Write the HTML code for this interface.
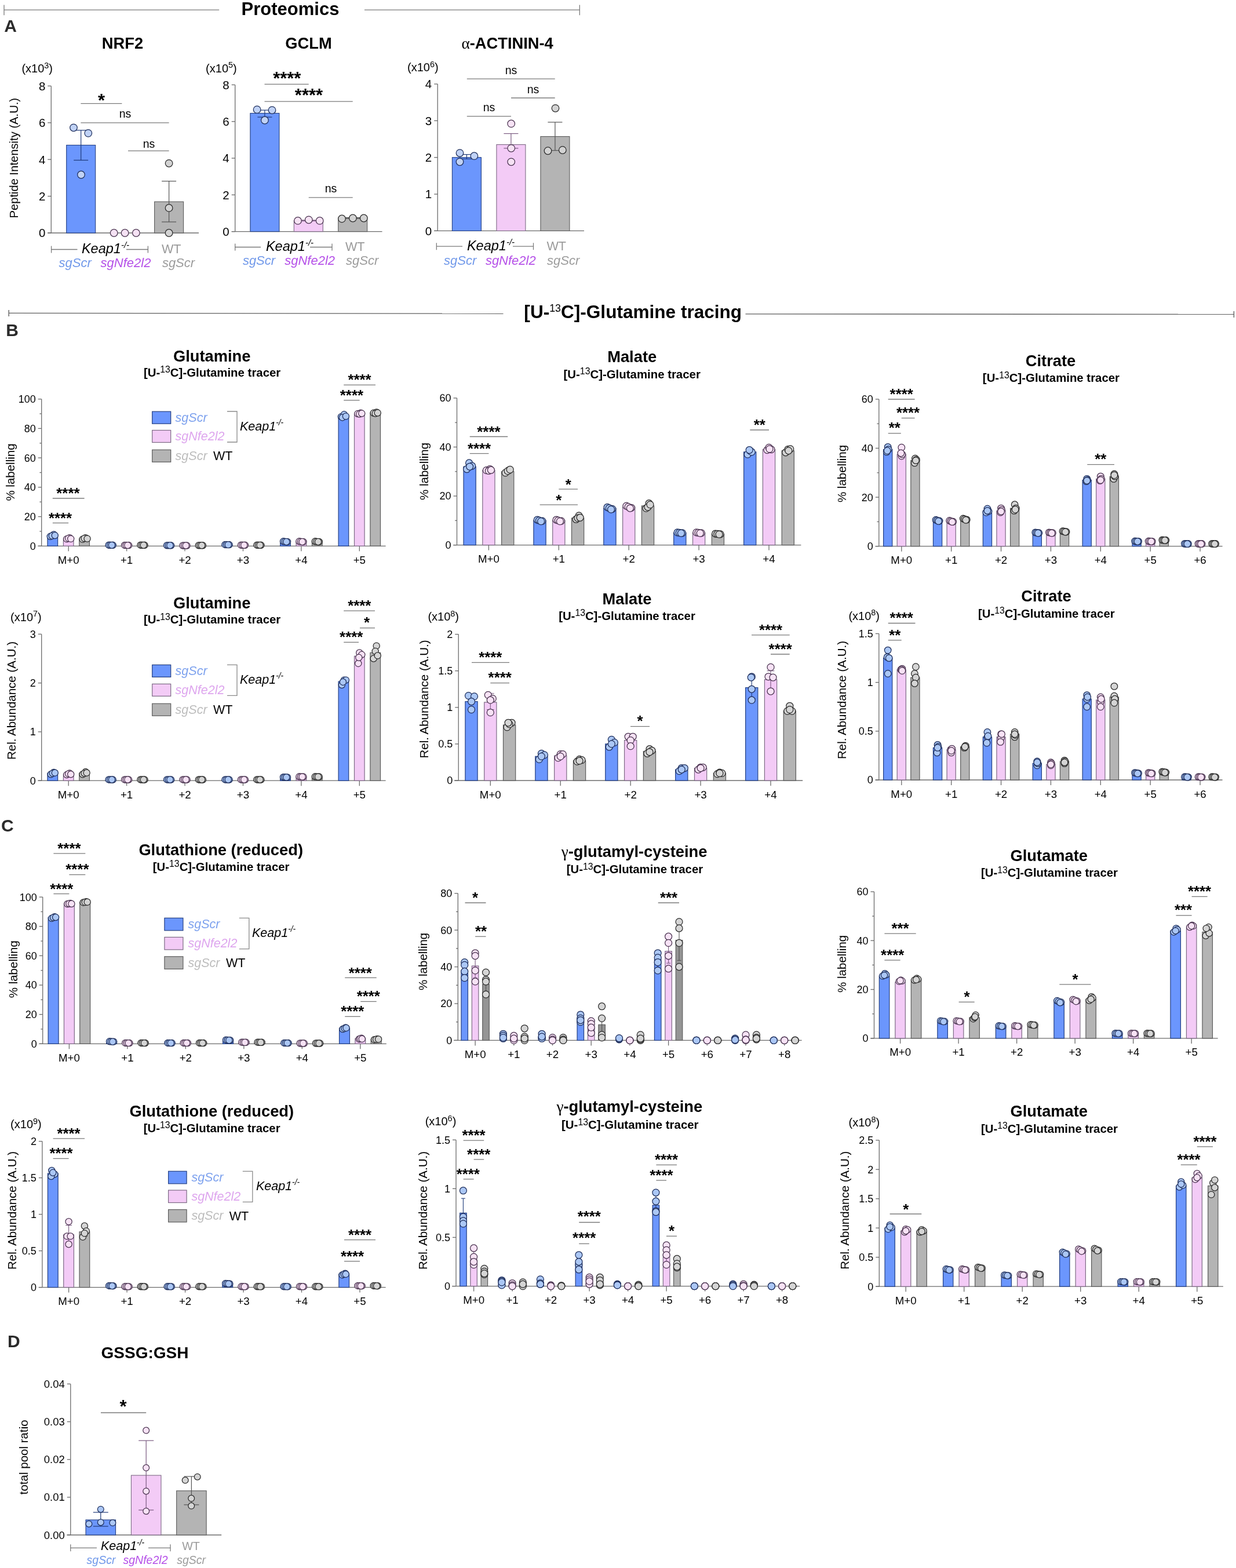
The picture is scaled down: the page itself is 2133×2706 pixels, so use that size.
<!DOCTYPE html>
<html><head><meta charset="utf-8"><title>Figure</title>
<style>html,body{margin:0;padding:0;background:#fff;}svg{display:block;}
text{font-family:"Liberation Sans",Arial,sans-serif;}</style></head>
<body><svg width="2133" height="2706" viewBox="0 0 2133 2706">
<rect width="2133" height="2706" fill="#fff"/>
<line x1="7" y1="17.2" x2="378.2" y2="17.2" stroke="#7a7a7a" stroke-width="1.3"/>
<line x1="629" y1="17.2" x2="1000.3" y2="17.2" stroke="#7a7a7a" stroke-width="1.3"/>
<line x1="7" y1="8.5" x2="7" y2="26.3" stroke="#7a7a7a" stroke-width="1.3"/>
<line x1="1000.3" y1="8.5" x2="1000.3" y2="26.3" stroke="#7a7a7a" stroke-width="1.3"/>
<text x="501" y="26.3" font-size="31" text-anchor="middle" font-weight="bold">Proteomics</text>
<line x1="15.2" y1="540.4" x2="868.5" y2="541.2" stroke="#5f5f5f" stroke-width="1.4"/>
<line x1="1286.5" y1="541.9" x2="2129.4" y2="542.4" stroke="#5f5f5f" stroke-width="1.4"/>
<line x1="15.2" y1="535" x2="15.2" y2="546" stroke="#5f5f5f" stroke-width="1.4"/>
<line x1="2129.4" y1="537" x2="2129.4" y2="548" stroke="#5f5f5f" stroke-width="1.4"/>
<text x="904.39" y="548.6" font-size="31" text-anchor="start" font-weight="bold" textLength="375.72" lengthAdjust="spacingAndGlyphs">[U-<tspan dy="-11" font-size="17.5" font-weight="normal">13</tspan><tspan dy="11">C]-Glutamine tracing</tspan></text>
<text x="7.3" y="55" font-size="30" text-anchor="start" font-weight="bold" fill="#2b2b2b">A</text>
<text x="10.3" y="579.6" font-size="30" text-anchor="start" font-weight="bold" fill="#2b2b2b">B</text>
<text x="2" y="1435" font-size="30" text-anchor="start" font-weight="bold" fill="#2b2b2b">C</text>
<text x="12.9" y="2325" font-size="30" text-anchor="start" font-weight="bold" fill="#2b2b2b">D</text>
<line x1="88.3" y1="148.4" x2="88.3" y2="402" stroke="#6b6b6b" stroke-width="1.3"/>
<line x1="82.3" y1="402" x2="343" y2="402" stroke="#6b6b6b" stroke-width="1.3"/>
<line x1="82.3" y1="402" x2="88.3" y2="402" stroke="#6b6b6b" stroke-width="1.3"/>
<text x="78.3" y="409.34" font-size="20.5" text-anchor="end">0</text>
<line x1="82.3" y1="338.6" x2="88.3" y2="338.6" stroke="#6b6b6b" stroke-width="1.3"/>
<text x="78.3" y="345.94" font-size="20.5" text-anchor="end">2</text>
<line x1="82.3" y1="275.2" x2="88.3" y2="275.2" stroke="#6b6b6b" stroke-width="1.3"/>
<text x="78.3" y="282.54" font-size="20.5" text-anchor="end">4</text>
<line x1="82.3" y1="211.8" x2="88.3" y2="211.8" stroke="#6b6b6b" stroke-width="1.3"/>
<text x="78.3" y="219.14" font-size="20.5" text-anchor="end">6</text>
<line x1="82.3" y1="148.4" x2="88.3" y2="148.4" stroke="#6b6b6b" stroke-width="1.3"/>
<text x="78.3" y="155.74" font-size="20.5" text-anchor="end">8</text>
<rect x="114.7" y="250.47" width="50" height="151.53" fill="#6b96fd" stroke="#233f82" stroke-width="1.1"/>
<rect x="266.6" y="348.11" width="50" height="53.89" fill="#b4b4b4" stroke="#5c5c5c" stroke-width="1.1"/>
<line x1="139.7" y1="224.8" x2="139.7" y2="276.47" stroke="#1f3a7a" stroke-width="1.2"/>
<line x1="127.2" y1="224.8" x2="152.2" y2="224.8" stroke="#1f3a7a" stroke-width="1.2"/>
<line x1="127.2" y1="276.47" x2="152.2" y2="276.47" stroke="#1f3a7a" stroke-width="1.2"/>
<line x1="291.6" y1="312.61" x2="291.6" y2="382.98" stroke="#555555" stroke-width="1.2"/>
<line x1="279.1" y1="312.61" x2="304.1" y2="312.61" stroke="#555555" stroke-width="1.2"/>
<line x1="279.1" y1="382.98" x2="304.1" y2="382.98" stroke="#555555" stroke-width="1.2"/>
<circle cx="127" cy="220.36" r="6.3" fill="#c0d2f6" stroke="#1f2f5c" stroke-width="1.25"/>
<circle cx="152.3" cy="229.87" r="6.3" fill="#c0d2f6" stroke="#1f2f5c" stroke-width="1.25"/>
<circle cx="140" cy="301.51" r="6.3" fill="#c0d2f6" stroke="#1f2f5c" stroke-width="1.25"/>
<circle cx="196.7" cy="402" r="6.3" fill="#f6e2f4" stroke="#4a3350" stroke-width="1.25"/>
<circle cx="215.6" cy="402" r="6.3" fill="#f6e2f4" stroke="#4a3350" stroke-width="1.25"/>
<circle cx="234.9" cy="402" r="6.3" fill="#f6e2f4" stroke="#4a3350" stroke-width="1.25"/>
<circle cx="291.6" cy="281.86" r="6.3" fill="#d3d3d3" stroke="#2a2a2a" stroke-width="1.25"/>
<circle cx="291.6" cy="358.89" r="6.3" fill="#d3d3d3" stroke="#2a2a2a" stroke-width="1.25"/>
<circle cx="291.6" cy="402" r="6.3" fill="#d3d3d3" stroke="#2a2a2a" stroke-width="1.25"/>
<line x1="139.4" y1="178.6" x2="210.4" y2="178.6" stroke="#7a7a7a" stroke-width="1.3"/>
<text x="175" y="183.51" font-size="31" text-anchor="middle" font-weight="bold">*</text>
<line x1="139.4" y1="211.9" x2="291.6" y2="211.9" stroke="#7a7a7a" stroke-width="1.3"/>
<text x="216" y="203.2" font-size="19.5" text-anchor="middle">ns</text>
<line x1="221" y1="260.4" x2="291.6" y2="260.4" stroke="#7a7a7a" stroke-width="1.3"/>
<text x="257" y="255" font-size="19.5" text-anchor="middle">ns</text>
<text x="211.5" y="84" font-size="27.3" text-anchor="middle" font-weight="bold">NRF2</text>
<text x="91" y="124.8" font-size="20" text-anchor="end">(x10<tspan dy="-7.2" font-size="14.4">3</tspan><tspan dy="7.2">)</tspan></text>
<text x="0" y="0" font-size="20.2" text-anchor="middle" transform="translate(31 272.7) rotate(-90)">Peptide Intensity (A.U.)</text>
<line x1="88.6" y1="430.5" x2="133.5" y2="430.5" stroke="#7a7a7a" stroke-width="1.3"/>
<line x1="218" y1="430.5" x2="255.4" y2="430.5" stroke="#7a7a7a" stroke-width="1.3"/>
<line x1="88.6" y1="424.5" x2="88.6" y2="436.5" stroke="#7a7a7a" stroke-width="1.3"/>
<line x1="255.4" y1="424.5" x2="255.4" y2="436.5" stroke="#7a7a7a" stroke-width="1.3"/>
<text x="182" y="437" font-size="23.5" text-anchor="middle" font-style="italic">Keap1<tspan dy="-9.4" font-size="15.04">-/-</tspan></text>
<text x="295.7" y="437" font-size="21.62" text-anchor="middle" fill="#9a9a9a">WT</text>
<text x="129.7" y="461" font-size="22" text-anchor="middle" font-style="italic" fill="#7199ea">sgScr</text>
<text x="217" y="461" font-size="22" text-anchor="middle" font-style="italic" fill="#b550e8">sgNfe2l2</text>
<text x="308" y="461" font-size="22" text-anchor="middle" font-style="italic" fill="#9c9c9c">sgScr</text>
<line x1="405.7" y1="146.4" x2="405.7" y2="399.6" stroke="#6b6b6b" stroke-width="1.3"/>
<line x1="399.7" y1="399.6" x2="659.5" y2="399.6" stroke="#6b6b6b" stroke-width="1.3"/>
<line x1="399.7" y1="399.6" x2="405.7" y2="399.6" stroke="#6b6b6b" stroke-width="1.3"/>
<text x="395.7" y="406.94" font-size="20.5" text-anchor="end">0</text>
<line x1="399.7" y1="336.3" x2="405.7" y2="336.3" stroke="#6b6b6b" stroke-width="1.3"/>
<text x="395.7" y="343.64" font-size="20.5" text-anchor="end">2</text>
<line x1="399.7" y1="273" x2="405.7" y2="273" stroke="#6b6b6b" stroke-width="1.3"/>
<text x="395.7" y="280.34" font-size="20.5" text-anchor="end">4</text>
<line x1="399.7" y1="209.7" x2="405.7" y2="209.7" stroke="#6b6b6b" stroke-width="1.3"/>
<text x="395.7" y="217.04" font-size="20.5" text-anchor="end">6</text>
<line x1="399.7" y1="146.4" x2="405.7" y2="146.4" stroke="#6b6b6b" stroke-width="1.3"/>
<text x="395.7" y="153.74" font-size="20.5" text-anchor="end">8</text>
<rect x="431.9" y="195.46" width="50" height="204.14" fill="#6b96fd" stroke="#233f82" stroke-width="1.1"/>
<rect x="507.3" y="380.61" width="50" height="18.99" fill="#f3cbf6" stroke="#7d6a85" stroke-width="1.1"/>
<rect x="583.7" y="376.18" width="50" height="23.42" fill="#b4b4b4" stroke="#5c5c5c" stroke-width="1.1"/>
<line x1="456.9" y1="190.08" x2="456.9" y2="202.1" stroke="#1f3a7a" stroke-width="1.2"/>
<line x1="444.4" y1="190.08" x2="469.4" y2="190.08" stroke="#1f3a7a" stroke-width="1.2"/>
<line x1="444.4" y1="202.1" x2="469.4" y2="202.1" stroke="#1f3a7a" stroke-width="1.2"/>
<line x1="532.3" y1="379.98" x2="532.3" y2="381.24" stroke="#7a5a80" stroke-width="1.2"/>
<line x1="519.8" y1="379.98" x2="544.8" y2="379.98" stroke="#7a5a80" stroke-width="1.2"/>
<line x1="519.8" y1="381.24" x2="544.8" y2="381.24" stroke="#7a5a80" stroke-width="1.2"/>
<line x1="608.7" y1="375.55" x2="608.7" y2="377.13" stroke="#555555" stroke-width="1.2"/>
<line x1="596.2" y1="375.55" x2="621.2" y2="375.55" stroke="#555555" stroke-width="1.2"/>
<line x1="596.2" y1="377.13" x2="621.2" y2="377.13" stroke="#555555" stroke-width="1.2"/>
<circle cx="443.6" cy="189.13" r="6.3" fill="#c0d2f6" stroke="#1f2f5c" stroke-width="1.25"/>
<circle cx="469.5" cy="190.08" r="6.3" fill="#c0d2f6" stroke="#1f2f5c" stroke-width="1.25"/>
<circle cx="456.9" cy="207.48" r="6.3" fill="#c0d2f6" stroke="#1f2f5c" stroke-width="1.25"/>
<circle cx="514" cy="380.93" r="6.3" fill="#f6e2f4" stroke="#4a3350" stroke-width="1.25"/>
<circle cx="532.8" cy="379.34" r="6.3" fill="#f6e2f4" stroke="#4a3350" stroke-width="1.25"/>
<circle cx="551.7" cy="380.93" r="6.3" fill="#f6e2f4" stroke="#4a3350" stroke-width="1.25"/>
<circle cx="590" cy="377.45" r="6.3" fill="#d3d3d3" stroke="#2a2a2a" stroke-width="1.25"/>
<circle cx="608.9" cy="376.5" r="6.3" fill="#d3d3d3" stroke="#2a2a2a" stroke-width="1.25"/>
<circle cx="627.8" cy="376.5" r="6.3" fill="#d3d3d3" stroke="#2a2a2a" stroke-width="1.25"/>
<line x1="456.5" y1="145.4" x2="532.7" y2="145.4" stroke="#7a7a7a" stroke-width="1.3"/>
<text x="495.3" y="145.71" font-size="31" text-anchor="middle" font-weight="bold">****</text>
<line x1="456.5" y1="175.2" x2="608.7" y2="175.2" stroke="#7a7a7a" stroke-width="1.3"/>
<text x="533" y="174.51" font-size="31" text-anchor="middle" font-weight="bold">****</text>
<line x1="532.7" y1="340.9" x2="608.7" y2="340.9" stroke="#7a7a7a" stroke-width="1.3"/>
<text x="571" y="332" font-size="19.5" text-anchor="middle">ns</text>
<text x="532.5" y="84" font-size="27.3" text-anchor="middle" font-weight="bold">GCLM</text>
<text x="408.7" y="124.5" font-size="20" text-anchor="end">(x10<tspan dy="-7.2" font-size="14.4">5</tspan><tspan dy="7.2">)</tspan></text>
<line x1="405.7" y1="426.5" x2="450" y2="426.5" stroke="#7a7a7a" stroke-width="1.3"/>
<line x1="535" y1="426.5" x2="573" y2="426.5" stroke="#7a7a7a" stroke-width="1.3"/>
<line x1="405.7" y1="420.5" x2="405.7" y2="432.5" stroke="#7a7a7a" stroke-width="1.3"/>
<line x1="573" y1="420.5" x2="573" y2="432.5" stroke="#7a7a7a" stroke-width="1.3"/>
<text x="500" y="433" font-size="23.5" text-anchor="middle" font-style="italic">Keap1<tspan dy="-9.4" font-size="15.04">-/-</tspan></text>
<text x="612.7" y="433" font-size="21.62" text-anchor="middle" fill="#9a9a9a">WT</text>
<text x="447" y="457" font-size="22" text-anchor="middle" font-style="italic" fill="#7199ea">sgScr</text>
<text x="534.6" y="457" font-size="22" text-anchor="middle" font-style="italic" fill="#b550e8">sgNfe2l2</text>
<text x="625.2" y="457" font-size="22" text-anchor="middle" font-style="italic" fill="#9c9c9c">sgScr</text>
<line x1="755.2" y1="145" x2="755.2" y2="398.4" stroke="#6b6b6b" stroke-width="1.3"/>
<line x1="749.2" y1="398.4" x2="1008" y2="398.4" stroke="#6b6b6b" stroke-width="1.3"/>
<line x1="749.2" y1="398.4" x2="755.2" y2="398.4" stroke="#6b6b6b" stroke-width="1.3"/>
<text x="745.2" y="405.74" font-size="20.5" text-anchor="end">0</text>
<line x1="749.2" y1="335.05" x2="755.2" y2="335.05" stroke="#6b6b6b" stroke-width="1.3"/>
<text x="745.2" y="342.39" font-size="20.5" text-anchor="end">1</text>
<line x1="749.2" y1="271.7" x2="755.2" y2="271.7" stroke="#6b6b6b" stroke-width="1.3"/>
<text x="745.2" y="279.04" font-size="20.5" text-anchor="end">2</text>
<line x1="749.2" y1="208.35" x2="755.2" y2="208.35" stroke="#6b6b6b" stroke-width="1.3"/>
<text x="745.2" y="215.69" font-size="20.5" text-anchor="end">3</text>
<line x1="749.2" y1="145" x2="755.2" y2="145" stroke="#6b6b6b" stroke-width="1.3"/>
<text x="745.2" y="152.34" font-size="20.5" text-anchor="end">4</text>
<rect x="780.4" y="271.7" width="50" height="126.7" fill="#6b96fd" stroke="#233f82" stroke-width="1.1"/>
<rect x="856.9" y="249.53" width="50" height="148.87" fill="#f3cbf6" stroke="#7d6a85" stroke-width="1.1"/>
<rect x="932.9" y="235.59" width="50" height="162.81" fill="#b4b4b4" stroke="#5c5c5c" stroke-width="1.1"/>
<line x1="805.4" y1="266.63" x2="805.4" y2="274.23" stroke="#1f3a7a" stroke-width="1.2"/>
<line x1="792.9" y1="266.63" x2="817.9" y2="266.63" stroke="#1f3a7a" stroke-width="1.2"/>
<line x1="792.9" y1="274.23" x2="817.9" y2="274.23" stroke="#1f3a7a" stroke-width="1.2"/>
<line x1="881.9" y1="230.52" x2="881.9" y2="255.86" stroke="#7a5a80" stroke-width="1.2"/>
<line x1="869.4" y1="230.52" x2="894.4" y2="230.52" stroke="#7a5a80" stroke-width="1.2"/>
<line x1="869.4" y1="255.86" x2="894.4" y2="255.86" stroke="#7a5a80" stroke-width="1.2"/>
<line x1="957.9" y1="210.88" x2="957.9" y2="259.66" stroke="#555555" stroke-width="1.2"/>
<line x1="945.4" y1="210.88" x2="970.4" y2="210.88" stroke="#555555" stroke-width="1.2"/>
<line x1="945.4" y1="259.66" x2="970.4" y2="259.66" stroke="#555555" stroke-width="1.2"/>
<circle cx="793.5" cy="264.1" r="6.3" fill="#c0d2f6" stroke="#1f2f5c" stroke-width="1.25"/>
<circle cx="818.4" cy="269.17" r="6.3" fill="#c0d2f6" stroke="#1f2f5c" stroke-width="1.25"/>
<circle cx="793.5" cy="279.3" r="6.3" fill="#c0d2f6" stroke="#1f2f5c" stroke-width="1.25"/>
<circle cx="882.2" cy="213.42" r="6.3" fill="#f6e2f4" stroke="#4a3350" stroke-width="1.25"/>
<circle cx="882.2" cy="255.86" r="6.3" fill="#f6e2f4" stroke="#4a3350" stroke-width="1.25"/>
<circle cx="882.2" cy="279.3" r="6.3" fill="#f6e2f4" stroke="#4a3350" stroke-width="1.25"/>
<circle cx="958.5" cy="186.81" r="6.3" fill="#d3d3d3" stroke="#2a2a2a" stroke-width="1.25"/>
<circle cx="945.5" cy="260.3" r="6.3" fill="#d3d3d3" stroke="#2a2a2a" stroke-width="1.25"/>
<circle cx="970.8" cy="259.03" r="6.3" fill="#d3d3d3" stroke="#2a2a2a" stroke-width="1.25"/>
<line x1="805.8" y1="136.2" x2="957.7" y2="136.2" stroke="#7a7a7a" stroke-width="1.3"/>
<text x="882" y="127.7" font-size="19.5" text-anchor="middle">ns</text>
<line x1="882" y1="169" x2="957.7" y2="169" stroke="#7a7a7a" stroke-width="1.3"/>
<text x="920" y="160.6" font-size="19.5" text-anchor="middle">ns</text>
<line x1="805.8" y1="200.7" x2="882" y2="200.7" stroke="#7a7a7a" stroke-width="1.3"/>
<text x="844" y="192.4" font-size="19.5" text-anchor="middle">ns</text>
<text x="875.6" y="84" font-size="27.3" text-anchor="middle" font-weight="bold"><tspan font-family='"Liberation Serif", serif' font-weight="normal">α</tspan>-ACTININ-4</text>
<text x="756.6" y="123" font-size="20" text-anchor="end">(x10<tspan dy="-7.2" font-size="14.4">6</tspan><tspan dy="7.2">)</tspan></text>
<line x1="753.3" y1="425.2" x2="798" y2="425.2" stroke="#7a7a7a" stroke-width="1.3"/>
<line x1="885" y1="425.2" x2="920.5" y2="425.2" stroke="#7a7a7a" stroke-width="1.3"/>
<line x1="753.3" y1="419.2" x2="753.3" y2="431.2" stroke="#7a7a7a" stroke-width="1.3"/>
<line x1="920.5" y1="419.2" x2="920.5" y2="431.2" stroke="#7a7a7a" stroke-width="1.3"/>
<text x="847" y="432" font-size="23.5" text-anchor="middle" font-style="italic">Keap1<tspan dy="-9.4" font-size="15.04">-/-</tspan></text>
<text x="960.2" y="432" font-size="21.62" text-anchor="middle" fill="#9a9a9a">WT</text>
<text x="794.2" y="456.5" font-size="22" text-anchor="middle" font-style="italic" fill="#7199ea">sgScr</text>
<text x="881.3" y="456.5" font-size="22" text-anchor="middle" font-style="italic" fill="#b550e8">sgNfe2l2</text>
<text x="972.2" y="456.5" font-size="22" text-anchor="middle" font-style="italic" fill="#9c9c9c">sgScr</text>
<line x1="71.7" y1="688.7" x2="71.7" y2="942.3" stroke="#6b6b6b" stroke-width="1.3"/>
<line x1="65.5" y1="942.3" x2="665.6" y2="942.3" stroke="#6b6b6b" stroke-width="1.3"/>
<line x1="65.7" y1="942.3" x2="71.7" y2="942.3" stroke="#6b6b6b" stroke-width="1.3"/>
<text x="61.7" y="948.74" font-size="18" text-anchor="end">0</text>
<line x1="65.7" y1="891.58" x2="71.7" y2="891.58" stroke="#6b6b6b" stroke-width="1.3"/>
<text x="61.7" y="898.02" font-size="18" text-anchor="end">20</text>
<line x1="65.7" y1="840.86" x2="71.7" y2="840.86" stroke="#6b6b6b" stroke-width="1.3"/>
<text x="61.7" y="847.3" font-size="18" text-anchor="end">40</text>
<line x1="65.7" y1="790.14" x2="71.7" y2="790.14" stroke="#6b6b6b" stroke-width="1.3"/>
<text x="61.7" y="796.58" font-size="18" text-anchor="end">60</text>
<line x1="65.7" y1="739.42" x2="71.7" y2="739.42" stroke="#6b6b6b" stroke-width="1.3"/>
<text x="61.7" y="745.86" font-size="18" text-anchor="end">80</text>
<line x1="65.7" y1="688.7" x2="71.7" y2="688.7" stroke="#6b6b6b" stroke-width="1.3"/>
<text x="61.7" y="695.14" font-size="18" text-anchor="end">100</text>
<line x1="68.4" y1="916.94" x2="71.7" y2="916.94" stroke="#6b6b6b" stroke-width="1.3"/>
<line x1="68.4" y1="866.22" x2="71.7" y2="866.22" stroke="#6b6b6b" stroke-width="1.3"/>
<line x1="68.4" y1="815.5" x2="71.7" y2="815.5" stroke="#6b6b6b" stroke-width="1.3"/>
<line x1="68.4" y1="764.78" x2="71.7" y2="764.78" stroke="#6b6b6b" stroke-width="1.3"/>
<line x1="68.4" y1="714.06" x2="71.7" y2="714.06" stroke="#6b6b6b" stroke-width="1.3"/>
<line x1="118.2" y1="942.3" x2="118.2" y2="951.3" stroke="#6b6b6b" stroke-width="1.3"/>
<text x="118.2" y="972.8" font-size="18.7" text-anchor="middle">M+0</text>
<line x1="218.62" y1="942.3" x2="218.62" y2="951.3" stroke="#6b6b6b" stroke-width="1.3"/>
<text x="218.62" y="972.8" font-size="18.7" text-anchor="middle">+1</text>
<line x1="319.04" y1="942.3" x2="319.04" y2="951.3" stroke="#6b6b6b" stroke-width="1.3"/>
<text x="319.04" y="972.8" font-size="18.7" text-anchor="middle">+2</text>
<line x1="419.46" y1="942.3" x2="419.46" y2="951.3" stroke="#6b6b6b" stroke-width="1.3"/>
<text x="419.46" y="972.8" font-size="18.7" text-anchor="middle">+3</text>
<line x1="519.88" y1="942.3" x2="519.88" y2="951.3" stroke="#6b6b6b" stroke-width="1.3"/>
<text x="519.88" y="972.8" font-size="18.7" text-anchor="middle">+4</text>
<line x1="620.3" y1="942.3" x2="620.3" y2="951.3" stroke="#6b6b6b" stroke-width="1.3"/>
<text x="620.3" y="972.8" font-size="18.7" text-anchor="middle">+5</text>
<rect x="82" y="924.55" width="17.6" height="17.75" fill="#6b96fd" stroke="#233f82" stroke-width="1.2"/>
<rect x="109.4" y="929.62" width="17.6" height="12.68" fill="#f3cbf6" stroke="#7d6a85" stroke-width="1.2"/>
<rect x="136.8" y="929.62" width="17.6" height="12.68" fill="#b4b4b4" stroke="#5c5c5c" stroke-width="1.2"/>
<rect x="182.42" y="940.78" width="17.6" height="1.52" fill="#6b96fd" stroke="#233f82" stroke-width="1.2"/>
<rect x="209.82" y="941.03" width="17.6" height="1.27" fill="#f3cbf6" stroke="#7d6a85" stroke-width="1.2"/>
<rect x="237.22" y="940.78" width="17.6" height="1.52" fill="#b4b4b4" stroke="#5c5c5c" stroke-width="1.2"/>
<rect x="282.84" y="941.29" width="17.6" height="1.01" fill="#6b96fd" stroke="#233f82" stroke-width="1.2"/>
<rect x="310.24" y="941.54" width="17.6" height="0.76" fill="#f3cbf6" stroke="#7d6a85" stroke-width="1.2"/>
<rect x="337.64" y="941.29" width="17.6" height="1.01" fill="#b4b4b4" stroke="#5c5c5c" stroke-width="1.2"/>
<rect x="383.26" y="940.02" width="17.6" height="2.28" fill="#6b96fd" stroke="#233f82" stroke-width="1.2"/>
<rect x="410.66" y="940.78" width="17.6" height="1.52" fill="#f3cbf6" stroke="#7d6a85" stroke-width="1.2"/>
<rect x="438.06" y="940.78" width="17.6" height="1.52" fill="#b4b4b4" stroke="#5c5c5c" stroke-width="1.2"/>
<rect x="483.68" y="934.69" width="17.6" height="7.61" fill="#6b96fd" stroke="#233f82" stroke-width="1.2"/>
<rect x="511.08" y="934.69" width="17.6" height="7.61" fill="#f3cbf6" stroke="#7d6a85" stroke-width="1.2"/>
<rect x="538.48" y="934.69" width="17.6" height="7.61" fill="#b4b4b4" stroke="#5c5c5c" stroke-width="1.2"/>
<rect x="584.1" y="719.13" width="17.6" height="223.17" fill="#6b96fd" stroke="#233f82" stroke-width="1.2"/>
<rect x="611.5" y="714.06" width="17.6" height="228.24" fill="#f3cbf6" stroke="#7d6a85" stroke-width="1.2"/>
<rect x="638.9" y="712.79" width="17.6" height="229.51" fill="#b4b4b4" stroke="#5c5c5c" stroke-width="1.2"/>
<circle cx="86.8" cy="925.82" r="5.6" fill="#abc7f5" stroke="#1f2f5c" stroke-width="1.25"/>
<circle cx="92.8" cy="922.52" r="5.6" fill="#abc7f5" stroke="#1f2f5c" stroke-width="1.25"/>
<circle cx="89.8" cy="924.8" r="5.6" fill="#abc7f5" stroke="#1f2f5c" stroke-width="1.25"/>
<circle cx="94.8" cy="924.04" r="5.6" fill="#abc7f5" stroke="#1f2f5c" stroke-width="1.25"/>
<circle cx="115.2" cy="930.13" r="5.6" fill="#f7e2f5" stroke="#4a3350" stroke-width="1.25"/>
<circle cx="120.2" cy="928.1" r="5.6" fill="#f7e2f5" stroke="#4a3350" stroke-width="1.25"/>
<circle cx="118.2" cy="929.11" r="5.6" fill="#f7e2f5" stroke="#4a3350" stroke-width="1.25"/>
<circle cx="122.2" cy="929.87" r="5.6" fill="#f7e2f5" stroke="#4a3350" stroke-width="1.25"/>
<circle cx="142.6" cy="930.63" r="5.6" fill="#d5d5d5" stroke="#2a2a2a" stroke-width="1.25"/>
<circle cx="147.6" cy="928.1" r="5.6" fill="#d5d5d5" stroke="#2a2a2a" stroke-width="1.25"/>
<circle cx="145.6" cy="929.11" r="5.6" fill="#d5d5d5" stroke="#2a2a2a" stroke-width="1.25"/>
<circle cx="150.6" cy="929.62" r="5.6" fill="#d5d5d5" stroke="#2a2a2a" stroke-width="1.25"/>
<circle cx="187.7" cy="940.7" r="5.6" fill="#abc7f5" stroke="#1f2f5c" stroke-width="1.25"/>
<circle cx="194.74" cy="940.82" r="5.6" fill="#abc7f5" stroke="#1f2f5c" stroke-width="1.25"/>
<circle cx="190.34" cy="940.76" r="5.6" fill="#abc7f5" stroke="#1f2f5c" stroke-width="1.25"/>
<circle cx="192.98" cy="940.85" r="5.6" fill="#abc7f5" stroke="#1f2f5c" stroke-width="1.25"/>
<circle cx="215.1" cy="940.97" r="5.6" fill="#f7e2f5" stroke="#4a3350" stroke-width="1.25"/>
<circle cx="222.14" cy="941.07" r="5.6" fill="#f7e2f5" stroke="#4a3350" stroke-width="1.25"/>
<circle cx="217.74" cy="941.02" r="5.6" fill="#f7e2f5" stroke="#4a3350" stroke-width="1.25"/>
<circle cx="220.38" cy="941.1" r="5.6" fill="#f7e2f5" stroke="#4a3350" stroke-width="1.25"/>
<circle cx="242.5" cy="940.7" r="5.6" fill="#d5d5d5" stroke="#2a2a2a" stroke-width="1.25"/>
<circle cx="249.54" cy="940.82" r="5.6" fill="#d5d5d5" stroke="#2a2a2a" stroke-width="1.25"/>
<circle cx="245.14" cy="940.76" r="5.6" fill="#d5d5d5" stroke="#2a2a2a" stroke-width="1.25"/>
<circle cx="247.78" cy="940.85" r="5.6" fill="#d5d5d5" stroke="#2a2a2a" stroke-width="1.25"/>
<circle cx="288.12" cy="941.23" r="5.6" fill="#abc7f5" stroke="#1f2f5c" stroke-width="1.25"/>
<circle cx="295.16" cy="941.32" r="5.6" fill="#abc7f5" stroke="#1f2f5c" stroke-width="1.25"/>
<circle cx="290.76" cy="941.28" r="5.6" fill="#abc7f5" stroke="#1f2f5c" stroke-width="1.25"/>
<circle cx="293.4" cy="941.34" r="5.6" fill="#abc7f5" stroke="#1f2f5c" stroke-width="1.25"/>
<circle cx="315.52" cy="941.5" r="5.6" fill="#f7e2f5" stroke="#4a3350" stroke-width="1.25"/>
<circle cx="322.56" cy="941.56" r="5.6" fill="#f7e2f5" stroke="#4a3350" stroke-width="1.25"/>
<circle cx="318.16" cy="941.53" r="5.6" fill="#f7e2f5" stroke="#4a3350" stroke-width="1.25"/>
<circle cx="320.8" cy="941.58" r="5.6" fill="#f7e2f5" stroke="#4a3350" stroke-width="1.25"/>
<circle cx="342.92" cy="941.23" r="5.6" fill="#d5d5d5" stroke="#2a2a2a" stroke-width="1.25"/>
<circle cx="349.96" cy="941.32" r="5.6" fill="#d5d5d5" stroke="#2a2a2a" stroke-width="1.25"/>
<circle cx="345.56" cy="941.28" r="5.6" fill="#d5d5d5" stroke="#2a2a2a" stroke-width="1.25"/>
<circle cx="348.2" cy="941.34" r="5.6" fill="#d5d5d5" stroke="#2a2a2a" stroke-width="1.25"/>
<circle cx="388.54" cy="939.9" r="5.6" fill="#abc7f5" stroke="#1f2f5c" stroke-width="1.25"/>
<circle cx="395.58" cy="940.09" r="5.6" fill="#abc7f5" stroke="#1f2f5c" stroke-width="1.25"/>
<circle cx="391.18" cy="939.99" r="5.6" fill="#abc7f5" stroke="#1f2f5c" stroke-width="1.25"/>
<circle cx="393.82" cy="940.13" r="5.6" fill="#abc7f5" stroke="#1f2f5c" stroke-width="1.25"/>
<circle cx="415.94" cy="940.7" r="5.6" fill="#f7e2f5" stroke="#4a3350" stroke-width="1.25"/>
<circle cx="422.98" cy="940.82" r="5.6" fill="#f7e2f5" stroke="#4a3350" stroke-width="1.25"/>
<circle cx="418.58" cy="940.76" r="5.6" fill="#f7e2f5" stroke="#4a3350" stroke-width="1.25"/>
<circle cx="421.22" cy="940.85" r="5.6" fill="#f7e2f5" stroke="#4a3350" stroke-width="1.25"/>
<circle cx="443.34" cy="940.7" r="5.6" fill="#d5d5d5" stroke="#2a2a2a" stroke-width="1.25"/>
<circle cx="450.38" cy="940.82" r="5.6" fill="#d5d5d5" stroke="#2a2a2a" stroke-width="1.25"/>
<circle cx="445.98" cy="940.76" r="5.6" fill="#d5d5d5" stroke="#2a2a2a" stroke-width="1.25"/>
<circle cx="448.62" cy="940.85" r="5.6" fill="#d5d5d5" stroke="#2a2a2a" stroke-width="1.25"/>
<circle cx="488.96" cy="934.31" r="5.6" fill="#abc7f5" stroke="#1f2f5c" stroke-width="1.25"/>
<circle cx="496" cy="934.92" r="5.6" fill="#abc7f5" stroke="#1f2f5c" stroke-width="1.25"/>
<circle cx="491.6" cy="934.62" r="5.6" fill="#abc7f5" stroke="#1f2f5c" stroke-width="1.25"/>
<circle cx="494.24" cy="935.07" r="5.6" fill="#abc7f5" stroke="#1f2f5c" stroke-width="1.25"/>
<circle cx="516.36" cy="934.31" r="5.6" fill="#f7e2f5" stroke="#4a3350" stroke-width="1.25"/>
<circle cx="523.4" cy="934.92" r="5.6" fill="#f7e2f5" stroke="#4a3350" stroke-width="1.25"/>
<circle cx="519" cy="934.62" r="5.6" fill="#f7e2f5" stroke="#4a3350" stroke-width="1.25"/>
<circle cx="521.64" cy="935.07" r="5.6" fill="#f7e2f5" stroke="#4a3350" stroke-width="1.25"/>
<circle cx="543.76" cy="934.31" r="5.6" fill="#d5d5d5" stroke="#2a2a2a" stroke-width="1.25"/>
<circle cx="550.8" cy="934.92" r="5.6" fill="#d5d5d5" stroke="#2a2a2a" stroke-width="1.25"/>
<circle cx="546.4" cy="934.62" r="5.6" fill="#d5d5d5" stroke="#2a2a2a" stroke-width="1.25"/>
<circle cx="549.04" cy="935.07" r="5.6" fill="#d5d5d5" stroke="#2a2a2a" stroke-width="1.25"/>
<circle cx="588.9" cy="719.13" r="5.6" fill="#abc7f5" stroke="#1f2f5c" stroke-width="1.25"/>
<circle cx="593.9" cy="715.33" r="5.6" fill="#abc7f5" stroke="#1f2f5c" stroke-width="1.25"/>
<circle cx="590.9" cy="720.4" r="5.6" fill="#abc7f5" stroke="#1f2f5c" stroke-width="1.25"/>
<circle cx="596.9" cy="718.37" r="5.6" fill="#abc7f5" stroke="#1f2f5c" stroke-width="1.25"/>
<circle cx="617.3" cy="714.06" r="5.6" fill="#f7e2f5" stroke="#4a3350" stroke-width="1.25"/>
<circle cx="622.3" cy="712.79" r="5.6" fill="#f7e2f5" stroke="#4a3350" stroke-width="1.25"/>
<circle cx="620.3" cy="714.57" r="5.6" fill="#f7e2f5" stroke="#4a3350" stroke-width="1.25"/>
<circle cx="624.3" cy="713.55" r="5.6" fill="#f7e2f5" stroke="#4a3350" stroke-width="1.25"/>
<circle cx="644.7" cy="712.79" r="5.6" fill="#d5d5d5" stroke="#2a2a2a" stroke-width="1.25"/>
<circle cx="649.7" cy="711.52" r="5.6" fill="#d5d5d5" stroke="#2a2a2a" stroke-width="1.25"/>
<circle cx="647.7" cy="713.55" r="5.6" fill="#d5d5d5" stroke="#2a2a2a" stroke-width="1.25"/>
<circle cx="651.7" cy="712.54" r="5.6" fill="#d5d5d5" stroke="#2a2a2a" stroke-width="1.25"/>
<line x1="90.8" y1="902.5" x2="118.2" y2="902.5" stroke="#7a7a7a" stroke-width="1.3"/>
<text x="104" y="902.56" font-size="25.8" text-anchor="middle" font-weight="bold">****</text>
<line x1="90.8" y1="860" x2="145.6" y2="860" stroke="#7a7a7a" stroke-width="1.3"/>
<text x="117.4" y="859.96" font-size="25.8" text-anchor="middle" font-weight="bold">****</text>
<line x1="593.2" y1="690.7" x2="620.6" y2="690.7" stroke="#7a7a7a" stroke-width="1.3"/>
<text x="606.9" y="690.76" font-size="25.8" text-anchor="middle" font-weight="bold">****</text>
<line x1="593.2" y1="664.4" x2="648" y2="664.4" stroke="#7a7a7a" stroke-width="1.3"/>
<text x="620.6" y="664.06" font-size="25.8" text-anchor="middle" font-weight="bold">****</text>
<text x="365.7" y="624" font-size="27.3" text-anchor="middle" font-weight="bold">Glutamine</text>
<text x="247.94" y="650.1" font-size="21" text-anchor="start" font-weight="bold" textLength="236.38" lengthAdjust="spacingAndGlyphs">[U-<tspan dy="-6.7" font-size="16.3" font-weight="normal">13</tspan><tspan dy="6.7">C]-Glutamine tracer</tspan></text>
<text x="0" y="0" font-size="20.5" text-anchor="middle" transform="translate(24.7 815) rotate(-90)">% labelling</text>
<rect x="262.7" y="710.2" width="32" height="21" fill="#6b96fd" stroke="#233f82" stroke-width="1.2"/>
<text x="302.6" y="727.8" font-size="21.5" text-anchor="start" font-style="italic" fill="#7ea2ee">sgScr</text>
<rect x="262.7" y="742.5" width="32" height="21" fill="#f3cbf6" stroke="#7d6a85" stroke-width="1.2"/>
<text x="302.6" y="760.1" font-size="21.5" text-anchor="start" font-style="italic" fill="#dea6ee">sgNfe2l2</text>
<rect x="262.7" y="776.3" width="32" height="21" fill="#b4b4b4" stroke="#5c5c5c" stroke-width="1.2"/>
<text x="302.6" y="793.89" font-size="21.5" text-anchor="start" font-style="italic" fill="#bdbdbd">sgScr</text>
<text x="368" y="794.32" font-size="21.5" text-anchor="start">WT</text>
<polyline points="392,710 409,710 409,763 392,763" fill="none" stroke="#8a8a8a" stroke-width="1.3"/>
<text x="414" y="742.82" font-size="21.5" text-anchor="start" font-style="italic">Keap1<tspan dy="-8.6" font-size="13.76">-/-</tspan></text>
<line x1="788.5" y1="686.92" x2="788.5" y2="940.6" stroke="#6b6b6b" stroke-width="1.3"/>
<line x1="782.2" y1="940.6" x2="1382.4" y2="940.6" stroke="#6b6b6b" stroke-width="1.3"/>
<line x1="782.5" y1="940.6" x2="788.5" y2="940.6" stroke="#6b6b6b" stroke-width="1.3"/>
<text x="778.5" y="947.04" font-size="18" text-anchor="end">0</text>
<line x1="782.5" y1="856.04" x2="788.5" y2="856.04" stroke="#6b6b6b" stroke-width="1.3"/>
<text x="778.5" y="862.48" font-size="18" text-anchor="end">20</text>
<line x1="782.5" y1="771.48" x2="788.5" y2="771.48" stroke="#6b6b6b" stroke-width="1.3"/>
<text x="778.5" y="777.92" font-size="18" text-anchor="end">40</text>
<line x1="782.5" y1="686.92" x2="788.5" y2="686.92" stroke="#6b6b6b" stroke-width="1.3"/>
<text x="778.5" y="693.36" font-size="18" text-anchor="end">60</text>
<line x1="785.2" y1="898.32" x2="788.5" y2="898.32" stroke="#6b6b6b" stroke-width="1.3"/>
<line x1="785.2" y1="813.76" x2="788.5" y2="813.76" stroke="#6b6b6b" stroke-width="1.3"/>
<line x1="785.2" y1="729.2" x2="788.5" y2="729.2" stroke="#6b6b6b" stroke-width="1.3"/>
<line x1="843.4" y1="940.6" x2="843.4" y2="949.6" stroke="#6b6b6b" stroke-width="1.3"/>
<text x="843.4" y="971.1" font-size="18.7" text-anchor="middle">M+0</text>
<line x1="964.3" y1="940.6" x2="964.3" y2="949.6" stroke="#6b6b6b" stroke-width="1.3"/>
<text x="964.3" y="971.1" font-size="18.7" text-anchor="middle">+1</text>
<line x1="1085.2" y1="940.6" x2="1085.2" y2="949.6" stroke="#6b6b6b" stroke-width="1.3"/>
<text x="1085.2" y="971.1" font-size="18.7" text-anchor="middle">+2</text>
<line x1="1206.1" y1="940.6" x2="1206.1" y2="949.6" stroke="#6b6b6b" stroke-width="1.3"/>
<text x="1206.1" y="971.1" font-size="18.7" text-anchor="middle">+3</text>
<line x1="1327" y1="940.6" x2="1327" y2="949.6" stroke="#6b6b6b" stroke-width="1.3"/>
<text x="1327" y="971.1" font-size="18.7" text-anchor="middle">+4</text>
<rect x="800" y="805.3" width="21.2" height="135.3" fill="#6b96fd" stroke="#233f82" stroke-width="1.2"/>
<rect x="832.8" y="811.65" width="21.2" height="128.95" fill="#f3cbf6" stroke="#7d6a85" stroke-width="1.2"/>
<rect x="865.6" y="813.76" width="21.2" height="126.84" fill="#b4b4b4" stroke="#5c5c5c" stroke-width="1.2"/>
<rect x="920.9" y="898.32" width="21.2" height="42.28" fill="#6b96fd" stroke="#233f82" stroke-width="1.2"/>
<rect x="953.7" y="898.32" width="21.2" height="42.28" fill="#f3cbf6" stroke="#7d6a85" stroke-width="1.2"/>
<rect x="986.5" y="894.09" width="21.2" height="46.51" fill="#b4b4b4" stroke="#5c5c5c" stroke-width="1.2"/>
<rect x="1041.8" y="877.18" width="21.2" height="63.42" fill="#6b96fd" stroke="#233f82" stroke-width="1.2"/>
<rect x="1074.6" y="875.07" width="21.2" height="65.53" fill="#f3cbf6" stroke="#7d6a85" stroke-width="1.2"/>
<rect x="1107.4" y="872.95" width="21.2" height="67.65" fill="#b4b4b4" stroke="#5c5c5c" stroke-width="1.2"/>
<rect x="1162.7" y="919.46" width="21.2" height="21.14" fill="#6b96fd" stroke="#233f82" stroke-width="1.2"/>
<rect x="1195.5" y="919.46" width="21.2" height="21.14" fill="#f3cbf6" stroke="#7d6a85" stroke-width="1.2"/>
<rect x="1228.3" y="921.57" width="21.2" height="19.03" fill="#b4b4b4" stroke="#5c5c5c" stroke-width="1.2"/>
<rect x="1283.6" y="779.94" width="21.2" height="160.66" fill="#6b96fd" stroke="#233f82" stroke-width="1.2"/>
<rect x="1316.4" y="775.71" width="21.2" height="164.89" fill="#f3cbf6" stroke="#7d6a85" stroke-width="1.2"/>
<rect x="1349.2" y="777.82" width="21.2" height="162.78" fill="#b4b4b4" stroke="#5c5c5c" stroke-width="1.2"/>
<circle cx="805.6" cy="809.53" r="6" fill="#abc7f5" stroke="#1f2f5c" stroke-width="1.25"/>
<circle cx="809.6" cy="798.96" r="6" fill="#abc7f5" stroke="#1f2f5c" stroke-width="1.25"/>
<circle cx="814.6" cy="804.04" r="6" fill="#abc7f5" stroke="#1f2f5c" stroke-width="1.25"/>
<circle cx="810.6" cy="805.3" r="6" fill="#abc7f5" stroke="#1f2f5c" stroke-width="1.25"/>
<circle cx="839.4" cy="811.65" r="6" fill="#f7e2f5" stroke="#4a3350" stroke-width="1.25"/>
<circle cx="845.4" cy="809.53" r="6" fill="#f7e2f5" stroke="#4a3350" stroke-width="1.25"/>
<circle cx="843.4" cy="812.49" r="6" fill="#f7e2f5" stroke="#4a3350" stroke-width="1.25"/>
<circle cx="847.4" cy="811.22" r="6" fill="#f7e2f5" stroke="#4a3350" stroke-width="1.25"/>
<circle cx="872.2" cy="815.87" r="6" fill="#d5d5d5" stroke="#2a2a2a" stroke-width="1.25"/>
<circle cx="878.2" cy="811.65" r="6" fill="#d5d5d5" stroke="#2a2a2a" stroke-width="1.25"/>
<circle cx="876.2" cy="812.91" r="6" fill="#d5d5d5" stroke="#2a2a2a" stroke-width="1.25"/>
<circle cx="880.2" cy="810.38" r="6" fill="#d5d5d5" stroke="#2a2a2a" stroke-width="1.25"/>
<circle cx="927.26" cy="897.05" r="6" fill="#abc7f5" stroke="#1f2f5c" stroke-width="1.25"/>
<circle cx="935.74" cy="899.08" r="6" fill="#abc7f5" stroke="#1f2f5c" stroke-width="1.25"/>
<circle cx="930.44" cy="898.07" r="6" fill="#abc7f5" stroke="#1f2f5c" stroke-width="1.25"/>
<circle cx="933.62" cy="899.59" r="6" fill="#abc7f5" stroke="#1f2f5c" stroke-width="1.25"/>
<circle cx="960.06" cy="897.05" r="6" fill="#f7e2f5" stroke="#4a3350" stroke-width="1.25"/>
<circle cx="968.54" cy="899.08" r="6" fill="#f7e2f5" stroke="#4a3350" stroke-width="1.25"/>
<circle cx="963.24" cy="898.07" r="6" fill="#f7e2f5" stroke="#4a3350" stroke-width="1.25"/>
<circle cx="966.42" cy="899.59" r="6" fill="#f7e2f5" stroke="#4a3350" stroke-width="1.25"/>
<circle cx="994.1" cy="896.21" r="6" fill="#d5d5d5" stroke="#2a2a2a" stroke-width="1.25"/>
<circle cx="999.1" cy="889.86" r="6" fill="#d5d5d5" stroke="#2a2a2a" stroke-width="1.25"/>
<circle cx="997.1" cy="894.09" r="6" fill="#d5d5d5" stroke="#2a2a2a" stroke-width="1.25"/>
<circle cx="1001.1" cy="893.25" r="6" fill="#d5d5d5" stroke="#2a2a2a" stroke-width="1.25"/>
<circle cx="1048.16" cy="875.28" r="6" fill="#abc7f5" stroke="#1f2f5c" stroke-width="1.25"/>
<circle cx="1056.64" cy="878.32" r="6" fill="#abc7f5" stroke="#1f2f5c" stroke-width="1.25"/>
<circle cx="1051.34" cy="876.8" r="6" fill="#abc7f5" stroke="#1f2f5c" stroke-width="1.25"/>
<circle cx="1054.52" cy="879.08" r="6" fill="#abc7f5" stroke="#1f2f5c" stroke-width="1.25"/>
<circle cx="1080.96" cy="873.1" r="6" fill="#f7e2f5" stroke="#4a3350" stroke-width="1.25"/>
<circle cx="1089.44" cy="876.25" r="6" fill="#f7e2f5" stroke="#4a3350" stroke-width="1.25"/>
<circle cx="1084.14" cy="874.67" r="6" fill="#f7e2f5" stroke="#4a3350" stroke-width="1.25"/>
<circle cx="1087.32" cy="877.03" r="6" fill="#f7e2f5" stroke="#4a3350" stroke-width="1.25"/>
<circle cx="1115" cy="877.18" r="6" fill="#d5d5d5" stroke="#2a2a2a" stroke-width="1.25"/>
<circle cx="1120" cy="868.72" r="6" fill="#d5d5d5" stroke="#2a2a2a" stroke-width="1.25"/>
<circle cx="1118" cy="875.07" r="6" fill="#d5d5d5" stroke="#2a2a2a" stroke-width="1.25"/>
<circle cx="1122" cy="870.84" r="6" fill="#d5d5d5" stroke="#2a2a2a" stroke-width="1.25"/>
<circle cx="1169.06" cy="918.83" r="6" fill="#abc7f5" stroke="#1f2f5c" stroke-width="1.25"/>
<circle cx="1177.54" cy="919.84" r="6" fill="#abc7f5" stroke="#1f2f5c" stroke-width="1.25"/>
<circle cx="1172.24" cy="919.33" r="6" fill="#abc7f5" stroke="#1f2f5c" stroke-width="1.25"/>
<circle cx="1175.42" cy="920.09" r="6" fill="#abc7f5" stroke="#1f2f5c" stroke-width="1.25"/>
<circle cx="1201.86" cy="918.83" r="6" fill="#f7e2f5" stroke="#4a3350" stroke-width="1.25"/>
<circle cx="1210.34" cy="919.84" r="6" fill="#f7e2f5" stroke="#4a3350" stroke-width="1.25"/>
<circle cx="1205.04" cy="919.33" r="6" fill="#f7e2f5" stroke="#4a3350" stroke-width="1.25"/>
<circle cx="1208.22" cy="920.09" r="6" fill="#f7e2f5" stroke="#4a3350" stroke-width="1.25"/>
<circle cx="1234.66" cy="921" r="6" fill="#d5d5d5" stroke="#2a2a2a" stroke-width="1.25"/>
<circle cx="1243.14" cy="921.92" r="6" fill="#d5d5d5" stroke="#2a2a2a" stroke-width="1.25"/>
<circle cx="1237.84" cy="921.46" r="6" fill="#d5d5d5" stroke="#2a2a2a" stroke-width="1.25"/>
<circle cx="1241.02" cy="922.14" r="6" fill="#d5d5d5" stroke="#2a2a2a" stroke-width="1.25"/>
<circle cx="1290.2" cy="784.16" r="6" fill="#abc7f5" stroke="#1f2f5c" stroke-width="1.25"/>
<circle cx="1294.2" cy="777.82" r="6" fill="#abc7f5" stroke="#1f2f5c" stroke-width="1.25"/>
<circle cx="1297.2" cy="779.94" r="6" fill="#abc7f5" stroke="#1f2f5c" stroke-width="1.25"/>
<circle cx="1293.2" cy="776.55" r="6" fill="#abc7f5" stroke="#1f2f5c" stroke-width="1.25"/>
<circle cx="1324" cy="776.55" r="6" fill="#f7e2f5" stroke="#4a3350" stroke-width="1.25"/>
<circle cx="1327" cy="772.33" r="6" fill="#f7e2f5" stroke="#4a3350" stroke-width="1.25"/>
<circle cx="1331" cy="775.71" r="6" fill="#f7e2f5" stroke="#4a3350" stroke-width="1.25"/>
<circle cx="1328" cy="774.86" r="6" fill="#f7e2f5" stroke="#4a3350" stroke-width="1.25"/>
<circle cx="1355.8" cy="780.78" r="6" fill="#d5d5d5" stroke="#2a2a2a" stroke-width="1.25"/>
<circle cx="1359.8" cy="775.71" r="6" fill="#d5d5d5" stroke="#2a2a2a" stroke-width="1.25"/>
<circle cx="1363.8" cy="774.86" r="6" fill="#d5d5d5" stroke="#2a2a2a" stroke-width="1.25"/>
<circle cx="1360.8" cy="777.82" r="6" fill="#d5d5d5" stroke="#2a2a2a" stroke-width="1.25"/>
<line x1="810.7" y1="782.6" x2="843.4" y2="782.6" stroke="#7a7a7a" stroke-width="1.3"/>
<text x="827" y="782.66" font-size="25.8" text-anchor="middle" font-weight="bold">****</text>
<line x1="810.7" y1="753.5" x2="876.2" y2="753.5" stroke="#7a7a7a" stroke-width="1.3"/>
<text x="843.4" y="753.96" font-size="25.8" text-anchor="middle" font-weight="bold">****</text>
<line x1="931.6" y1="871.1" x2="997" y2="871.1" stroke="#7a7a7a" stroke-width="1.3"/>
<text x="964.3" y="871.56" font-size="25.8" text-anchor="middle" font-weight="bold">*</text>
<line x1="964.3" y1="844.1" x2="997" y2="844.1" stroke="#7a7a7a" stroke-width="1.3"/>
<text x="980.7" y="844.96" font-size="25.8" text-anchor="middle" font-weight="bold">*</text>
<line x1="1294.3" y1="742" x2="1327" y2="742" stroke="#7a7a7a" stroke-width="1.3"/>
<text x="1310.7" y="742.46" font-size="25.8" text-anchor="middle" font-weight="bold">**</text>
<text x="1090.7" y="624.8" font-size="27.3" text-anchor="middle" font-weight="bold">Malate</text>
<text x="972.55" y="652.5" font-size="21" text-anchor="start" font-weight="bold" textLength="236.28" lengthAdjust="spacingAndGlyphs">[U-<tspan dy="-6.7" font-size="16.3" font-weight="normal">13</tspan><tspan dy="6.7">C]-Glutamine tracer</tspan></text>
<text x="0" y="0" font-size="20.5" text-anchor="middle" transform="translate(738.7 813.4) rotate(-90)">% labelling</text>
<line x1="1516.8" y1="688.9" x2="1516.8" y2="942.7" stroke="#6b6b6b" stroke-width="1.3"/>
<line x1="1510.5" y1="942.7" x2="2109.6" y2="942.7" stroke="#6b6b6b" stroke-width="1.3"/>
<line x1="1510.8" y1="942.7" x2="1516.8" y2="942.7" stroke="#6b6b6b" stroke-width="1.3"/>
<text x="1506.8" y="949.14" font-size="18" text-anchor="end">0</text>
<line x1="1510.8" y1="858.1" x2="1516.8" y2="858.1" stroke="#6b6b6b" stroke-width="1.3"/>
<text x="1506.8" y="864.54" font-size="18" text-anchor="end">20</text>
<line x1="1510.8" y1="773.5" x2="1516.8" y2="773.5" stroke="#6b6b6b" stroke-width="1.3"/>
<text x="1506.8" y="779.94" font-size="18" text-anchor="end">40</text>
<line x1="1510.8" y1="688.9" x2="1516.8" y2="688.9" stroke="#6b6b6b" stroke-width="1.3"/>
<text x="1506.8" y="695.34" font-size="18" text-anchor="end">60</text>
<line x1="1513.5" y1="900.4" x2="1516.8" y2="900.4" stroke="#6b6b6b" stroke-width="1.3"/>
<line x1="1513.5" y1="815.8" x2="1516.8" y2="815.8" stroke="#6b6b6b" stroke-width="1.3"/>
<line x1="1513.5" y1="731.2" x2="1516.8" y2="731.2" stroke="#6b6b6b" stroke-width="1.3"/>
<line x1="1555.8" y1="942.7" x2="1555.8" y2="951.7" stroke="#6b6b6b" stroke-width="1.3"/>
<text x="1555.8" y="973.2" font-size="18.7" text-anchor="middle">M+0</text>
<line x1="1641.68" y1="942.7" x2="1641.68" y2="951.7" stroke="#6b6b6b" stroke-width="1.3"/>
<text x="1641.68" y="973.2" font-size="18.7" text-anchor="middle">+1</text>
<line x1="1727.56" y1="942.7" x2="1727.56" y2="951.7" stroke="#6b6b6b" stroke-width="1.3"/>
<text x="1727.56" y="973.2" font-size="18.7" text-anchor="middle">+2</text>
<line x1="1813.44" y1="942.7" x2="1813.44" y2="951.7" stroke="#6b6b6b" stroke-width="1.3"/>
<text x="1813.44" y="973.2" font-size="18.7" text-anchor="middle">+3</text>
<line x1="1899.32" y1="942.7" x2="1899.32" y2="951.7" stroke="#6b6b6b" stroke-width="1.3"/>
<text x="1899.32" y="973.2" font-size="18.7" text-anchor="middle">+4</text>
<line x1="1985.2" y1="942.7" x2="1985.2" y2="951.7" stroke="#6b6b6b" stroke-width="1.3"/>
<text x="1985.2" y="973.2" font-size="18.7" text-anchor="middle">+5</text>
<line x1="2071.08" y1="942.7" x2="2071.08" y2="951.7" stroke="#6b6b6b" stroke-width="1.3"/>
<text x="2071.08" y="973.2" font-size="18.7" text-anchor="middle">+6</text>
<rect x="1524.6" y="775.62" width="15.2" height="167.09" fill="#6b96fd" stroke="#233f82" stroke-width="1.2"/>
<rect x="1548.2" y="784.08" width="15.2" height="158.62" fill="#f3cbf6" stroke="#7d6a85" stroke-width="1.2"/>
<rect x="1571.8" y="794.65" width="15.2" height="148.05" fill="#b4b4b4" stroke="#5c5c5c" stroke-width="1.2"/>
<rect x="1610.48" y="898.29" width="15.2" height="44.41" fill="#6b96fd" stroke="#233f82" stroke-width="1.2"/>
<rect x="1634.08" y="899.55" width="15.2" height="43.15" fill="#f3cbf6" stroke="#7d6a85" stroke-width="1.2"/>
<rect x="1657.68" y="896.17" width="15.2" height="46.53" fill="#b4b4b4" stroke="#5c5c5c" stroke-width="1.2"/>
<rect x="1696.36" y="881.37" width="15.2" height="61.34" fill="#6b96fd" stroke="#233f82" stroke-width="1.2"/>
<rect x="1719.96" y="881.37" width="15.2" height="61.34" fill="#f3cbf6" stroke="#7d6a85" stroke-width="1.2"/>
<rect x="1743.56" y="877.13" width="15.2" height="65.57" fill="#b4b4b4" stroke="#5c5c5c" stroke-width="1.2"/>
<rect x="1782.24" y="919.44" width="15.2" height="23.26" fill="#6b96fd" stroke="#233f82" stroke-width="1.2"/>
<rect x="1805.84" y="919.44" width="15.2" height="23.26" fill="#f3cbf6" stroke="#7d6a85" stroke-width="1.2"/>
<rect x="1829.44" y="917.32" width="15.2" height="25.38" fill="#b4b4b4" stroke="#5c5c5c" stroke-width="1.2"/>
<rect x="1868.12" y="828.49" width="15.2" height="114.21" fill="#6b96fd" stroke="#233f82" stroke-width="1.2"/>
<rect x="1891.72" y="826.38" width="15.2" height="116.33" fill="#f3cbf6" stroke="#7d6a85" stroke-width="1.2"/>
<rect x="1915.32" y="822.14" width="15.2" height="120.56" fill="#b4b4b4" stroke="#5c5c5c" stroke-width="1.2"/>
<rect x="1954" y="934.24" width="15.2" height="8.46" fill="#6b96fd" stroke="#233f82" stroke-width="1.2"/>
<rect x="1977.6" y="934.24" width="15.2" height="8.46" fill="#f3cbf6" stroke="#7d6a85" stroke-width="1.2"/>
<rect x="2001.2" y="932.12" width="15.2" height="10.58" fill="#b4b4b4" stroke="#5c5c5c" stroke-width="1.2"/>
<rect x="2039.88" y="938.47" width="15.2" height="4.23" fill="#6b96fd" stroke="#233f82" stroke-width="1.2"/>
<rect x="2063.48" y="938.47" width="15.2" height="4.23" fill="#f3cbf6" stroke="#7d6a85" stroke-width="1.2"/>
<rect x="2087.08" y="938.47" width="15.2" height="4.23" fill="#b4b4b4" stroke="#5c5c5c" stroke-width="1.2"/>
<circle cx="1530.2" cy="779.85" r="5.8" fill="#abc7f5" stroke="#1f2f5c" stroke-width="1.25"/>
<circle cx="1532.2" cy="771.38" r="5.8" fill="#abc7f5" stroke="#1f2f5c" stroke-width="1.25"/>
<circle cx="1533.2" cy="775.62" r="5.8" fill="#abc7f5" stroke="#1f2f5c" stroke-width="1.25"/>
<circle cx="1531.2" cy="777.73" r="5.8" fill="#abc7f5" stroke="#1f2f5c" stroke-width="1.25"/>
<circle cx="1555.8" cy="787.04" r="5.8" fill="#f7e2f5" stroke="#4a3350" stroke-width="1.25"/>
<circle cx="1555.8" cy="772.23" r="5.8" fill="#f7e2f5" stroke="#4a3350" stroke-width="1.25"/>
<circle cx="1556.8" cy="784.08" r="5.8" fill="#f7e2f5" stroke="#4a3350" stroke-width="1.25"/>
<circle cx="1554.8" cy="781.96" r="5.8" fill="#f7e2f5" stroke="#4a3350" stroke-width="1.25"/>
<circle cx="1578.4" cy="798.88" r="5.8" fill="#d5d5d5" stroke="#2a2a2a" stroke-width="1.25"/>
<circle cx="1579.4" cy="791.27" r="5.8" fill="#d5d5d5" stroke="#2a2a2a" stroke-width="1.25"/>
<circle cx="1581.4" cy="793.38" r="5.8" fill="#d5d5d5" stroke="#2a2a2a" stroke-width="1.25"/>
<circle cx="1580.4" cy="794.65" r="5.8" fill="#d5d5d5" stroke="#2a2a2a" stroke-width="1.25"/>
<circle cx="1615.04" cy="897.17" r="5.8" fill="#abc7f5" stroke="#1f2f5c" stroke-width="1.25"/>
<circle cx="1621.12" cy="898.95" r="5.8" fill="#abc7f5" stroke="#1f2f5c" stroke-width="1.25"/>
<circle cx="1617.32" cy="898.06" r="5.8" fill="#abc7f5" stroke="#1f2f5c" stroke-width="1.25"/>
<circle cx="1619.6" cy="899.4" r="5.8" fill="#abc7f5" stroke="#1f2f5c" stroke-width="1.25"/>
<circle cx="1638.64" cy="898.48" r="5.8" fill="#f7e2f5" stroke="#4a3350" stroke-width="1.25"/>
<circle cx="1644.72" cy="900.2" r="5.8" fill="#f7e2f5" stroke="#4a3350" stroke-width="1.25"/>
<circle cx="1640.92" cy="899.34" r="5.8" fill="#f7e2f5" stroke="#4a3350" stroke-width="1.25"/>
<circle cx="1643.2" cy="900.63" r="5.8" fill="#f7e2f5" stroke="#4a3350" stroke-width="1.25"/>
<circle cx="1662.24" cy="895.01" r="5.8" fill="#d5d5d5" stroke="#2a2a2a" stroke-width="1.25"/>
<circle cx="1668.32" cy="896.87" r="5.8" fill="#d5d5d5" stroke="#2a2a2a" stroke-width="1.25"/>
<circle cx="1664.52" cy="895.94" r="5.8" fill="#d5d5d5" stroke="#2a2a2a" stroke-width="1.25"/>
<circle cx="1666.8" cy="897.33" r="5.8" fill="#d5d5d5" stroke="#2a2a2a" stroke-width="1.25"/>
<circle cx="1701.96" cy="884.33" r="5.8" fill="#abc7f5" stroke="#1f2f5c" stroke-width="1.25"/>
<circle cx="1703.96" cy="877.98" r="5.8" fill="#abc7f5" stroke="#1f2f5c" stroke-width="1.25"/>
<circle cx="1705.96" cy="882.21" r="5.8" fill="#abc7f5" stroke="#1f2f5c" stroke-width="1.25"/>
<circle cx="1703.96" cy="881.37" r="5.8" fill="#abc7f5" stroke="#1f2f5c" stroke-width="1.25"/>
<circle cx="1726.56" cy="884.33" r="5.8" fill="#f7e2f5" stroke="#4a3350" stroke-width="1.25"/>
<circle cx="1727.56" cy="877.13" r="5.8" fill="#f7e2f5" stroke="#4a3350" stroke-width="1.25"/>
<circle cx="1728.56" cy="880.1" r="5.8" fill="#f7e2f5" stroke="#4a3350" stroke-width="1.25"/>
<circle cx="1727.56" cy="882.63" r="5.8" fill="#f7e2f5" stroke="#4a3350" stroke-width="1.25"/>
<circle cx="1750.16" cy="881.37" r="5.8" fill="#d5d5d5" stroke="#2a2a2a" stroke-width="1.25"/>
<circle cx="1751.16" cy="870.79" r="5.8" fill="#d5d5d5" stroke="#2a2a2a" stroke-width="1.25"/>
<circle cx="1753.16" cy="877.13" r="5.8" fill="#d5d5d5" stroke="#2a2a2a" stroke-width="1.25"/>
<circle cx="1752.16" cy="879.25" r="5.8" fill="#d5d5d5" stroke="#2a2a2a" stroke-width="1.25"/>
<circle cx="1786.8" cy="918.85" r="5.8" fill="#abc7f5" stroke="#1f2f5c" stroke-width="1.25"/>
<circle cx="1792.88" cy="919.78" r="5.8" fill="#abc7f5" stroke="#1f2f5c" stroke-width="1.25"/>
<circle cx="1789.08" cy="919.32" r="5.8" fill="#abc7f5" stroke="#1f2f5c" stroke-width="1.25"/>
<circle cx="1791.36" cy="920.02" r="5.8" fill="#abc7f5" stroke="#1f2f5c" stroke-width="1.25"/>
<circle cx="1810.4" cy="918.85" r="5.8" fill="#f7e2f5" stroke="#4a3350" stroke-width="1.25"/>
<circle cx="1816.48" cy="919.78" r="5.8" fill="#f7e2f5" stroke="#4a3350" stroke-width="1.25"/>
<circle cx="1812.68" cy="919.32" r="5.8" fill="#f7e2f5" stroke="#4a3350" stroke-width="1.25"/>
<circle cx="1814.96" cy="920.02" r="5.8" fill="#f7e2f5" stroke="#4a3350" stroke-width="1.25"/>
<circle cx="1834" cy="916.69" r="5.8" fill="#d5d5d5" stroke="#2a2a2a" stroke-width="1.25"/>
<circle cx="1840.08" cy="917.7" r="5.8" fill="#d5d5d5" stroke="#2a2a2a" stroke-width="1.25"/>
<circle cx="1836.28" cy="917.19" r="5.8" fill="#d5d5d5" stroke="#2a2a2a" stroke-width="1.25"/>
<circle cx="1838.56" cy="917.95" r="5.8" fill="#d5d5d5" stroke="#2a2a2a" stroke-width="1.25"/>
<circle cx="1874.72" cy="830.61" r="5.8" fill="#abc7f5" stroke="#1f2f5c" stroke-width="1.25"/>
<circle cx="1875.72" cy="826.38" r="5.8" fill="#abc7f5" stroke="#1f2f5c" stroke-width="1.25"/>
<circle cx="1876.72" cy="828.49" r="5.8" fill="#abc7f5" stroke="#1f2f5c" stroke-width="1.25"/>
<circle cx="1875.72" cy="829.34" r="5.8" fill="#abc7f5" stroke="#1f2f5c" stroke-width="1.25"/>
<circle cx="1898.32" cy="829.34" r="5.8" fill="#f7e2f5" stroke="#4a3350" stroke-width="1.25"/>
<circle cx="1899.32" cy="822.14" r="5.8" fill="#f7e2f5" stroke="#4a3350" stroke-width="1.25"/>
<circle cx="1900.32" cy="826.38" r="5.8" fill="#f7e2f5" stroke="#4a3350" stroke-width="1.25"/>
<circle cx="1899.32" cy="828.49" r="5.8" fill="#f7e2f5" stroke="#4a3350" stroke-width="1.25"/>
<circle cx="1921.92" cy="826.38" r="5.8" fill="#d5d5d5" stroke="#2a2a2a" stroke-width="1.25"/>
<circle cx="1922.92" cy="817.92" r="5.8" fill="#d5d5d5" stroke="#2a2a2a" stroke-width="1.25"/>
<circle cx="1923.92" cy="822.14" r="5.8" fill="#d5d5d5" stroke="#2a2a2a" stroke-width="1.25"/>
<circle cx="1922.92" cy="820.03" r="5.8" fill="#d5d5d5" stroke="#2a2a2a" stroke-width="1.25"/>
<circle cx="1958.56" cy="934.03" r="5.8" fill="#abc7f5" stroke="#1f2f5c" stroke-width="1.25"/>
<circle cx="1964.64" cy="934.37" r="5.8" fill="#abc7f5" stroke="#1f2f5c" stroke-width="1.25"/>
<circle cx="1960.84" cy="934.2" r="5.8" fill="#abc7f5" stroke="#1f2f5c" stroke-width="1.25"/>
<circle cx="1963.12" cy="934.45" r="5.8" fill="#abc7f5" stroke="#1f2f5c" stroke-width="1.25"/>
<circle cx="1982.16" cy="934.03" r="5.8" fill="#f7e2f5" stroke="#4a3350" stroke-width="1.25"/>
<circle cx="1988.24" cy="934.37" r="5.8" fill="#f7e2f5" stroke="#4a3350" stroke-width="1.25"/>
<circle cx="1984.44" cy="934.2" r="5.8" fill="#f7e2f5" stroke="#4a3350" stroke-width="1.25"/>
<circle cx="1986.72" cy="934.45" r="5.8" fill="#f7e2f5" stroke="#4a3350" stroke-width="1.25"/>
<circle cx="2005.76" cy="931.86" r="5.8" fill="#d5d5d5" stroke="#2a2a2a" stroke-width="1.25"/>
<circle cx="2011.84" cy="932.28" r="5.8" fill="#d5d5d5" stroke="#2a2a2a" stroke-width="1.25"/>
<circle cx="2008.04" cy="932.07" r="5.8" fill="#d5d5d5" stroke="#2a2a2a" stroke-width="1.25"/>
<circle cx="2010.32" cy="932.39" r="5.8" fill="#d5d5d5" stroke="#2a2a2a" stroke-width="1.25"/>
<circle cx="2044.44" cy="938.36" r="5.8" fill="#abc7f5" stroke="#1f2f5c" stroke-width="1.25"/>
<circle cx="2050.52" cy="938.53" r="5.8" fill="#abc7f5" stroke="#1f2f5c" stroke-width="1.25"/>
<circle cx="2046.72" cy="938.45" r="5.8" fill="#abc7f5" stroke="#1f2f5c" stroke-width="1.25"/>
<circle cx="2049" cy="938.58" r="5.8" fill="#abc7f5" stroke="#1f2f5c" stroke-width="1.25"/>
<circle cx="2068.04" cy="938.36" r="5.8" fill="#f7e2f5" stroke="#4a3350" stroke-width="1.25"/>
<circle cx="2074.12" cy="938.53" r="5.8" fill="#f7e2f5" stroke="#4a3350" stroke-width="1.25"/>
<circle cx="2070.32" cy="938.45" r="5.8" fill="#f7e2f5" stroke="#4a3350" stroke-width="1.25"/>
<circle cx="2072.6" cy="938.58" r="5.8" fill="#f7e2f5" stroke="#4a3350" stroke-width="1.25"/>
<circle cx="2091.64" cy="938.36" r="5.8" fill="#d5d5d5" stroke="#2a2a2a" stroke-width="1.25"/>
<circle cx="2097.72" cy="938.53" r="5.8" fill="#d5d5d5" stroke="#2a2a2a" stroke-width="1.25"/>
<circle cx="2093.92" cy="938.45" r="5.8" fill="#d5d5d5" stroke="#2a2a2a" stroke-width="1.25"/>
<circle cx="2096.2" cy="938.58" r="5.8" fill="#d5d5d5" stroke="#2a2a2a" stroke-width="1.25"/>
<line x1="1532.7" y1="747.8" x2="1554.8" y2="747.8" stroke="#7a7a7a" stroke-width="1.3"/>
<text x="1543.7" y="747.16" font-size="25.8" text-anchor="middle" font-weight="bold">**</text>
<line x1="1555.7" y1="721.5" x2="1578.6" y2="721.5" stroke="#7a7a7a" stroke-width="1.3"/>
<text x="1567" y="720.86" font-size="25.8" text-anchor="middle" font-weight="bold">****</text>
<line x1="1532.7" y1="689" x2="1578.6" y2="689" stroke="#7a7a7a" stroke-width="1.3"/>
<text x="1555.7" y="688.76" font-size="25.8" text-anchor="middle" font-weight="bold">****</text>
<line x1="1876.3" y1="801.6" x2="1923" y2="801.6" stroke="#7a7a7a" stroke-width="1.3"/>
<text x="1899.2" y="801.46" font-size="25.8" text-anchor="middle" font-weight="bold">**</text>
<text x="1813" y="631.7" font-size="27.3" text-anchor="middle" font-weight="bold">Citrate</text>
<text x="1695.85" y="659.4" font-size="21" text-anchor="start" font-weight="bold" textLength="236.19" lengthAdjust="spacingAndGlyphs">[U-<tspan dy="-6.7" font-size="16.3" font-weight="normal">13</tspan><tspan dy="6.7">C]-Glutamine tracer</tspan></text>
<text x="0" y="0" font-size="20.5" text-anchor="middle" transform="translate(1459.5 817.5) rotate(-90)">% labelling</text>
<line x1="71.7" y1="1094.39" x2="71.7" y2="1347.2" stroke="#6b6b6b" stroke-width="1.3"/>
<line x1="65.5" y1="1347.2" x2="665.6" y2="1347.2" stroke="#6b6b6b" stroke-width="1.3"/>
<line x1="65.7" y1="1347.2" x2="71.7" y2="1347.2" stroke="#6b6b6b" stroke-width="1.3"/>
<text x="61.7" y="1353.64" font-size="18" text-anchor="end">0</text>
<line x1="65.7" y1="1262.93" x2="71.7" y2="1262.93" stroke="#6b6b6b" stroke-width="1.3"/>
<text x="61.7" y="1269.37" font-size="18" text-anchor="end">1</text>
<line x1="65.7" y1="1178.66" x2="71.7" y2="1178.66" stroke="#6b6b6b" stroke-width="1.3"/>
<text x="61.7" y="1185.1" font-size="18" text-anchor="end">2</text>
<line x1="65.7" y1="1094.39" x2="71.7" y2="1094.39" stroke="#6b6b6b" stroke-width="1.3"/>
<text x="61.7" y="1100.83" font-size="18" text-anchor="end">3</text>
<line x1="118.2" y1="1347.2" x2="118.2" y2="1356.2" stroke="#6b6b6b" stroke-width="1.3"/>
<text x="118.2" y="1377.7" font-size="18.7" text-anchor="middle">M+0</text>
<line x1="218.62" y1="1347.2" x2="218.62" y2="1356.2" stroke="#6b6b6b" stroke-width="1.3"/>
<text x="218.62" y="1377.7" font-size="18.7" text-anchor="middle">+1</text>
<line x1="319.04" y1="1347.2" x2="319.04" y2="1356.2" stroke="#6b6b6b" stroke-width="1.3"/>
<text x="319.04" y="1377.7" font-size="18.7" text-anchor="middle">+2</text>
<line x1="419.46" y1="1347.2" x2="419.46" y2="1356.2" stroke="#6b6b6b" stroke-width="1.3"/>
<text x="419.46" y="1377.7" font-size="18.7" text-anchor="middle">+3</text>
<line x1="519.88" y1="1347.2" x2="519.88" y2="1356.2" stroke="#6b6b6b" stroke-width="1.3"/>
<text x="519.88" y="1377.7" font-size="18.7" text-anchor="middle">+4</text>
<line x1="620.3" y1="1347.2" x2="620.3" y2="1356.2" stroke="#6b6b6b" stroke-width="1.3"/>
<text x="620.3" y="1377.7" font-size="18.7" text-anchor="middle">+5</text>
<rect x="82" y="1334.56" width="17.6" height="12.64" fill="#6b96fd" stroke="#233f82" stroke-width="1.2"/>
<rect x="109.4" y="1336.24" width="17.6" height="10.96" fill="#f3cbf6" stroke="#7d6a85" stroke-width="1.2"/>
<rect x="136.8" y="1334.56" width="17.6" height="12.64" fill="#b4b4b4" stroke="#5c5c5c" stroke-width="1.2"/>
<rect x="182.42" y="1345.51" width="17.6" height="1.69" fill="#6b96fd" stroke="#233f82" stroke-width="1.2"/>
<rect x="209.82" y="1345.51" width="17.6" height="1.69" fill="#f3cbf6" stroke="#7d6a85" stroke-width="1.2"/>
<rect x="237.22" y="1345.51" width="17.6" height="1.69" fill="#b4b4b4" stroke="#5c5c5c" stroke-width="1.2"/>
<rect x="282.84" y="1345.51" width="17.6" height="1.69" fill="#6b96fd" stroke="#233f82" stroke-width="1.2"/>
<rect x="310.24" y="1345.51" width="17.6" height="1.69" fill="#f3cbf6" stroke="#7d6a85" stroke-width="1.2"/>
<rect x="337.64" y="1345.51" width="17.6" height="1.69" fill="#b4b4b4" stroke="#5c5c5c" stroke-width="1.2"/>
<rect x="383.26" y="1345.51" width="17.6" height="1.69" fill="#6b96fd" stroke="#233f82" stroke-width="1.2"/>
<rect x="410.66" y="1345.51" width="17.6" height="1.69" fill="#f3cbf6" stroke="#7d6a85" stroke-width="1.2"/>
<rect x="438.06" y="1345.51" width="17.6" height="1.69" fill="#b4b4b4" stroke="#5c5c5c" stroke-width="1.2"/>
<rect x="483.68" y="1341.3" width="17.6" height="5.9" fill="#6b96fd" stroke="#233f82" stroke-width="1.2"/>
<rect x="511.08" y="1340.46" width="17.6" height="6.74" fill="#f3cbf6" stroke="#7d6a85" stroke-width="1.2"/>
<rect x="538.48" y="1340.46" width="17.6" height="6.74" fill="#b4b4b4" stroke="#5c5c5c" stroke-width="1.2"/>
<rect x="584.1" y="1176.13" width="17.6" height="171.07" fill="#6b96fd" stroke="#233f82" stroke-width="1.2"/>
<rect x="611.5" y="1132.31" width="17.6" height="214.89" fill="#f3cbf6" stroke="#7d6a85" stroke-width="1.2"/>
<rect x="638.9" y="1126.41" width="17.6" height="220.79" fill="#b4b4b4" stroke="#5c5c5c" stroke-width="1.2"/>
<circle cx="87.8" cy="1336.24" r="5.6" fill="#abc7f5" stroke="#1f2f5c" stroke-width="1.25"/>
<circle cx="92.8" cy="1332.87" r="5.6" fill="#abc7f5" stroke="#1f2f5c" stroke-width="1.25"/>
<circle cx="90.8" cy="1334.56" r="5.6" fill="#abc7f5" stroke="#1f2f5c" stroke-width="1.25"/>
<circle cx="94.8" cy="1333.72" r="5.6" fill="#abc7f5" stroke="#1f2f5c" stroke-width="1.25"/>
<circle cx="115.2" cy="1337.09" r="5.6" fill="#f7e2f5" stroke="#4a3350" stroke-width="1.25"/>
<circle cx="120.2" cy="1334.56" r="5.6" fill="#f7e2f5" stroke="#4a3350" stroke-width="1.25"/>
<circle cx="118.2" cy="1335.4" r="5.6" fill="#f7e2f5" stroke="#4a3350" stroke-width="1.25"/>
<circle cx="122.2" cy="1336.24" r="5.6" fill="#f7e2f5" stroke="#4a3350" stroke-width="1.25"/>
<circle cx="142.6" cy="1336.24" r="5.6" fill="#d5d5d5" stroke="#2a2a2a" stroke-width="1.25"/>
<circle cx="147.6" cy="1332.03" r="5.6" fill="#d5d5d5" stroke="#2a2a2a" stroke-width="1.25"/>
<circle cx="145.6" cy="1334.56" r="5.6" fill="#d5d5d5" stroke="#2a2a2a" stroke-width="1.25"/>
<circle cx="149.6" cy="1333.72" r="5.6" fill="#d5d5d5" stroke="#2a2a2a" stroke-width="1.25"/>
<circle cx="187.7" cy="1345.47" r="5.6" fill="#abc7f5" stroke="#1f2f5c" stroke-width="1.25"/>
<circle cx="194.74" cy="1345.54" r="5.6" fill="#abc7f5" stroke="#1f2f5c" stroke-width="1.25"/>
<circle cx="190.34" cy="1345.51" r="5.6" fill="#abc7f5" stroke="#1f2f5c" stroke-width="1.25"/>
<circle cx="192.98" cy="1345.56" r="5.6" fill="#abc7f5" stroke="#1f2f5c" stroke-width="1.25"/>
<circle cx="215.1" cy="1345.47" r="5.6" fill="#f7e2f5" stroke="#4a3350" stroke-width="1.25"/>
<circle cx="222.14" cy="1345.54" r="5.6" fill="#f7e2f5" stroke="#4a3350" stroke-width="1.25"/>
<circle cx="217.74" cy="1345.51" r="5.6" fill="#f7e2f5" stroke="#4a3350" stroke-width="1.25"/>
<circle cx="220.38" cy="1345.56" r="5.6" fill="#f7e2f5" stroke="#4a3350" stroke-width="1.25"/>
<circle cx="242.5" cy="1345.47" r="5.6" fill="#d5d5d5" stroke="#2a2a2a" stroke-width="1.25"/>
<circle cx="249.54" cy="1345.54" r="5.6" fill="#d5d5d5" stroke="#2a2a2a" stroke-width="1.25"/>
<circle cx="245.14" cy="1345.51" r="5.6" fill="#d5d5d5" stroke="#2a2a2a" stroke-width="1.25"/>
<circle cx="247.78" cy="1345.56" r="5.6" fill="#d5d5d5" stroke="#2a2a2a" stroke-width="1.25"/>
<circle cx="288.12" cy="1345.47" r="5.6" fill="#abc7f5" stroke="#1f2f5c" stroke-width="1.25"/>
<circle cx="295.16" cy="1345.54" r="5.6" fill="#abc7f5" stroke="#1f2f5c" stroke-width="1.25"/>
<circle cx="290.76" cy="1345.51" r="5.6" fill="#abc7f5" stroke="#1f2f5c" stroke-width="1.25"/>
<circle cx="293.4" cy="1345.56" r="5.6" fill="#abc7f5" stroke="#1f2f5c" stroke-width="1.25"/>
<circle cx="315.52" cy="1345.47" r="5.6" fill="#f7e2f5" stroke="#4a3350" stroke-width="1.25"/>
<circle cx="322.56" cy="1345.54" r="5.6" fill="#f7e2f5" stroke="#4a3350" stroke-width="1.25"/>
<circle cx="318.16" cy="1345.51" r="5.6" fill="#f7e2f5" stroke="#4a3350" stroke-width="1.25"/>
<circle cx="320.8" cy="1345.56" r="5.6" fill="#f7e2f5" stroke="#4a3350" stroke-width="1.25"/>
<circle cx="342.92" cy="1345.47" r="5.6" fill="#d5d5d5" stroke="#2a2a2a" stroke-width="1.25"/>
<circle cx="349.96" cy="1345.54" r="5.6" fill="#d5d5d5" stroke="#2a2a2a" stroke-width="1.25"/>
<circle cx="345.56" cy="1345.51" r="5.6" fill="#d5d5d5" stroke="#2a2a2a" stroke-width="1.25"/>
<circle cx="348.2" cy="1345.56" r="5.6" fill="#d5d5d5" stroke="#2a2a2a" stroke-width="1.25"/>
<circle cx="388.54" cy="1345.47" r="5.6" fill="#abc7f5" stroke="#1f2f5c" stroke-width="1.25"/>
<circle cx="395.58" cy="1345.54" r="5.6" fill="#abc7f5" stroke="#1f2f5c" stroke-width="1.25"/>
<circle cx="391.18" cy="1345.51" r="5.6" fill="#abc7f5" stroke="#1f2f5c" stroke-width="1.25"/>
<circle cx="393.82" cy="1345.56" r="5.6" fill="#abc7f5" stroke="#1f2f5c" stroke-width="1.25"/>
<circle cx="415.94" cy="1345.47" r="5.6" fill="#f7e2f5" stroke="#4a3350" stroke-width="1.25"/>
<circle cx="422.98" cy="1345.54" r="5.6" fill="#f7e2f5" stroke="#4a3350" stroke-width="1.25"/>
<circle cx="418.58" cy="1345.51" r="5.6" fill="#f7e2f5" stroke="#4a3350" stroke-width="1.25"/>
<circle cx="421.22" cy="1345.56" r="5.6" fill="#f7e2f5" stroke="#4a3350" stroke-width="1.25"/>
<circle cx="443.34" cy="1345.47" r="5.6" fill="#d5d5d5" stroke="#2a2a2a" stroke-width="1.25"/>
<circle cx="450.38" cy="1345.54" r="5.6" fill="#d5d5d5" stroke="#2a2a2a" stroke-width="1.25"/>
<circle cx="445.98" cy="1345.51" r="5.6" fill="#d5d5d5" stroke="#2a2a2a" stroke-width="1.25"/>
<circle cx="448.62" cy="1345.56" r="5.6" fill="#d5d5d5" stroke="#2a2a2a" stroke-width="1.25"/>
<circle cx="488.96" cy="1341.15" r="5.6" fill="#abc7f5" stroke="#1f2f5c" stroke-width="1.25"/>
<circle cx="496" cy="1341.39" r="5.6" fill="#abc7f5" stroke="#1f2f5c" stroke-width="1.25"/>
<circle cx="491.6" cy="1341.27" r="5.6" fill="#abc7f5" stroke="#1f2f5c" stroke-width="1.25"/>
<circle cx="494.24" cy="1341.45" r="5.6" fill="#abc7f5" stroke="#1f2f5c" stroke-width="1.25"/>
<circle cx="516.36" cy="1340.29" r="5.6" fill="#f7e2f5" stroke="#4a3350" stroke-width="1.25"/>
<circle cx="523.4" cy="1340.56" r="5.6" fill="#f7e2f5" stroke="#4a3350" stroke-width="1.25"/>
<circle cx="519" cy="1340.42" r="5.6" fill="#f7e2f5" stroke="#4a3350" stroke-width="1.25"/>
<circle cx="521.64" cy="1340.63" r="5.6" fill="#f7e2f5" stroke="#4a3350" stroke-width="1.25"/>
<circle cx="543.76" cy="1340.29" r="5.6" fill="#d5d5d5" stroke="#2a2a2a" stroke-width="1.25"/>
<circle cx="550.8" cy="1340.56" r="5.6" fill="#d5d5d5" stroke="#2a2a2a" stroke-width="1.25"/>
<circle cx="546.4" cy="1340.42" r="5.6" fill="#d5d5d5" stroke="#2a2a2a" stroke-width="1.25"/>
<circle cx="549.04" cy="1340.63" r="5.6" fill="#d5d5d5" stroke="#2a2a2a" stroke-width="1.25"/>
<circle cx="589.9" cy="1182.03" r="5.6" fill="#abc7f5" stroke="#1f2f5c" stroke-width="1.25"/>
<circle cx="593.9" cy="1173.6" r="5.6" fill="#abc7f5" stroke="#1f2f5c" stroke-width="1.25"/>
<circle cx="596.9" cy="1173.6" r="5.6" fill="#abc7f5" stroke="#1f2f5c" stroke-width="1.25"/>
<circle cx="591.9" cy="1176.97" r="5.6" fill="#abc7f5" stroke="#1f2f5c" stroke-width="1.25"/>
<circle cx="618.3" cy="1144.95" r="5.6" fill="#f7e2f5" stroke="#4a3350" stroke-width="1.25"/>
<circle cx="620.3" cy="1126.41" r="5.6" fill="#f7e2f5" stroke="#4a3350" stroke-width="1.25"/>
<circle cx="624.3" cy="1129.78" r="5.6" fill="#f7e2f5" stroke="#4a3350" stroke-width="1.25"/>
<circle cx="619.3" cy="1134.84" r="5.6" fill="#f7e2f5" stroke="#4a3350" stroke-width="1.25"/>
<circle cx="644.7" cy="1136.53" r="5.6" fill="#d5d5d5" stroke="#2a2a2a" stroke-width="1.25"/>
<circle cx="649.7" cy="1114.61" r="5.6" fill="#d5d5d5" stroke="#2a2a2a" stroke-width="1.25"/>
<circle cx="647.7" cy="1123.88" r="5.6" fill="#d5d5d5" stroke="#2a2a2a" stroke-width="1.25"/>
<circle cx="651.7" cy="1131.47" r="5.6" fill="#d5d5d5" stroke="#2a2a2a" stroke-width="1.25"/>
<line x1="593.2" y1="1108.4" x2="619" y2="1108.4" stroke="#7a7a7a" stroke-width="1.3"/>
<text x="606.2" y="1107.96" font-size="25.8" text-anchor="middle" font-weight="bold">****</text>
<line x1="621" y1="1083.7" x2="647" y2="1083.7" stroke="#7a7a7a" stroke-width="1.3"/>
<text x="633" y="1082.96" font-size="25.8" text-anchor="middle" font-weight="bold">*</text>
<line x1="593.2" y1="1054.2" x2="647" y2="1054.2" stroke="#7a7a7a" stroke-width="1.3"/>
<text x="620.3" y="1053.86" font-size="25.8" text-anchor="middle" font-weight="bold">****</text>
<text x="365.7" y="1049.9" font-size="27.3" text-anchor="middle" font-weight="bold">Glutamine</text>
<text x="247.94" y="1076.4" font-size="21" text-anchor="start" font-weight="bold" textLength="236.38" lengthAdjust="spacingAndGlyphs">[U-<tspan dy="-6.7" font-size="16.3" font-weight="normal">13</tspan><tspan dy="6.7">C]-Glutamine tracer</tspan></text>
<text x="71.7" y="1071.5" font-size="20" text-anchor="end">(x10<tspan dy="-7.2" font-size="14.4">7</tspan><tspan dy="7.2">)</tspan></text>
<text x="0" y="0" font-size="20.5" text-anchor="middle" transform="translate(27 1209) rotate(-90)">Rel. Abundance (A.U.)</text>
<rect x="262.7" y="1147.4" width="32" height="21" fill="#6b96fd" stroke="#233f82" stroke-width="1.2"/>
<text x="302.6" y="1165" font-size="21.5" text-anchor="start" font-style="italic" fill="#7ea2ee">sgScr</text>
<rect x="262.7" y="1180.4" width="32" height="21" fill="#f3cbf6" stroke="#7d6a85" stroke-width="1.2"/>
<text x="302.6" y="1198" font-size="21.5" text-anchor="start" font-style="italic" fill="#dea6ee">sgNfe2l2</text>
<rect x="262.7" y="1214.3" width="32" height="21" fill="#b4b4b4" stroke="#5c5c5c" stroke-width="1.2"/>
<text x="302.6" y="1231.89" font-size="21.5" text-anchor="start" font-style="italic" fill="#bdbdbd">sgScr</text>
<text x="368" y="1232.33" font-size="21.5" text-anchor="start">WT</text>
<polyline points="392,1147.4 409,1147.4 409,1200.3 392,1200.3" fill="none" stroke="#8a8a8a" stroke-width="1.3"/>
<text x="414" y="1180.03" font-size="21.5" text-anchor="start" font-style="italic">Keap1<tspan dy="-8.6" font-size="13.76">-/-</tspan></text>
<line x1="791.2" y1="1094.6" x2="791.2" y2="1347" stroke="#6b6b6b" stroke-width="1.3"/>
<line x1="784" y1="1347" x2="1385.2" y2="1347" stroke="#6b6b6b" stroke-width="1.3"/>
<line x1="785.2" y1="1347" x2="791.2" y2="1347" stroke="#6b6b6b" stroke-width="1.3"/>
<text x="781.2" y="1353.44" font-size="18" text-anchor="end">0</text>
<line x1="785.2" y1="1283.9" x2="791.2" y2="1283.9" stroke="#6b6b6b" stroke-width="1.3"/>
<text x="781.2" y="1290.34" font-size="18" text-anchor="end">0.5</text>
<line x1="785.2" y1="1220.8" x2="791.2" y2="1220.8" stroke="#6b6b6b" stroke-width="1.3"/>
<text x="781.2" y="1227.24" font-size="18" text-anchor="end">1</text>
<line x1="785.2" y1="1157.7" x2="791.2" y2="1157.7" stroke="#6b6b6b" stroke-width="1.3"/>
<text x="781.2" y="1164.14" font-size="18" text-anchor="end">1.5</text>
<line x1="785.2" y1="1094.6" x2="791.2" y2="1094.6" stroke="#6b6b6b" stroke-width="1.3"/>
<text x="781.2" y="1101.04" font-size="18" text-anchor="end">2</text>
<line x1="846.3" y1="1347" x2="846.3" y2="1356" stroke="#6b6b6b" stroke-width="1.3"/>
<text x="846.3" y="1377.5" font-size="18.7" text-anchor="middle">M+0</text>
<line x1="967.23" y1="1347" x2="967.23" y2="1356" stroke="#6b6b6b" stroke-width="1.3"/>
<text x="967.23" y="1377.5" font-size="18.7" text-anchor="middle">+1</text>
<line x1="1088.16" y1="1347" x2="1088.16" y2="1356" stroke="#6b6b6b" stroke-width="1.3"/>
<text x="1088.16" y="1377.5" font-size="18.7" text-anchor="middle">+2</text>
<line x1="1209.09" y1="1347" x2="1209.09" y2="1356" stroke="#6b6b6b" stroke-width="1.3"/>
<text x="1209.09" y="1377.5" font-size="18.7" text-anchor="middle">+3</text>
<line x1="1330.02" y1="1347" x2="1330.02" y2="1356" stroke="#6b6b6b" stroke-width="1.3"/>
<text x="1330.02" y="1377.5" font-size="18.7" text-anchor="middle">+4</text>
<rect x="802.9" y="1210.7" width="21.2" height="136.3" fill="#6b96fd" stroke="#233f82" stroke-width="1.2"/>
<rect x="835.7" y="1211.97" width="21.2" height="135.03" fill="#f3cbf6" stroke="#7d6a85" stroke-width="1.2"/>
<rect x="868.5" y="1251.09" width="21.2" height="95.91" fill="#b4b4b4" stroke="#5c5c5c" stroke-width="1.2"/>
<rect x="923.83" y="1305.35" width="21.2" height="41.65" fill="#6b96fd" stroke="#233f82" stroke-width="1.2"/>
<rect x="956.63" y="1304.09" width="21.2" height="42.91" fill="#f3cbf6" stroke="#7d6a85" stroke-width="1.2"/>
<rect x="989.43" y="1312.93" width="21.2" height="34.07" fill="#b4b4b4" stroke="#5c5c5c" stroke-width="1.2"/>
<rect x="1044.76" y="1283.9" width="21.2" height="63.1" fill="#6b96fd" stroke="#233f82" stroke-width="1.2"/>
<rect x="1077.56" y="1277.59" width="21.2" height="69.41" fill="#f3cbf6" stroke="#7d6a85" stroke-width="1.2"/>
<rect x="1110.36" y="1296.52" width="21.2" height="50.48" fill="#b4b4b4" stroke="#5c5c5c" stroke-width="1.2"/>
<rect x="1165.69" y="1328.07" width="21.2" height="18.93" fill="#6b96fd" stroke="#233f82" stroke-width="1.2"/>
<rect x="1198.49" y="1325.55" width="21.2" height="21.45" fill="#f3cbf6" stroke="#7d6a85" stroke-width="1.2"/>
<rect x="1231.29" y="1334.38" width="21.2" height="12.62" fill="#b4b4b4" stroke="#5c5c5c" stroke-width="1.2"/>
<rect x="1286.62" y="1186.73" width="21.2" height="160.27" fill="#6b96fd" stroke="#233f82" stroke-width="1.2"/>
<rect x="1319.42" y="1172.84" width="21.2" height="174.16" fill="#f3cbf6" stroke="#7d6a85" stroke-width="1.2"/>
<rect x="1352.22" y="1227.11" width="21.2" height="119.89" fill="#b4b4b4" stroke="#5c5c5c" stroke-width="1.2"/>
<line x1="846.3" y1="1196.82" x2="846.3" y2="1224.59" stroke="#7a5a80" stroke-width="1.1"/>
<line x1="839.94" y1="1196.82" x2="852.66" y2="1196.82" stroke="#7a5a80" stroke-width="1.1"/>
<line x1="839.94" y1="1224.59" x2="852.66" y2="1224.59" stroke="#7a5a80" stroke-width="1.1"/>
<line x1="1297.22" y1="1170.32" x2="1297.22" y2="1205.66" stroke="#1f3a7a" stroke-width="1.1"/>
<line x1="1290.86" y1="1170.32" x2="1303.58" y2="1170.32" stroke="#1f3a7a" stroke-width="1.1"/>
<line x1="1290.86" y1="1205.66" x2="1303.58" y2="1205.66" stroke="#1f3a7a" stroke-width="1.1"/>
<line x1="1330.02" y1="1157.7" x2="1330.02" y2="1193.04" stroke="#7a5a80" stroke-width="1.1"/>
<line x1="1323.66" y1="1157.7" x2="1336.38" y2="1157.7" stroke="#7a5a80" stroke-width="1.1"/>
<line x1="1323.66" y1="1193.04" x2="1336.38" y2="1193.04" stroke="#7a5a80" stroke-width="1.1"/>
<circle cx="808.5" cy="1200.61" r="6" fill="#abc7f5" stroke="#1f2f5c" stroke-width="1.25"/>
<circle cx="818.5" cy="1201.87" r="6" fill="#abc7f5" stroke="#1f2f5c" stroke-width="1.25"/>
<circle cx="813.5" cy="1210.7" r="6" fill="#abc7f5" stroke="#1f2f5c" stroke-width="1.25"/>
<circle cx="813.5" cy="1224.59" r="6" fill="#abc7f5" stroke="#1f2f5c" stroke-width="1.25"/>
<circle cx="842.3" cy="1199.35" r="6" fill="#f7e2f5" stroke="#4a3350" stroke-width="1.25"/>
<circle cx="850.3" cy="1205.66" r="6" fill="#f7e2f5" stroke="#4a3350" stroke-width="1.25"/>
<circle cx="846.3" cy="1208.18" r="6" fill="#f7e2f5" stroke="#4a3350" stroke-width="1.25"/>
<circle cx="846.3" cy="1229.63" r="6" fill="#f7e2f5" stroke="#4a3350" stroke-width="1.25"/>
<circle cx="875.1" cy="1254.87" r="6" fill="#d5d5d5" stroke="#2a2a2a" stroke-width="1.25"/>
<circle cx="883.1" cy="1247.3" r="6" fill="#d5d5d5" stroke="#2a2a2a" stroke-width="1.25"/>
<circle cx="879.1" cy="1249.83" r="6" fill="#d5d5d5" stroke="#2a2a2a" stroke-width="1.25"/>
<circle cx="877.1" cy="1247.3" r="6" fill="#d5d5d5" stroke="#2a2a2a" stroke-width="1.25"/>
<circle cx="930.43" cy="1310.4" r="6" fill="#abc7f5" stroke="#1f2f5c" stroke-width="1.25"/>
<circle cx="934.43" cy="1300.31" r="6" fill="#abc7f5" stroke="#1f2f5c" stroke-width="1.25"/>
<circle cx="939.43" cy="1302.83" r="6" fill="#abc7f5" stroke="#1f2f5c" stroke-width="1.25"/>
<circle cx="934.43" cy="1305.35" r="6" fill="#abc7f5" stroke="#1f2f5c" stroke-width="1.25"/>
<circle cx="963.23" cy="1307.88" r="6" fill="#f7e2f5" stroke="#4a3350" stroke-width="1.25"/>
<circle cx="967.23" cy="1301.57" r="6" fill="#f7e2f5" stroke="#4a3350" stroke-width="1.25"/>
<circle cx="971.23" cy="1301.57" r="6" fill="#f7e2f5" stroke="#4a3350" stroke-width="1.25"/>
<circle cx="967.23" cy="1305.35" r="6" fill="#f7e2f5" stroke="#4a3350" stroke-width="1.25"/>
<circle cx="996.03" cy="1314.19" r="6" fill="#d5d5d5" stroke="#2a2a2a" stroke-width="1.25"/>
<circle cx="1000.03" cy="1310.4" r="6" fill="#d5d5d5" stroke="#2a2a2a" stroke-width="1.25"/>
<circle cx="1004.03" cy="1311.66" r="6" fill="#d5d5d5" stroke="#2a2a2a" stroke-width="1.25"/>
<circle cx="1000.03" cy="1312.93" r="6" fill="#d5d5d5" stroke="#2a2a2a" stroke-width="1.25"/>
<circle cx="1051.36" cy="1288.95" r="6" fill="#abc7f5" stroke="#1f2f5c" stroke-width="1.25"/>
<circle cx="1055.36" cy="1276.33" r="6" fill="#abc7f5" stroke="#1f2f5c" stroke-width="1.25"/>
<circle cx="1060.36" cy="1281.38" r="6" fill="#abc7f5" stroke="#1f2f5c" stroke-width="1.25"/>
<circle cx="1055.36" cy="1283.9" r="6" fill="#abc7f5" stroke="#1f2f5c" stroke-width="1.25"/>
<circle cx="1084.16" cy="1271.28" r="6" fill="#f7e2f5" stroke="#4a3350" stroke-width="1.25"/>
<circle cx="1092.16" cy="1271.28" r="6" fill="#f7e2f5" stroke="#4a3350" stroke-width="1.25"/>
<circle cx="1088.16" cy="1277.59" r="6" fill="#f7e2f5" stroke="#4a3350" stroke-width="1.25"/>
<circle cx="1088.16" cy="1287.69" r="6" fill="#f7e2f5" stroke="#4a3350" stroke-width="1.25"/>
<circle cx="1116.96" cy="1300.31" r="6" fill="#d5d5d5" stroke="#2a2a2a" stroke-width="1.25"/>
<circle cx="1120.96" cy="1292.73" r="6" fill="#d5d5d5" stroke="#2a2a2a" stroke-width="1.25"/>
<circle cx="1124.96" cy="1295.26" r="6" fill="#d5d5d5" stroke="#2a2a2a" stroke-width="1.25"/>
<circle cx="1120.96" cy="1297.78" r="6" fill="#d5d5d5" stroke="#2a2a2a" stroke-width="1.25"/>
<circle cx="1172.29" cy="1330.59" r="6" fill="#abc7f5" stroke="#1f2f5c" stroke-width="1.25"/>
<circle cx="1176.29" cy="1325.55" r="6" fill="#abc7f5" stroke="#1f2f5c" stroke-width="1.25"/>
<circle cx="1181.29" cy="1325.55" r="6" fill="#abc7f5" stroke="#1f2f5c" stroke-width="1.25"/>
<circle cx="1176.29" cy="1328.07" r="6" fill="#abc7f5" stroke="#1f2f5c" stroke-width="1.25"/>
<circle cx="1205.09" cy="1328.07" r="6" fill="#f7e2f5" stroke="#4a3350" stroke-width="1.25"/>
<circle cx="1209.09" cy="1324.28" r="6" fill="#f7e2f5" stroke="#4a3350" stroke-width="1.25"/>
<circle cx="1213.09" cy="1324.28" r="6" fill="#f7e2f5" stroke="#4a3350" stroke-width="1.25"/>
<circle cx="1209.09" cy="1325.55" r="6" fill="#f7e2f5" stroke="#4a3350" stroke-width="1.25"/>
<circle cx="1237.89" cy="1335.64" r="6" fill="#d5d5d5" stroke="#2a2a2a" stroke-width="1.25"/>
<circle cx="1241.89" cy="1333.12" r="6" fill="#d5d5d5" stroke="#2a2a2a" stroke-width="1.25"/>
<circle cx="1245.89" cy="1334.38" r="6" fill="#d5d5d5" stroke="#2a2a2a" stroke-width="1.25"/>
<circle cx="1241.89" cy="1334.38" r="6" fill="#d5d5d5" stroke="#2a2a2a" stroke-width="1.25"/>
<circle cx="1297.22" cy="1167.8" r="6" fill="#abc7f5" stroke="#1f2f5c" stroke-width="1.25"/>
<circle cx="1297.22" cy="1189.25" r="6" fill="#abc7f5" stroke="#1f2f5c" stroke-width="1.25"/>
<circle cx="1297.22" cy="1208.18" r="6" fill="#abc7f5" stroke="#1f2f5c" stroke-width="1.25"/>
<circle cx="1296.22" cy="1169.06" r="6" fill="#abc7f5" stroke="#1f2f5c" stroke-width="1.25"/>
<circle cx="1330.02" cy="1151.39" r="6" fill="#f7e2f5" stroke="#4a3350" stroke-width="1.25"/>
<circle cx="1326.02" cy="1167.8" r="6" fill="#f7e2f5" stroke="#4a3350" stroke-width="1.25"/>
<circle cx="1334.02" cy="1169.06" r="6" fill="#f7e2f5" stroke="#4a3350" stroke-width="1.25"/>
<circle cx="1330.02" cy="1193.04" r="6" fill="#f7e2f5" stroke="#4a3350" stroke-width="1.25"/>
<circle cx="1358.82" cy="1227.11" r="6" fill="#d5d5d5" stroke="#2a2a2a" stroke-width="1.25"/>
<circle cx="1366.82" cy="1227.11" r="6" fill="#d5d5d5" stroke="#2a2a2a" stroke-width="1.25"/>
<circle cx="1362.82" cy="1218.28" r="6" fill="#d5d5d5" stroke="#2a2a2a" stroke-width="1.25"/>
<circle cx="1362.82" cy="1224.59" r="6" fill="#d5d5d5" stroke="#2a2a2a" stroke-width="1.25"/>
<line x1="814" y1="1143.4" x2="879" y2="1143.4" stroke="#7a7a7a" stroke-width="1.3"/>
<text x="846.3" y="1142.96" font-size="25.8" text-anchor="middle" font-weight="bold">****</text>
<line x1="846.3" y1="1178.6" x2="879" y2="1178.6" stroke="#7a7a7a" stroke-width="1.3"/>
<text x="862.7" y="1177.86" font-size="25.8" text-anchor="middle" font-weight="bold">****</text>
<line x1="1088" y1="1253.6" x2="1121" y2="1253.6" stroke="#7a7a7a" stroke-width="1.3"/>
<text x="1104.5" y="1253.16" font-size="25.8" text-anchor="middle" font-weight="bold">*</text>
<line x1="1297" y1="1095.8" x2="1362.7" y2="1095.8" stroke="#7a7a7a" stroke-width="1.3"/>
<text x="1330" y="1095.86" font-size="25.8" text-anchor="middle" font-weight="bold">****</text>
<line x1="1330" y1="1129" x2="1362.7" y2="1129" stroke="#7a7a7a" stroke-width="1.3"/>
<text x="1346.7" y="1129.46" font-size="25.8" text-anchor="middle" font-weight="bold">****</text>
<text x="1082" y="1042.5" font-size="27.3" text-anchor="middle" font-weight="bold">Malate</text>
<text x="964.14" y="1070" font-size="21" text-anchor="start" font-weight="bold" textLength="235.69" lengthAdjust="spacingAndGlyphs">[U-<tspan dy="-6.7" font-size="16.3" font-weight="normal">13</tspan><tspan dy="6.7">C]-Glutamine tracer</tspan></text>
<text x="792" y="1071" font-size="20" text-anchor="end">(x10<tspan dy="-7.2" font-size="14.4">8</tspan><tspan dy="7.2">)</tspan></text>
<text x="0" y="0" font-size="20.5" text-anchor="middle" transform="translate(738.5 1206.5) rotate(-90)">Rel. Abundance (A.U.)</text>
<line x1="1516.8" y1="1093.51" x2="1516.8" y2="1346" stroke="#6b6b6b" stroke-width="1.3"/>
<line x1="1510.5" y1="1346" x2="2109.6" y2="1346" stroke="#6b6b6b" stroke-width="1.3"/>
<line x1="1510.8" y1="1346" x2="1516.8" y2="1346" stroke="#6b6b6b" stroke-width="1.3"/>
<text x="1506.8" y="1352.44" font-size="18" text-anchor="end">0</text>
<line x1="1510.8" y1="1261.84" x2="1516.8" y2="1261.84" stroke="#6b6b6b" stroke-width="1.3"/>
<text x="1506.8" y="1268.28" font-size="18" text-anchor="end">0.5</text>
<line x1="1510.8" y1="1177.67" x2="1516.8" y2="1177.67" stroke="#6b6b6b" stroke-width="1.3"/>
<text x="1506.8" y="1184.11" font-size="18" text-anchor="end">1</text>
<line x1="1510.8" y1="1093.51" x2="1516.8" y2="1093.51" stroke="#6b6b6b" stroke-width="1.3"/>
<text x="1506.8" y="1099.95" font-size="18" text-anchor="end">1.5</text>
<line x1="1555.8" y1="1346" x2="1555.8" y2="1355" stroke="#6b6b6b" stroke-width="1.3"/>
<text x="1555.8" y="1376.5" font-size="18.7" text-anchor="middle">M+0</text>
<line x1="1641.68" y1="1346" x2="1641.68" y2="1355" stroke="#6b6b6b" stroke-width="1.3"/>
<text x="1641.68" y="1376.5" font-size="18.7" text-anchor="middle">+1</text>
<line x1="1727.56" y1="1346" x2="1727.56" y2="1355" stroke="#6b6b6b" stroke-width="1.3"/>
<text x="1727.56" y="1376.5" font-size="18.7" text-anchor="middle">+2</text>
<line x1="1813.44" y1="1346" x2="1813.44" y2="1355" stroke="#6b6b6b" stroke-width="1.3"/>
<text x="1813.44" y="1376.5" font-size="18.7" text-anchor="middle">+3</text>
<line x1="1899.32" y1="1346" x2="1899.32" y2="1355" stroke="#6b6b6b" stroke-width="1.3"/>
<text x="1899.32" y="1376.5" font-size="18.7" text-anchor="middle">+4</text>
<line x1="1985.2" y1="1346" x2="1985.2" y2="1355" stroke="#6b6b6b" stroke-width="1.3"/>
<text x="1985.2" y="1376.5" font-size="18.7" text-anchor="middle">+5</text>
<line x1="2071.08" y1="1346" x2="2071.08" y2="1355" stroke="#6b6b6b" stroke-width="1.3"/>
<text x="2071.08" y="1376.5" font-size="18.7" text-anchor="middle">+6</text>
<rect x="1524.6" y="1135.59" width="15.2" height="210.41" fill="#6b96fd" stroke="#233f82" stroke-width="1.2"/>
<rect x="1548.2" y="1155.79" width="15.2" height="190.21" fill="#f3cbf6" stroke="#7d6a85" stroke-width="1.2"/>
<rect x="1571.8" y="1169.25" width="15.2" height="176.75" fill="#b4b4b4" stroke="#5c5c5c" stroke-width="1.2"/>
<rect x="1610.48" y="1290.45" width="15.2" height="55.55" fill="#6b96fd" stroke="#233f82" stroke-width="1.2"/>
<rect x="1634.08" y="1293.82" width="15.2" height="52.18" fill="#f3cbf6" stroke="#7d6a85" stroke-width="1.2"/>
<rect x="1657.68" y="1288.77" width="15.2" height="57.23" fill="#b4b4b4" stroke="#5c5c5c" stroke-width="1.2"/>
<rect x="1696.36" y="1271.93" width="15.2" height="74.07" fill="#6b96fd" stroke="#233f82" stroke-width="1.2"/>
<rect x="1719.96" y="1271.93" width="15.2" height="74.07" fill="#f3cbf6" stroke="#7d6a85" stroke-width="1.2"/>
<rect x="1743.56" y="1266.88" width="15.2" height="79.12" fill="#b4b4b4" stroke="#5c5c5c" stroke-width="1.2"/>
<rect x="1782.24" y="1317.38" width="15.2" height="28.62" fill="#6b96fd" stroke="#233f82" stroke-width="1.2"/>
<rect x="1805.84" y="1319.07" width="15.2" height="26.93" fill="#f3cbf6" stroke="#7d6a85" stroke-width="1.2"/>
<rect x="1829.44" y="1314.02" width="15.2" height="31.98" fill="#b4b4b4" stroke="#5c5c5c" stroke-width="1.2"/>
<rect x="1868.12" y="1206.29" width="15.2" height="139.71" fill="#6b96fd" stroke="#233f82" stroke-width="1.2"/>
<rect x="1891.72" y="1207.97" width="15.2" height="138.03" fill="#f3cbf6" stroke="#7d6a85" stroke-width="1.2"/>
<rect x="1915.32" y="1202.92" width="15.2" height="143.08" fill="#b4b4b4" stroke="#5c5c5c" stroke-width="1.2"/>
<rect x="1954" y="1334.22" width="15.2" height="11.78" fill="#6b96fd" stroke="#233f82" stroke-width="1.2"/>
<rect x="1977.6" y="1334.22" width="15.2" height="11.78" fill="#f3cbf6" stroke="#7d6a85" stroke-width="1.2"/>
<rect x="2001.2" y="1332.53" width="15.2" height="13.47" fill="#b4b4b4" stroke="#5c5c5c" stroke-width="1.2"/>
<rect x="2039.88" y="1340.95" width="15.2" height="5.05" fill="#6b96fd" stroke="#233f82" stroke-width="1.2"/>
<rect x="2063.48" y="1340.95" width="15.2" height="5.05" fill="#f3cbf6" stroke="#7d6a85" stroke-width="1.2"/>
<rect x="2087.08" y="1340.95" width="15.2" height="5.05" fill="#b4b4b4" stroke="#5c5c5c" stroke-width="1.2"/>
<circle cx="1532.2" cy="1122.12" r="5.8" fill="#abc7f5" stroke="#1f2f5c" stroke-width="1.25"/>
<circle cx="1531.2" cy="1133.9" r="5.8" fill="#abc7f5" stroke="#1f2f5c" stroke-width="1.25"/>
<circle cx="1534.2" cy="1135.59" r="5.8" fill="#abc7f5" stroke="#1f2f5c" stroke-width="1.25"/>
<circle cx="1532.2" cy="1162.52" r="5.8" fill="#abc7f5" stroke="#1f2f5c" stroke-width="1.25"/>
<circle cx="1554.8" cy="1155.79" r="5.8" fill="#f7e2f5" stroke="#4a3350" stroke-width="1.25"/>
<circle cx="1556.8" cy="1154.1" r="5.8" fill="#f7e2f5" stroke="#4a3350" stroke-width="1.25"/>
<circle cx="1555.8" cy="1155.79" r="5.8" fill="#f7e2f5" stroke="#4a3350" stroke-width="1.25"/>
<circle cx="1556.8" cy="1157.47" r="5.8" fill="#f7e2f5" stroke="#4a3350" stroke-width="1.25"/>
<circle cx="1580.4" cy="1150.74" r="5.8" fill="#d5d5d5" stroke="#2a2a2a" stroke-width="1.25"/>
<circle cx="1578.4" cy="1162.52" r="5.8" fill="#d5d5d5" stroke="#2a2a2a" stroke-width="1.25"/>
<circle cx="1580.4" cy="1169.25" r="5.8" fill="#d5d5d5" stroke="#2a2a2a" stroke-width="1.25"/>
<circle cx="1578.4" cy="1179.35" r="5.8" fill="#d5d5d5" stroke="#2a2a2a" stroke-width="1.25"/>
<circle cx="1618.08" cy="1285.4" r="5.8" fill="#abc7f5" stroke="#1f2f5c" stroke-width="1.25"/>
<circle cx="1619.08" cy="1288.77" r="5.8" fill="#abc7f5" stroke="#1f2f5c" stroke-width="1.25"/>
<circle cx="1617.08" cy="1298.87" r="5.8" fill="#abc7f5" stroke="#1f2f5c" stroke-width="1.25"/>
<circle cx="1618.08" cy="1290.45" r="5.8" fill="#abc7f5" stroke="#1f2f5c" stroke-width="1.25"/>
<circle cx="1640.68" cy="1293.82" r="5.8" fill="#f7e2f5" stroke="#4a3350" stroke-width="1.25"/>
<circle cx="1642.68" cy="1292.13" r="5.8" fill="#f7e2f5" stroke="#4a3350" stroke-width="1.25"/>
<circle cx="1641.68" cy="1298.87" r="5.8" fill="#f7e2f5" stroke="#4a3350" stroke-width="1.25"/>
<circle cx="1641.68" cy="1295.5" r="5.8" fill="#f7e2f5" stroke="#4a3350" stroke-width="1.25"/>
<circle cx="1664.28" cy="1290.45" r="5.8" fill="#d5d5d5" stroke="#2a2a2a" stroke-width="1.25"/>
<circle cx="1666.28" cy="1287.08" r="5.8" fill="#d5d5d5" stroke="#2a2a2a" stroke-width="1.25"/>
<circle cx="1665.28" cy="1288.77" r="5.8" fill="#d5d5d5" stroke="#2a2a2a" stroke-width="1.25"/>
<circle cx="1665.28" cy="1288.77" r="5.8" fill="#d5d5d5" stroke="#2a2a2a" stroke-width="1.25"/>
<circle cx="1703.96" cy="1263.52" r="5.8" fill="#abc7f5" stroke="#1f2f5c" stroke-width="1.25"/>
<circle cx="1703.96" cy="1271.93" r="5.8" fill="#abc7f5" stroke="#1f2f5c" stroke-width="1.25"/>
<circle cx="1702.96" cy="1282.03" r="5.8" fill="#abc7f5" stroke="#1f2f5c" stroke-width="1.25"/>
<circle cx="1704.96" cy="1270.25" r="5.8" fill="#abc7f5" stroke="#1f2f5c" stroke-width="1.25"/>
<circle cx="1727.56" cy="1266.88" r="5.8" fill="#f7e2f5" stroke="#4a3350" stroke-width="1.25"/>
<circle cx="1727.56" cy="1273.62" r="5.8" fill="#f7e2f5" stroke="#4a3350" stroke-width="1.25"/>
<circle cx="1726.56" cy="1280.35" r="5.8" fill="#f7e2f5" stroke="#4a3350" stroke-width="1.25"/>
<circle cx="1728.56" cy="1266.88" r="5.8" fill="#f7e2f5" stroke="#4a3350" stroke-width="1.25"/>
<circle cx="1751.16" cy="1263.52" r="5.8" fill="#d5d5d5" stroke="#2a2a2a" stroke-width="1.25"/>
<circle cx="1751.16" cy="1271.93" r="5.8" fill="#d5d5d5" stroke="#2a2a2a" stroke-width="1.25"/>
<circle cx="1752.16" cy="1268.57" r="5.8" fill="#d5d5d5" stroke="#2a2a2a" stroke-width="1.25"/>
<circle cx="1751.16" cy="1266.88" r="5.8" fill="#d5d5d5" stroke="#2a2a2a" stroke-width="1.25"/>
<circle cx="1789.84" cy="1314.02" r="5.8" fill="#abc7f5" stroke="#1f2f5c" stroke-width="1.25"/>
<circle cx="1789.84" cy="1320.75" r="5.8" fill="#abc7f5" stroke="#1f2f5c" stroke-width="1.25"/>
<circle cx="1790.84" cy="1317.38" r="5.8" fill="#abc7f5" stroke="#1f2f5c" stroke-width="1.25"/>
<circle cx="1789.84" cy="1315.7" r="5.8" fill="#abc7f5" stroke="#1f2f5c" stroke-width="1.25"/>
<circle cx="1813.44" cy="1315.7" r="5.8" fill="#f7e2f5" stroke="#4a3350" stroke-width="1.25"/>
<circle cx="1813.44" cy="1320.75" r="5.8" fill="#f7e2f5" stroke="#4a3350" stroke-width="1.25"/>
<circle cx="1814.44" cy="1317.38" r="5.8" fill="#f7e2f5" stroke="#4a3350" stroke-width="1.25"/>
<circle cx="1813.44" cy="1319.07" r="5.8" fill="#f7e2f5" stroke="#4a3350" stroke-width="1.25"/>
<circle cx="1837.04" cy="1312.33" r="5.8" fill="#d5d5d5" stroke="#2a2a2a" stroke-width="1.25"/>
<circle cx="1837.04" cy="1317.38" r="5.8" fill="#d5d5d5" stroke="#2a2a2a" stroke-width="1.25"/>
<circle cx="1838.04" cy="1314.02" r="5.8" fill="#d5d5d5" stroke="#2a2a2a" stroke-width="1.25"/>
<circle cx="1837.04" cy="1315.7" r="5.8" fill="#d5d5d5" stroke="#2a2a2a" stroke-width="1.25"/>
<circle cx="1875.72" cy="1199.55" r="5.8" fill="#abc7f5" stroke="#1f2f5c" stroke-width="1.25"/>
<circle cx="1875.72" cy="1206.29" r="5.8" fill="#abc7f5" stroke="#1f2f5c" stroke-width="1.25"/>
<circle cx="1876.72" cy="1202.92" r="5.8" fill="#abc7f5" stroke="#1f2f5c" stroke-width="1.25"/>
<circle cx="1875.72" cy="1219.75" r="5.8" fill="#abc7f5" stroke="#1f2f5c" stroke-width="1.25"/>
<circle cx="1899.32" cy="1202.92" r="5.8" fill="#f7e2f5" stroke="#4a3350" stroke-width="1.25"/>
<circle cx="1899.32" cy="1211.34" r="5.8" fill="#f7e2f5" stroke="#4a3350" stroke-width="1.25"/>
<circle cx="1900.32" cy="1206.29" r="5.8" fill="#f7e2f5" stroke="#4a3350" stroke-width="1.25"/>
<circle cx="1899.32" cy="1219.75" r="5.8" fill="#f7e2f5" stroke="#4a3350" stroke-width="1.25"/>
<circle cx="1922.92" cy="1184.4" r="5.8" fill="#d5d5d5" stroke="#2a2a2a" stroke-width="1.25"/>
<circle cx="1922.92" cy="1201.24" r="5.8" fill="#d5d5d5" stroke="#2a2a2a" stroke-width="1.25"/>
<circle cx="1923.92" cy="1206.29" r="5.8" fill="#d5d5d5" stroke="#2a2a2a" stroke-width="1.25"/>
<circle cx="1922.92" cy="1213.02" r="5.8" fill="#d5d5d5" stroke="#2a2a2a" stroke-width="1.25"/>
<circle cx="1958.56" cy="1333.63" r="5.8" fill="#abc7f5" stroke="#1f2f5c" stroke-width="1.25"/>
<circle cx="1964.64" cy="1334.57" r="5.8" fill="#abc7f5" stroke="#1f2f5c" stroke-width="1.25"/>
<circle cx="1960.84" cy="1334.1" r="5.8" fill="#abc7f5" stroke="#1f2f5c" stroke-width="1.25"/>
<circle cx="1963.12" cy="1334.81" r="5.8" fill="#abc7f5" stroke="#1f2f5c" stroke-width="1.25"/>
<circle cx="1982.16" cy="1333.63" r="5.8" fill="#f7e2f5" stroke="#4a3350" stroke-width="1.25"/>
<circle cx="1988.24" cy="1334.57" r="5.8" fill="#f7e2f5" stroke="#4a3350" stroke-width="1.25"/>
<circle cx="1984.44" cy="1334.1" r="5.8" fill="#f7e2f5" stroke="#4a3350" stroke-width="1.25"/>
<circle cx="1986.72" cy="1334.81" r="5.8" fill="#f7e2f5" stroke="#4a3350" stroke-width="1.25"/>
<circle cx="2005.76" cy="1331.86" r="5.8" fill="#d5d5d5" stroke="#2a2a2a" stroke-width="1.25"/>
<circle cx="2011.84" cy="1332.94" r="5.8" fill="#d5d5d5" stroke="#2a2a2a" stroke-width="1.25"/>
<circle cx="2008.04" cy="1332.4" r="5.8" fill="#d5d5d5" stroke="#2a2a2a" stroke-width="1.25"/>
<circle cx="2010.32" cy="1333.21" r="5.8" fill="#d5d5d5" stroke="#2a2a2a" stroke-width="1.25"/>
<circle cx="2044.44" cy="1340.7" r="5.8" fill="#abc7f5" stroke="#1f2f5c" stroke-width="1.25"/>
<circle cx="2050.52" cy="1341.1" r="5.8" fill="#abc7f5" stroke="#1f2f5c" stroke-width="1.25"/>
<circle cx="2046.72" cy="1340.9" r="5.8" fill="#abc7f5" stroke="#1f2f5c" stroke-width="1.25"/>
<circle cx="2049" cy="1341.2" r="5.8" fill="#abc7f5" stroke="#1f2f5c" stroke-width="1.25"/>
<circle cx="2068.04" cy="1340.7" r="5.8" fill="#f7e2f5" stroke="#4a3350" stroke-width="1.25"/>
<circle cx="2074.12" cy="1341.1" r="5.8" fill="#f7e2f5" stroke="#4a3350" stroke-width="1.25"/>
<circle cx="2070.32" cy="1340.9" r="5.8" fill="#f7e2f5" stroke="#4a3350" stroke-width="1.25"/>
<circle cx="2072.6" cy="1341.2" r="5.8" fill="#f7e2f5" stroke="#4a3350" stroke-width="1.25"/>
<circle cx="2091.64" cy="1340.7" r="5.8" fill="#d5d5d5" stroke="#2a2a2a" stroke-width="1.25"/>
<circle cx="2097.72" cy="1341.1" r="5.8" fill="#d5d5d5" stroke="#2a2a2a" stroke-width="1.25"/>
<circle cx="2093.92" cy="1340.9" r="5.8" fill="#d5d5d5" stroke="#2a2a2a" stroke-width="1.25"/>
<circle cx="2096.2" cy="1341.2" r="5.8" fill="#d5d5d5" stroke="#2a2a2a" stroke-width="1.25"/>
<line x1="1532.7" y1="1104.8" x2="1555.7" y2="1104.8" stroke="#7a7a7a" stroke-width="1.3"/>
<text x="1544.2" y="1104.56" font-size="25.8" text-anchor="middle" font-weight="bold">**</text>
<line x1="1532.7" y1="1075.5" x2="1579.5" y2="1075.5" stroke="#7a7a7a" stroke-width="1.3"/>
<text x="1555.7" y="1075.36" font-size="25.8" text-anchor="middle" font-weight="bold">****</text>
<text x="1805.5" y="1038" font-size="27.3" text-anchor="middle" font-weight="bold">Citrate</text>
<text x="1687.94" y="1065.6" font-size="21" text-anchor="start" font-weight="bold" textLength="235.69" lengthAdjust="spacingAndGlyphs">[U-<tspan dy="-6.7" font-size="16.3" font-weight="normal">13</tspan><tspan dy="6.7">C]-Glutamine tracer</tspan></text>
<text x="1518" y="1069.5" font-size="20" text-anchor="end">(x10<tspan dy="-7.2" font-size="14.4">8</tspan><tspan dy="7.2">)</tspan></text>
<text x="0" y="0" font-size="20.5" text-anchor="middle" transform="translate(1459.5 1208) rotate(-90)">Rel. Abundance (A.U.)</text>
<line x1="73.7" y1="1548.1" x2="73.7" y2="1801.3" stroke="#6b6b6b" stroke-width="1.3"/>
<line x1="67.5" y1="1801.3" x2="666.8" y2="1801.3" stroke="#6b6b6b" stroke-width="1.3"/>
<line x1="67.7" y1="1801.3" x2="73.7" y2="1801.3" stroke="#6b6b6b" stroke-width="1.3"/>
<text x="63.7" y="1807.74" font-size="18" text-anchor="end">0</text>
<line x1="67.7" y1="1750.66" x2="73.7" y2="1750.66" stroke="#6b6b6b" stroke-width="1.3"/>
<text x="63.7" y="1757.1" font-size="18" text-anchor="end">20</text>
<line x1="67.7" y1="1700.02" x2="73.7" y2="1700.02" stroke="#6b6b6b" stroke-width="1.3"/>
<text x="63.7" y="1706.46" font-size="18" text-anchor="end">40</text>
<line x1="67.7" y1="1649.38" x2="73.7" y2="1649.38" stroke="#6b6b6b" stroke-width="1.3"/>
<text x="63.7" y="1655.82" font-size="18" text-anchor="end">60</text>
<line x1="67.7" y1="1598.74" x2="73.7" y2="1598.74" stroke="#6b6b6b" stroke-width="1.3"/>
<text x="63.7" y="1605.18" font-size="18" text-anchor="end">80</text>
<line x1="67.7" y1="1548.1" x2="73.7" y2="1548.1" stroke="#6b6b6b" stroke-width="1.3"/>
<text x="63.7" y="1554.54" font-size="18" text-anchor="end">100</text>
<line x1="70.4" y1="1775.98" x2="73.7" y2="1775.98" stroke="#6b6b6b" stroke-width="1.3"/>
<line x1="70.4" y1="1725.34" x2="73.7" y2="1725.34" stroke="#6b6b6b" stroke-width="1.3"/>
<line x1="70.4" y1="1674.7" x2="73.7" y2="1674.7" stroke="#6b6b6b" stroke-width="1.3"/>
<line x1="70.4" y1="1624.06" x2="73.7" y2="1624.06" stroke="#6b6b6b" stroke-width="1.3"/>
<line x1="70.4" y1="1573.42" x2="73.7" y2="1573.42" stroke="#6b6b6b" stroke-width="1.3"/>
<line x1="119.4" y1="1801.3" x2="119.4" y2="1810.3" stroke="#6b6b6b" stroke-width="1.3"/>
<text x="119.4" y="1831.8" font-size="18.7" text-anchor="middle">M+0</text>
<line x1="219.88" y1="1801.3" x2="219.88" y2="1810.3" stroke="#6b6b6b" stroke-width="1.3"/>
<text x="219.88" y="1831.8" font-size="18.7" text-anchor="middle">+1</text>
<line x1="320.36" y1="1801.3" x2="320.36" y2="1810.3" stroke="#6b6b6b" stroke-width="1.3"/>
<text x="320.36" y="1831.8" font-size="18.7" text-anchor="middle">+2</text>
<line x1="420.84" y1="1801.3" x2="420.84" y2="1810.3" stroke="#6b6b6b" stroke-width="1.3"/>
<text x="420.84" y="1831.8" font-size="18.7" text-anchor="middle">+3</text>
<line x1="521.32" y1="1801.3" x2="521.32" y2="1810.3" stroke="#6b6b6b" stroke-width="1.3"/>
<text x="521.32" y="1831.8" font-size="18.7" text-anchor="middle">+4</text>
<line x1="621.8" y1="1801.3" x2="621.8" y2="1810.3" stroke="#6b6b6b" stroke-width="1.3"/>
<text x="621.8" y="1831.8" font-size="18.7" text-anchor="middle">+5</text>
<rect x="83.15" y="1583.55" width="17.9" height="217.75" fill="#6b96fd" stroke="#233f82" stroke-width="1.2"/>
<rect x="110.45" y="1559.49" width="17.9" height="241.81" fill="#f3cbf6" stroke="#7d6a85" stroke-width="1.2"/>
<rect x="137.75" y="1556.96" width="17.9" height="244.34" fill="#b4b4b4" stroke="#5c5c5c" stroke-width="1.2"/>
<rect x="183.63" y="1797.5" width="17.9" height="3.8" fill="#6b96fd" stroke="#233f82" stroke-width="1.2"/>
<rect x="210.93" y="1800.03" width="17.9" height="1.27" fill="#f3cbf6" stroke="#7d6a85" stroke-width="1.2"/>
<rect x="238.23" y="1800.03" width="17.9" height="1.27" fill="#b4b4b4" stroke="#5c5c5c" stroke-width="1.2"/>
<rect x="284.11" y="1800.03" width="17.9" height="1.27" fill="#6b96fd" stroke="#233f82" stroke-width="1.2"/>
<rect x="311.41" y="1800.03" width="17.9" height="1.27" fill="#f3cbf6" stroke="#7d6a85" stroke-width="1.2"/>
<rect x="338.71" y="1800.03" width="17.9" height="1.27" fill="#b4b4b4" stroke="#5c5c5c" stroke-width="1.2"/>
<rect x="384.59" y="1794.97" width="17.9" height="6.33" fill="#6b96fd" stroke="#233f82" stroke-width="1.2"/>
<rect x="411.89" y="1798.77" width="17.9" height="2.53" fill="#f3cbf6" stroke="#7d6a85" stroke-width="1.2"/>
<rect x="439.19" y="1798.77" width="17.9" height="2.53" fill="#b4b4b4" stroke="#5c5c5c" stroke-width="1.2"/>
<rect x="485.07" y="1800.03" width="17.9" height="1.27" fill="#6b96fd" stroke="#233f82" stroke-width="1.2"/>
<rect x="512.37" y="1800.54" width="17.9" height="0.76" fill="#f3cbf6" stroke="#7d6a85" stroke-width="1.2"/>
<rect x="539.67" y="1800.54" width="17.9" height="0.76" fill="#b4b4b4" stroke="#5c5c5c" stroke-width="1.2"/>
<rect x="585.55" y="1774.71" width="17.9" height="26.59" fill="#6b96fd" stroke="#233f82" stroke-width="1.2"/>
<rect x="612.85" y="1792.44" width="17.9" height="8.86" fill="#f3cbf6" stroke="#7d6a85" stroke-width="1.2"/>
<rect x="640.15" y="1793.7" width="17.9" height="7.6" fill="#b4b4b4" stroke="#5c5c5c" stroke-width="1.2"/>
<circle cx="89.1" cy="1584.81" r="5.6" fill="#abc7f5" stroke="#1f2f5c" stroke-width="1.25"/>
<circle cx="94.1" cy="1582.28" r="5.6" fill="#abc7f5" stroke="#1f2f5c" stroke-width="1.25"/>
<circle cx="92.1" cy="1583.55" r="5.6" fill="#abc7f5" stroke="#1f2f5c" stroke-width="1.25"/>
<circle cx="96.1" cy="1583.04" r="5.6" fill="#abc7f5" stroke="#1f2f5c" stroke-width="1.25"/>
<circle cx="116.4" cy="1560" r="5.6" fill="#f7e2f5" stroke="#4a3350" stroke-width="1.25"/>
<circle cx="121.4" cy="1558.99" r="5.6" fill="#f7e2f5" stroke="#4a3350" stroke-width="1.25"/>
<circle cx="119.4" cy="1559.49" r="5.6" fill="#f7e2f5" stroke="#4a3350" stroke-width="1.25"/>
<circle cx="123.4" cy="1559.75" r="5.6" fill="#f7e2f5" stroke="#4a3350" stroke-width="1.25"/>
<circle cx="143.7" cy="1557.47" r="5.6" fill="#d5d5d5" stroke="#2a2a2a" stroke-width="1.25"/>
<circle cx="148.7" cy="1556.2" r="5.6" fill="#d5d5d5" stroke="#2a2a2a" stroke-width="1.25"/>
<circle cx="146.7" cy="1556.96" r="5.6" fill="#d5d5d5" stroke="#2a2a2a" stroke-width="1.25"/>
<circle cx="150.7" cy="1556.71" r="5.6" fill="#d5d5d5" stroke="#2a2a2a" stroke-width="1.25"/>
<circle cx="189" cy="1797.31" r="5.6" fill="#abc7f5" stroke="#1f2f5c" stroke-width="1.25"/>
<circle cx="196.16" cy="1797.62" r="5.6" fill="#abc7f5" stroke="#1f2f5c" stroke-width="1.25"/>
<circle cx="191.68" cy="1797.46" r="5.6" fill="#abc7f5" stroke="#1f2f5c" stroke-width="1.25"/>
<circle cx="194.37" cy="1797.69" r="5.6" fill="#abc7f5" stroke="#1f2f5c" stroke-width="1.25"/>
<circle cx="216.3" cy="1799.97" r="5.6" fill="#f7e2f5" stroke="#4a3350" stroke-width="1.25"/>
<circle cx="223.46" cy="1800.07" r="5.6" fill="#f7e2f5" stroke="#4a3350" stroke-width="1.25"/>
<circle cx="218.98" cy="1800.02" r="5.6" fill="#f7e2f5" stroke="#4a3350" stroke-width="1.25"/>
<circle cx="221.67" cy="1800.1" r="5.6" fill="#f7e2f5" stroke="#4a3350" stroke-width="1.25"/>
<circle cx="243.6" cy="1799.97" r="5.6" fill="#d5d5d5" stroke="#2a2a2a" stroke-width="1.25"/>
<circle cx="250.76" cy="1800.07" r="5.6" fill="#d5d5d5" stroke="#2a2a2a" stroke-width="1.25"/>
<circle cx="246.28" cy="1800.02" r="5.6" fill="#d5d5d5" stroke="#2a2a2a" stroke-width="1.25"/>
<circle cx="248.97" cy="1800.1" r="5.6" fill="#d5d5d5" stroke="#2a2a2a" stroke-width="1.25"/>
<circle cx="289.48" cy="1799.97" r="5.6" fill="#abc7f5" stroke="#1f2f5c" stroke-width="1.25"/>
<circle cx="296.64" cy="1800.07" r="5.6" fill="#abc7f5" stroke="#1f2f5c" stroke-width="1.25"/>
<circle cx="292.17" cy="1800.02" r="5.6" fill="#abc7f5" stroke="#1f2f5c" stroke-width="1.25"/>
<circle cx="294.85" cy="1800.1" r="5.6" fill="#abc7f5" stroke="#1f2f5c" stroke-width="1.25"/>
<circle cx="316.78" cy="1799.97" r="5.6" fill="#f7e2f5" stroke="#4a3350" stroke-width="1.25"/>
<circle cx="323.94" cy="1800.07" r="5.6" fill="#f7e2f5" stroke="#4a3350" stroke-width="1.25"/>
<circle cx="319.47" cy="1800.02" r="5.6" fill="#f7e2f5" stroke="#4a3350" stroke-width="1.25"/>
<circle cx="322.15" cy="1800.1" r="5.6" fill="#f7e2f5" stroke="#4a3350" stroke-width="1.25"/>
<circle cx="344.08" cy="1799.97" r="5.6" fill="#d5d5d5" stroke="#2a2a2a" stroke-width="1.25"/>
<circle cx="351.24" cy="1800.07" r="5.6" fill="#d5d5d5" stroke="#2a2a2a" stroke-width="1.25"/>
<circle cx="346.77" cy="1800.02" r="5.6" fill="#d5d5d5" stroke="#2a2a2a" stroke-width="1.25"/>
<circle cx="349.45" cy="1800.1" r="5.6" fill="#d5d5d5" stroke="#2a2a2a" stroke-width="1.25"/>
<circle cx="389.96" cy="1794.65" r="5.6" fill="#abc7f5" stroke="#1f2f5c" stroke-width="1.25"/>
<circle cx="397.12" cy="1795.16" r="5.6" fill="#abc7f5" stroke="#1f2f5c" stroke-width="1.25"/>
<circle cx="392.65" cy="1794.91" r="5.6" fill="#abc7f5" stroke="#1f2f5c" stroke-width="1.25"/>
<circle cx="395.33" cy="1795.29" r="5.6" fill="#abc7f5" stroke="#1f2f5c" stroke-width="1.25"/>
<circle cx="417.26" cy="1798.64" r="5.6" fill="#f7e2f5" stroke="#4a3350" stroke-width="1.25"/>
<circle cx="424.42" cy="1798.84" r="5.6" fill="#f7e2f5" stroke="#4a3350" stroke-width="1.25"/>
<circle cx="419.95" cy="1798.74" r="5.6" fill="#f7e2f5" stroke="#4a3350" stroke-width="1.25"/>
<circle cx="422.63" cy="1798.89" r="5.6" fill="#f7e2f5" stroke="#4a3350" stroke-width="1.25"/>
<circle cx="444.56" cy="1798.64" r="5.6" fill="#d5d5d5" stroke="#2a2a2a" stroke-width="1.25"/>
<circle cx="451.72" cy="1798.84" r="5.6" fill="#d5d5d5" stroke="#2a2a2a" stroke-width="1.25"/>
<circle cx="447.25" cy="1798.74" r="5.6" fill="#d5d5d5" stroke="#2a2a2a" stroke-width="1.25"/>
<circle cx="449.93" cy="1798.89" r="5.6" fill="#d5d5d5" stroke="#2a2a2a" stroke-width="1.25"/>
<circle cx="490.44" cy="1799.97" r="5.6" fill="#abc7f5" stroke="#1f2f5c" stroke-width="1.25"/>
<circle cx="497.6" cy="1800.07" r="5.6" fill="#abc7f5" stroke="#1f2f5c" stroke-width="1.25"/>
<circle cx="493.13" cy="1800.02" r="5.6" fill="#abc7f5" stroke="#1f2f5c" stroke-width="1.25"/>
<circle cx="495.81" cy="1800.1" r="5.6" fill="#abc7f5" stroke="#1f2f5c" stroke-width="1.25"/>
<circle cx="517.74" cy="1800.5" r="5.6" fill="#f7e2f5" stroke="#4a3350" stroke-width="1.25"/>
<circle cx="524.9" cy="1800.56" r="5.6" fill="#f7e2f5" stroke="#4a3350" stroke-width="1.25"/>
<circle cx="520.43" cy="1800.53" r="5.6" fill="#f7e2f5" stroke="#4a3350" stroke-width="1.25"/>
<circle cx="523.11" cy="1800.58" r="5.6" fill="#f7e2f5" stroke="#4a3350" stroke-width="1.25"/>
<circle cx="545.04" cy="1800.5" r="5.6" fill="#d5d5d5" stroke="#2a2a2a" stroke-width="1.25"/>
<circle cx="552.2" cy="1800.56" r="5.6" fill="#d5d5d5" stroke="#2a2a2a" stroke-width="1.25"/>
<circle cx="547.73" cy="1800.53" r="5.6" fill="#d5d5d5" stroke="#2a2a2a" stroke-width="1.25"/>
<circle cx="550.41" cy="1800.58" r="5.6" fill="#d5d5d5" stroke="#2a2a2a" stroke-width="1.25"/>
<circle cx="591.5" cy="1775.98" r="5.6" fill="#abc7f5" stroke="#1f2f5c" stroke-width="1.25"/>
<circle cx="596.5" cy="1773.45" r="5.6" fill="#abc7f5" stroke="#1f2f5c" stroke-width="1.25"/>
<circle cx="594.5" cy="1774.71" r="5.6" fill="#abc7f5" stroke="#1f2f5c" stroke-width="1.25"/>
<circle cx="597.5" cy="1773.95" r="5.6" fill="#abc7f5" stroke="#1f2f5c" stroke-width="1.25"/>
<circle cx="619.8" cy="1793.2" r="5.6" fill="#f7e2f5" stroke="#4a3350" stroke-width="1.25"/>
<circle cx="623.8" cy="1791.68" r="5.6" fill="#f7e2f5" stroke="#4a3350" stroke-width="1.25"/>
<circle cx="621.8" cy="1792.44" r="5.6" fill="#f7e2f5" stroke="#4a3350" stroke-width="1.25"/>
<circle cx="624.8" cy="1792.94" r="5.6" fill="#f7e2f5" stroke="#4a3350" stroke-width="1.25"/>
<circle cx="646.1" cy="1794.21" r="5.6" fill="#d5d5d5" stroke="#2a2a2a" stroke-width="1.25"/>
<circle cx="651.1" cy="1793.2" r="5.6" fill="#d5d5d5" stroke="#2a2a2a" stroke-width="1.25"/>
<circle cx="649.1" cy="1793.7" r="5.6" fill="#d5d5d5" stroke="#2a2a2a" stroke-width="1.25"/>
<circle cx="653.1" cy="1793.45" r="5.6" fill="#d5d5d5" stroke="#2a2a2a" stroke-width="1.25"/>
<line x1="92.4" y1="1542.5" x2="119.4" y2="1542.5" stroke="#7a7a7a" stroke-width="1.3"/>
<text x="106.3" y="1542.56" font-size="25.8" text-anchor="middle" font-weight="bold">****</text>
<line x1="119.4" y1="1509.5" x2="147.3" y2="1509.5" stroke="#7a7a7a" stroke-width="1.3"/>
<text x="133.4" y="1508.66" font-size="25.8" text-anchor="middle" font-weight="bold">****</text>
<line x1="92.4" y1="1472.9" x2="147.3" y2="1472.9" stroke="#7a7a7a" stroke-width="1.3"/>
<text x="119.4" y="1472.86" font-size="25.8" text-anchor="middle" font-weight="bold">****</text>
<line x1="595.2" y1="1754.3" x2="621.8" y2="1754.3" stroke="#7a7a7a" stroke-width="1.3"/>
<text x="608.3" y="1754.36" font-size="25.8" text-anchor="middle" font-weight="bold">****</text>
<line x1="622.2" y1="1728.4" x2="649.7" y2="1728.4" stroke="#7a7a7a" stroke-width="1.3"/>
<text x="635.8" y="1727.66" font-size="25.8" text-anchor="middle" font-weight="bold">****</text>
<line x1="595.2" y1="1687.4" x2="649.7" y2="1687.4" stroke="#7a7a7a" stroke-width="1.3"/>
<text x="621.8" y="1687.86" font-size="25.8" text-anchor="middle" font-weight="bold">****</text>
<text x="381.2" y="1475.6" font-size="27.3" text-anchor="middle" font-weight="bold">Glutathione (reduced)</text>
<text x="263.85" y="1503" font-size="21" text-anchor="start" font-weight="bold" textLength="235.59" lengthAdjust="spacingAndGlyphs">[U-<tspan dy="-6.7" font-size="16.3" font-weight="normal">13</tspan><tspan dy="6.7">C]-Glutamine tracer</tspan></text>
<text x="0" y="0" font-size="20.5" text-anchor="middle" transform="translate(29.5 1672.7) rotate(-90)">% labelling</text>
<rect x="283.9" y="1584.3" width="32" height="21.5" fill="#6b96fd" stroke="#233f82" stroke-width="1.2"/>
<text x="324.5" y="1602.14" font-size="21.5" text-anchor="start" font-style="italic" fill="#7ea2ee">sgScr</text>
<rect x="283.9" y="1617.4" width="32" height="21.5" fill="#f3cbf6" stroke="#7d6a85" stroke-width="1.2"/>
<text x="324.5" y="1635.25" font-size="21.5" text-anchor="start" font-style="italic" fill="#dea6ee">sgNfe2l2</text>
<rect x="283.9" y="1650.8" width="32" height="21.5" fill="#b4b4b4" stroke="#5c5c5c" stroke-width="1.2"/>
<text x="324.5" y="1668.64" font-size="21.5" text-anchor="start" font-style="italic" fill="#bdbdbd">sgScr</text>
<text x="389.9" y="1669.08" font-size="21.5" text-anchor="start">WT</text>
<polyline points="412.8,1584.3 429.8,1584.3 429.8,1637.7 412.8,1637.7" fill="none" stroke="#8a8a8a" stroke-width="1.3"/>
<text x="435" y="1616.53" font-size="21.5" text-anchor="start" font-style="italic">Keap1<tspan dy="-8.6" font-size="13.76">-/-</tspan></text>
<line x1="790.3" y1="1541.72" x2="790.3" y2="1795.4" stroke="#6b6b6b" stroke-width="1.3"/>
<line x1="783" y1="1795.4" x2="1383.6" y2="1795.4" stroke="#6b6b6b" stroke-width="1.3"/>
<line x1="784.3" y1="1795.4" x2="790.3" y2="1795.4" stroke="#6b6b6b" stroke-width="1.3"/>
<text x="780.3" y="1801.84" font-size="18" text-anchor="end">0</text>
<line x1="784.3" y1="1731.98" x2="790.3" y2="1731.98" stroke="#6b6b6b" stroke-width="1.3"/>
<text x="780.3" y="1738.42" font-size="18" text-anchor="end">20</text>
<line x1="784.3" y1="1668.56" x2="790.3" y2="1668.56" stroke="#6b6b6b" stroke-width="1.3"/>
<text x="780.3" y="1675" font-size="18" text-anchor="end">40</text>
<line x1="784.3" y1="1605.14" x2="790.3" y2="1605.14" stroke="#6b6b6b" stroke-width="1.3"/>
<text x="780.3" y="1611.58" font-size="18" text-anchor="end">60</text>
<line x1="784.3" y1="1541.72" x2="790.3" y2="1541.72" stroke="#6b6b6b" stroke-width="1.3"/>
<text x="780.3" y="1548.16" font-size="18" text-anchor="end">80</text>
<line x1="787" y1="1763.69" x2="790.3" y2="1763.69" stroke="#6b6b6b" stroke-width="1.3"/>
<line x1="787" y1="1700.27" x2="790.3" y2="1700.27" stroke="#6b6b6b" stroke-width="1.3"/>
<line x1="787" y1="1636.85" x2="790.3" y2="1636.85" stroke="#6b6b6b" stroke-width="1.3"/>
<line x1="787" y1="1573.43" x2="790.3" y2="1573.43" stroke="#6b6b6b" stroke-width="1.3"/>
<line x1="820.1" y1="1795.4" x2="820.1" y2="1804.4" stroke="#6b6b6b" stroke-width="1.3"/>
<text x="820.1" y="1825.9" font-size="18.7" text-anchor="middle">M+0</text>
<line x1="886.8" y1="1795.4" x2="886.8" y2="1804.4" stroke="#6b6b6b" stroke-width="1.3"/>
<text x="886.8" y="1825.9" font-size="18.7" text-anchor="middle">+1</text>
<line x1="953.5" y1="1795.4" x2="953.5" y2="1804.4" stroke="#6b6b6b" stroke-width="1.3"/>
<text x="953.5" y="1825.9" font-size="18.7" text-anchor="middle">+2</text>
<line x1="1020.2" y1="1795.4" x2="1020.2" y2="1804.4" stroke="#6b6b6b" stroke-width="1.3"/>
<text x="1020.2" y="1825.9" font-size="18.7" text-anchor="middle">+3</text>
<line x1="1086.9" y1="1795.4" x2="1086.9" y2="1804.4" stroke="#6b6b6b" stroke-width="1.3"/>
<text x="1086.9" y="1825.9" font-size="18.7" text-anchor="middle">+4</text>
<line x1="1153.6" y1="1795.4" x2="1153.6" y2="1804.4" stroke="#6b6b6b" stroke-width="1.3"/>
<text x="1153.6" y="1825.9" font-size="18.7" text-anchor="middle">+5</text>
<line x1="1220.3" y1="1795.4" x2="1220.3" y2="1804.4" stroke="#6b6b6b" stroke-width="1.3"/>
<text x="1220.3" y="1825.9" font-size="18.7" text-anchor="middle">+6</text>
<line x1="1287" y1="1795.4" x2="1287" y2="1804.4" stroke="#6b6b6b" stroke-width="1.3"/>
<text x="1287" y="1825.9" font-size="18.7" text-anchor="middle">+7</text>
<line x1="1353.7" y1="1795.4" x2="1353.7" y2="1804.4" stroke="#6b6b6b" stroke-width="1.3"/>
<text x="1353.7" y="1825.9" font-size="18.7" text-anchor="middle">+8</text>
<rect x="795.95" y="1674.9" width="11.5" height="120.5" fill="#6b96fd" stroke="#233f82" stroke-width="1.2"/>
<rect x="814.35" y="1666.97" width="11.5" height="128.43" fill="#f3cbf6" stroke="#7d6a85" stroke-width="1.2"/>
<rect x="832.75" y="1698.68" width="11.5" height="96.72" fill="#959595" stroke="#5c5c5c" stroke-width="1.2"/>
<rect x="862.65" y="1789.06" width="11.5" height="6.34" fill="#6b96fd" stroke="#233f82" stroke-width="1.2"/>
<rect x="881.05" y="1792.23" width="11.5" height="3.17" fill="#f3cbf6" stroke="#7d6a85" stroke-width="1.2"/>
<rect x="899.45" y="1787.47" width="11.5" height="7.93" fill="#959595" stroke="#5c5c5c" stroke-width="1.2"/>
<rect x="929.35" y="1789.06" width="11.5" height="6.34" fill="#6b96fd" stroke="#233f82" stroke-width="1.2"/>
<rect x="947.75" y="1793.81" width="11.5" height="1.59" fill="#f3cbf6" stroke="#7d6a85" stroke-width="1.2"/>
<rect x="966.15" y="1793.81" width="11.5" height="1.59" fill="#959595" stroke="#5c5c5c" stroke-width="1.2"/>
<rect x="996.05" y="1757.35" width="11.5" height="38.05" fill="#6b96fd" stroke="#233f82" stroke-width="1.2"/>
<rect x="1014.45" y="1774.79" width="11.5" height="20.61" fill="#f3cbf6" stroke="#7d6a85" stroke-width="1.2"/>
<rect x="1032.85" y="1768.45" width="11.5" height="26.95" fill="#959595" stroke="#5c5c5c" stroke-width="1.2"/>
<rect x="1062.75" y="1792.23" width="11.5" height="3.17" fill="#6b96fd" stroke="#233f82" stroke-width="1.2"/>
<rect x="1099.55" y="1792.23" width="11.5" height="3.17" fill="#959595" stroke="#5c5c5c" stroke-width="1.2"/>
<rect x="1129.45" y="1655.88" width="11.5" height="139.52" fill="#6b96fd" stroke="#233f82" stroke-width="1.2"/>
<rect x="1147.85" y="1641.61" width="11.5" height="153.79" fill="#f3cbf6" stroke="#7d6a85" stroke-width="1.2"/>
<rect x="1166.25" y="1622.58" width="11.5" height="172.82" fill="#959595" stroke="#5c5c5c" stroke-width="1.2"/>
<rect x="1262.85" y="1793.81" width="11.5" height="1.59" fill="#6b96fd" stroke="#233f82" stroke-width="1.2"/>
<rect x="1281.25" y="1792.23" width="11.5" height="3.17" fill="#f3cbf6" stroke="#7d6a85" stroke-width="1.2"/>
<rect x="1299.65" y="1790.64" width="11.5" height="4.76" fill="#959595" stroke="#5c5c5c" stroke-width="1.2"/>
<line x1="801.7" y1="1663.8" x2="801.7" y2="1686" stroke="#1f3a7a" stroke-width="1.1"/>
<line x1="798.25" y1="1663.8" x2="805.15" y2="1663.8" stroke="#1f3a7a" stroke-width="1.1"/>
<line x1="798.25" y1="1686" x2="805.15" y2="1686" stroke="#1f3a7a" stroke-width="1.1"/>
<line x1="820.1" y1="1646.36" x2="820.1" y2="1687.59" stroke="#7a5a80" stroke-width="1.1"/>
<line x1="816.65" y1="1646.36" x2="823.55" y2="1646.36" stroke="#7a5a80" stroke-width="1.1"/>
<line x1="816.65" y1="1687.59" x2="823.55" y2="1687.59" stroke="#7a5a80" stroke-width="1.1"/>
<line x1="838.5" y1="1682.83" x2="838.5" y2="1714.54" stroke="#555555" stroke-width="1.1"/>
<line x1="835.05" y1="1682.83" x2="841.95" y2="1682.83" stroke="#555555" stroke-width="1.1"/>
<line x1="835.05" y1="1714.54" x2="841.95" y2="1714.54" stroke="#555555" stroke-width="1.1"/>
<line x1="1001.8" y1="1751.01" x2="1001.8" y2="1766.86" stroke="#1f3a7a" stroke-width="1.1"/>
<line x1="998.35" y1="1751.01" x2="1005.25" y2="1751.01" stroke="#1f3a7a" stroke-width="1.1"/>
<line x1="998.35" y1="1766.86" x2="1005.25" y2="1766.86" stroke="#1f3a7a" stroke-width="1.1"/>
<line x1="1020.2" y1="1763.69" x2="1020.2" y2="1785.89" stroke="#7a5a80" stroke-width="1.1"/>
<line x1="1016.75" y1="1763.69" x2="1023.65" y2="1763.69" stroke="#7a5a80" stroke-width="1.1"/>
<line x1="1016.75" y1="1785.89" x2="1023.65" y2="1785.89" stroke="#7a5a80" stroke-width="1.1"/>
<line x1="1038.6" y1="1754.18" x2="1038.6" y2="1785.89" stroke="#555555" stroke-width="1.1"/>
<line x1="1035.15" y1="1754.18" x2="1042.05" y2="1754.18" stroke="#555555" stroke-width="1.1"/>
<line x1="1035.15" y1="1785.89" x2="1042.05" y2="1785.89" stroke="#555555" stroke-width="1.1"/>
<line x1="1135.2" y1="1640.02" x2="1135.2" y2="1671.73" stroke="#1f3a7a" stroke-width="1.1"/>
<line x1="1131.75" y1="1640.02" x2="1138.65" y2="1640.02" stroke="#1f3a7a" stroke-width="1.1"/>
<line x1="1131.75" y1="1671.73" x2="1138.65" y2="1671.73" stroke="#1f3a7a" stroke-width="1.1"/>
<line x1="1153.6" y1="1621" x2="1153.6" y2="1662.22" stroke="#7a5a80" stroke-width="1.1"/>
<line x1="1150.15" y1="1621" x2="1157.05" y2="1621" stroke="#7a5a80" stroke-width="1.1"/>
<line x1="1150.15" y1="1662.22" x2="1157.05" y2="1662.22" stroke="#7a5a80" stroke-width="1.1"/>
<line x1="1172" y1="1589.29" x2="1172" y2="1657.46" stroke="#555555" stroke-width="1.1"/>
<line x1="1168.55" y1="1589.29" x2="1175.45" y2="1589.29" stroke="#555555" stroke-width="1.1"/>
<line x1="1168.55" y1="1657.46" x2="1175.45" y2="1657.46" stroke="#555555" stroke-width="1.1"/>
<circle cx="801.7" cy="1660.63" r="6" fill="#abc7f5" stroke="#1f2f5c" stroke-width="1.25"/>
<circle cx="801.7" cy="1665.39" r="6" fill="#abc7f5" stroke="#1f2f5c" stroke-width="1.25"/>
<circle cx="801.7" cy="1676.49" r="6" fill="#abc7f5" stroke="#1f2f5c" stroke-width="1.25"/>
<circle cx="801.7" cy="1687.59" r="6" fill="#abc7f5" stroke="#1f2f5c" stroke-width="1.25"/>
<circle cx="820.1" cy="1644.78" r="6" fill="#f7e2f5" stroke="#4a3350" stroke-width="1.25"/>
<circle cx="820.1" cy="1649.53" r="6" fill="#f7e2f5" stroke="#4a3350" stroke-width="1.25"/>
<circle cx="820.1" cy="1674.9" r="6" fill="#f7e2f5" stroke="#4a3350" stroke-width="1.25"/>
<circle cx="820.1" cy="1693.93" r="6" fill="#f7e2f5" stroke="#4a3350" stroke-width="1.25"/>
<circle cx="838.5" cy="1678.07" r="6" fill="#d5d5d5" stroke="#2a2a2a" stroke-width="1.25"/>
<circle cx="838.5" cy="1690.76" r="6" fill="#d5d5d5" stroke="#2a2a2a" stroke-width="1.25"/>
<circle cx="838.5" cy="1693.93" r="6" fill="#d5d5d5" stroke="#2a2a2a" stroke-width="1.25"/>
<circle cx="838.5" cy="1716.12" r="6" fill="#d5d5d5" stroke="#2a2a2a" stroke-width="1.25"/>
<circle cx="868.4" cy="1784.3" r="6" fill="#abc7f5" stroke="#1f2f5c" stroke-width="1.25"/>
<circle cx="868.4" cy="1787.47" r="6" fill="#abc7f5" stroke="#1f2f5c" stroke-width="1.25"/>
<circle cx="868.4" cy="1792.23" r="6" fill="#abc7f5" stroke="#1f2f5c" stroke-width="1.25"/>
<circle cx="868.4" cy="1790.64" r="6" fill="#abc7f5" stroke="#1f2f5c" stroke-width="1.25"/>
<circle cx="886.8" cy="1787.47" r="6" fill="#f7e2f5" stroke="#4a3350" stroke-width="1.25"/>
<circle cx="886.8" cy="1793.81" r="6" fill="#f7e2f5" stroke="#4a3350" stroke-width="1.25"/>
<circle cx="886.8" cy="1795.4" r="6" fill="#f7e2f5" stroke="#4a3350" stroke-width="1.25"/>
<circle cx="886.8" cy="1792.23" r="6" fill="#f7e2f5" stroke="#4a3350" stroke-width="1.25"/>
<circle cx="905.2" cy="1774.79" r="6" fill="#d5d5d5" stroke="#2a2a2a" stroke-width="1.25"/>
<circle cx="905.2" cy="1789.06" r="6" fill="#d5d5d5" stroke="#2a2a2a" stroke-width="1.25"/>
<circle cx="905.2" cy="1795.4" r="6" fill="#d5d5d5" stroke="#2a2a2a" stroke-width="1.25"/>
<circle cx="905.2" cy="1792.23" r="6" fill="#d5d5d5" stroke="#2a2a2a" stroke-width="1.25"/>
<circle cx="935.1" cy="1784.3" r="6" fill="#abc7f5" stroke="#1f2f5c" stroke-width="1.25"/>
<circle cx="935.1" cy="1790.64" r="6" fill="#abc7f5" stroke="#1f2f5c" stroke-width="1.25"/>
<circle cx="935.1" cy="1792.23" r="6" fill="#abc7f5" stroke="#1f2f5c" stroke-width="1.25"/>
<circle cx="935.1" cy="1789.06" r="6" fill="#abc7f5" stroke="#1f2f5c" stroke-width="1.25"/>
<circle cx="953.5" cy="1790.64" r="6" fill="#f7e2f5" stroke="#4a3350" stroke-width="1.25"/>
<circle cx="953.5" cy="1795.4" r="6" fill="#f7e2f5" stroke="#4a3350" stroke-width="1.25"/>
<circle cx="953.5" cy="1793.81" r="6" fill="#f7e2f5" stroke="#4a3350" stroke-width="1.25"/>
<circle cx="953.5" cy="1795.4" r="6" fill="#f7e2f5" stroke="#4a3350" stroke-width="1.25"/>
<circle cx="971.9" cy="1790.64" r="6" fill="#d5d5d5" stroke="#2a2a2a" stroke-width="1.25"/>
<circle cx="971.9" cy="1795.4" r="6" fill="#d5d5d5" stroke="#2a2a2a" stroke-width="1.25"/>
<circle cx="971.9" cy="1793.81" r="6" fill="#d5d5d5" stroke="#2a2a2a" stroke-width="1.25"/>
<circle cx="971.9" cy="1795.4" r="6" fill="#d5d5d5" stroke="#2a2a2a" stroke-width="1.25"/>
<circle cx="1001.8" cy="1751.01" r="6" fill="#abc7f5" stroke="#1f2f5c" stroke-width="1.25"/>
<circle cx="1001.8" cy="1757.35" r="6" fill="#abc7f5" stroke="#1f2f5c" stroke-width="1.25"/>
<circle cx="1001.8" cy="1763.69" r="6" fill="#abc7f5" stroke="#1f2f5c" stroke-width="1.25"/>
<circle cx="1001.8" cy="1760.52" r="6" fill="#abc7f5" stroke="#1f2f5c" stroke-width="1.25"/>
<circle cx="1020.2" cy="1762.1" r="6" fill="#f7e2f5" stroke="#4a3350" stroke-width="1.25"/>
<circle cx="1020.2" cy="1766.86" r="6" fill="#f7e2f5" stroke="#4a3350" stroke-width="1.25"/>
<circle cx="1020.2" cy="1782.72" r="6" fill="#f7e2f5" stroke="#4a3350" stroke-width="1.25"/>
<circle cx="1020.2" cy="1773.2" r="6" fill="#f7e2f5" stroke="#4a3350" stroke-width="1.25"/>
<circle cx="1038.6" cy="1736.74" r="6" fill="#d5d5d5" stroke="#2a2a2a" stroke-width="1.25"/>
<circle cx="1038.6" cy="1757.35" r="6" fill="#d5d5d5" stroke="#2a2a2a" stroke-width="1.25"/>
<circle cx="1038.6" cy="1785.89" r="6" fill="#d5d5d5" stroke="#2a2a2a" stroke-width="1.25"/>
<circle cx="1038.6" cy="1790.64" r="6" fill="#d5d5d5" stroke="#2a2a2a" stroke-width="1.25"/>
<circle cx="1068.5" cy="1792.23" r="6" fill="#abc7f5" stroke="#1f2f5c" stroke-width="1.25"/>
<circle cx="1068.5" cy="1793.81" r="6" fill="#abc7f5" stroke="#1f2f5c" stroke-width="1.25"/>
<circle cx="1068.5" cy="1792.86" r="6" fill="#abc7f5" stroke="#1f2f5c" stroke-width="1.25"/>
<circle cx="1068.5" cy="1791.59" r="6" fill="#abc7f5" stroke="#1f2f5c" stroke-width="1.25"/>
<circle cx="1086.9" cy="1795.4" r="6" fill="#f7e2f5" stroke="#4a3350" stroke-width="1.25"/>
<circle cx="1086.9" cy="1795.4" r="6" fill="#f7e2f5" stroke="#4a3350" stroke-width="1.25"/>
<circle cx="1086.9" cy="1795.4" r="6" fill="#f7e2f5" stroke="#4a3350" stroke-width="1.25"/>
<circle cx="1086.9" cy="1795.4" r="6" fill="#f7e2f5" stroke="#4a3350" stroke-width="1.25"/>
<circle cx="1105.3" cy="1785.89" r="6" fill="#d5d5d5" stroke="#2a2a2a" stroke-width="1.25"/>
<circle cx="1105.3" cy="1795.4" r="6" fill="#d5d5d5" stroke="#2a2a2a" stroke-width="1.25"/>
<circle cx="1105.3" cy="1793.81" r="6" fill="#d5d5d5" stroke="#2a2a2a" stroke-width="1.25"/>
<circle cx="1105.3" cy="1792.23" r="6" fill="#d5d5d5" stroke="#2a2a2a" stroke-width="1.25"/>
<circle cx="1135.2" cy="1644.78" r="6" fill="#abc7f5" stroke="#1f2f5c" stroke-width="1.25"/>
<circle cx="1135.2" cy="1652.71" r="6" fill="#abc7f5" stroke="#1f2f5c" stroke-width="1.25"/>
<circle cx="1135.2" cy="1660.63" r="6" fill="#abc7f5" stroke="#1f2f5c" stroke-width="1.25"/>
<circle cx="1135.2" cy="1674.9" r="6" fill="#abc7f5" stroke="#1f2f5c" stroke-width="1.25"/>
<circle cx="1153.6" cy="1616.24" r="6" fill="#f7e2f5" stroke="#4a3350" stroke-width="1.25"/>
<circle cx="1153.6" cy="1627.34" r="6" fill="#f7e2f5" stroke="#4a3350" stroke-width="1.25"/>
<circle cx="1153.6" cy="1649.53" r="6" fill="#f7e2f5" stroke="#4a3350" stroke-width="1.25"/>
<circle cx="1153.6" cy="1671.73" r="6" fill="#f7e2f5" stroke="#4a3350" stroke-width="1.25"/>
<circle cx="1172" cy="1590.87" r="6" fill="#d5d5d5" stroke="#2a2a2a" stroke-width="1.25"/>
<circle cx="1172" cy="1601.97" r="6" fill="#d5d5d5" stroke="#2a2a2a" stroke-width="1.25"/>
<circle cx="1172" cy="1627.34" r="6" fill="#d5d5d5" stroke="#2a2a2a" stroke-width="1.25"/>
<circle cx="1172" cy="1668.56" r="6" fill="#d5d5d5" stroke="#2a2a2a" stroke-width="1.25"/>
<circle cx="1201.9" cy="1795.4" r="6" fill="#abc7f5" stroke="#1f2f5c" stroke-width="1.25"/>
<circle cx="1201.9" cy="1795.4" r="6" fill="#abc7f5" stroke="#1f2f5c" stroke-width="1.25"/>
<circle cx="1201.9" cy="1795.4" r="6" fill="#abc7f5" stroke="#1f2f5c" stroke-width="1.25"/>
<circle cx="1201.9" cy="1795.4" r="6" fill="#abc7f5" stroke="#1f2f5c" stroke-width="1.25"/>
<circle cx="1220.3" cy="1795.4" r="6" fill="#f7e2f5" stroke="#4a3350" stroke-width="1.25"/>
<circle cx="1220.3" cy="1795.4" r="6" fill="#f7e2f5" stroke="#4a3350" stroke-width="1.25"/>
<circle cx="1220.3" cy="1795.4" r="6" fill="#f7e2f5" stroke="#4a3350" stroke-width="1.25"/>
<circle cx="1220.3" cy="1795.4" r="6" fill="#f7e2f5" stroke="#4a3350" stroke-width="1.25"/>
<circle cx="1238.7" cy="1795.4" r="6" fill="#d5d5d5" stroke="#2a2a2a" stroke-width="1.25"/>
<circle cx="1238.7" cy="1795.4" r="6" fill="#d5d5d5" stroke="#2a2a2a" stroke-width="1.25"/>
<circle cx="1238.7" cy="1795.4" r="6" fill="#d5d5d5" stroke="#2a2a2a" stroke-width="1.25"/>
<circle cx="1238.7" cy="1795.4" r="6" fill="#d5d5d5" stroke="#2a2a2a" stroke-width="1.25"/>
<circle cx="1268.6" cy="1792.23" r="6" fill="#abc7f5" stroke="#1f2f5c" stroke-width="1.25"/>
<circle cx="1268.6" cy="1795.4" r="6" fill="#abc7f5" stroke="#1f2f5c" stroke-width="1.25"/>
<circle cx="1268.6" cy="1793.81" r="6" fill="#abc7f5" stroke="#1f2f5c" stroke-width="1.25"/>
<circle cx="1268.6" cy="1794.45" r="6" fill="#abc7f5" stroke="#1f2f5c" stroke-width="1.25"/>
<circle cx="1287" cy="1785.89" r="6" fill="#f7e2f5" stroke="#4a3350" stroke-width="1.25"/>
<circle cx="1287" cy="1795.4" r="6" fill="#f7e2f5" stroke="#4a3350" stroke-width="1.25"/>
<circle cx="1287" cy="1793.81" r="6" fill="#f7e2f5" stroke="#4a3350" stroke-width="1.25"/>
<circle cx="1287" cy="1794.45" r="6" fill="#f7e2f5" stroke="#4a3350" stroke-width="1.25"/>
<circle cx="1305.4" cy="1785.89" r="6" fill="#d5d5d5" stroke="#2a2a2a" stroke-width="1.25"/>
<circle cx="1305.4" cy="1793.81" r="6" fill="#d5d5d5" stroke="#2a2a2a" stroke-width="1.25"/>
<circle cx="1305.4" cy="1790.64" r="6" fill="#d5d5d5" stroke="#2a2a2a" stroke-width="1.25"/>
<circle cx="1305.4" cy="1792.23" r="6" fill="#d5d5d5" stroke="#2a2a2a" stroke-width="1.25"/>
<circle cx="1335.3" cy="1795.4" r="6" fill="#abc7f5" stroke="#1f2f5c" stroke-width="1.25"/>
<circle cx="1335.3" cy="1795.4" r="6" fill="#abc7f5" stroke="#1f2f5c" stroke-width="1.25"/>
<circle cx="1335.3" cy="1795.4" r="6" fill="#abc7f5" stroke="#1f2f5c" stroke-width="1.25"/>
<circle cx="1335.3" cy="1795.4" r="6" fill="#abc7f5" stroke="#1f2f5c" stroke-width="1.25"/>
<circle cx="1353.7" cy="1795.4" r="6" fill="#f7e2f5" stroke="#4a3350" stroke-width="1.25"/>
<circle cx="1353.7" cy="1795.4" r="6" fill="#f7e2f5" stroke="#4a3350" stroke-width="1.25"/>
<circle cx="1353.7" cy="1795.4" r="6" fill="#f7e2f5" stroke="#4a3350" stroke-width="1.25"/>
<circle cx="1353.7" cy="1795.4" r="6" fill="#f7e2f5" stroke="#4a3350" stroke-width="1.25"/>
<circle cx="1372.1" cy="1795.4" r="6" fill="#d5d5d5" stroke="#2a2a2a" stroke-width="1.25"/>
<circle cx="1372.1" cy="1795.4" r="6" fill="#d5d5d5" stroke="#2a2a2a" stroke-width="1.25"/>
<circle cx="1372.1" cy="1795.4" r="6" fill="#d5d5d5" stroke="#2a2a2a" stroke-width="1.25"/>
<circle cx="1372.1" cy="1795.4" r="6" fill="#d5d5d5" stroke="#2a2a2a" stroke-width="1.25"/>
<line x1="802.5" y1="1558" x2="838.5" y2="1558" stroke="#7a7a7a" stroke-width="1.3"/>
<text x="820.1" y="1557.66" font-size="25.8" text-anchor="middle" font-weight="bold">*</text>
<line x1="820.1" y1="1616.2" x2="838.5" y2="1616.2" stroke="#7a7a7a" stroke-width="1.3"/>
<text x="830" y="1616.16" font-size="25.8" text-anchor="middle" font-weight="bold">**</text>
<line x1="1135.7" y1="1558" x2="1172" y2="1558" stroke="#7a7a7a" stroke-width="1.3"/>
<text x="1154" y="1557.66" font-size="25.8" text-anchor="middle" font-weight="bold">***</text>
<text x="1094.5" y="1479" font-size="27.3" text-anchor="middle" font-weight="bold"><tspan font-family='"Liberation Serif", serif' font-weight="normal">γ</tspan>-glutamyl-cysteine</text>
<text x="977.75" y="1507.4" font-size="21" text-anchor="start" font-weight="bold" textLength="235.38" lengthAdjust="spacingAndGlyphs">[U-<tspan dy="-6.7" font-size="16.3" font-weight="normal">13</tspan><tspan dy="6.7">C]-Glutamine tracer</tspan></text>
<text x="0" y="0" font-size="20.5" text-anchor="middle" transform="translate(736.5 1659.3) rotate(-90)">% labelling</text>
<line x1="1508.5" y1="1538.88" x2="1508.5" y2="1791.9" stroke="#6b6b6b" stroke-width="1.3"/>
<line x1="1502.3" y1="1791.9" x2="2101.7" y2="1791.9" stroke="#6b6b6b" stroke-width="1.3"/>
<line x1="1502.5" y1="1791.9" x2="1508.5" y2="1791.9" stroke="#6b6b6b" stroke-width="1.3"/>
<text x="1498.5" y="1798.34" font-size="18" text-anchor="end">0</text>
<line x1="1502.5" y1="1707.56" x2="1508.5" y2="1707.56" stroke="#6b6b6b" stroke-width="1.3"/>
<text x="1498.5" y="1714" font-size="18" text-anchor="end">20</text>
<line x1="1502.5" y1="1623.22" x2="1508.5" y2="1623.22" stroke="#6b6b6b" stroke-width="1.3"/>
<text x="1498.5" y="1629.66" font-size="18" text-anchor="end">40</text>
<line x1="1502.5" y1="1538.88" x2="1508.5" y2="1538.88" stroke="#6b6b6b" stroke-width="1.3"/>
<text x="1498.5" y="1545.32" font-size="18" text-anchor="end">60</text>
<line x1="1505.2" y1="1749.73" x2="1508.5" y2="1749.73" stroke="#6b6b6b" stroke-width="1.3"/>
<line x1="1505.2" y1="1665.39" x2="1508.5" y2="1665.39" stroke="#6b6b6b" stroke-width="1.3"/>
<line x1="1505.2" y1="1581.05" x2="1508.5" y2="1581.05" stroke="#6b6b6b" stroke-width="1.3"/>
<line x1="1553.6" y1="1791.9" x2="1553.6" y2="1800.9" stroke="#6b6b6b" stroke-width="1.3"/>
<text x="1553.6" y="1822.4" font-size="18.7" text-anchor="middle">M+0</text>
<line x1="1654.12" y1="1791.9" x2="1654.12" y2="1800.9" stroke="#6b6b6b" stroke-width="1.3"/>
<text x="1654.12" y="1822.4" font-size="18.7" text-anchor="middle">+1</text>
<line x1="1754.64" y1="1791.9" x2="1754.64" y2="1800.9" stroke="#6b6b6b" stroke-width="1.3"/>
<text x="1754.64" y="1822.4" font-size="18.7" text-anchor="middle">+2</text>
<line x1="1855.16" y1="1791.9" x2="1855.16" y2="1800.9" stroke="#6b6b6b" stroke-width="1.3"/>
<text x="1855.16" y="1822.4" font-size="18.7" text-anchor="middle">+3</text>
<line x1="1955.68" y1="1791.9" x2="1955.68" y2="1800.9" stroke="#6b6b6b" stroke-width="1.3"/>
<text x="1955.68" y="1822.4" font-size="18.7" text-anchor="middle">+4</text>
<line x1="2056.2" y1="1791.9" x2="2056.2" y2="1800.9" stroke="#6b6b6b" stroke-width="1.3"/>
<text x="2056.2" y="1822.4" font-size="18.7" text-anchor="middle">+5</text>
<rect x="1517.35" y="1684.37" width="17.5" height="107.53" fill="#6b96fd" stroke="#233f82" stroke-width="1.2"/>
<rect x="1544.85" y="1694.91" width="17.5" height="96.99" fill="#f3cbf6" stroke="#7d6a85" stroke-width="1.2"/>
<rect x="1572.35" y="1690.69" width="17.5" height="101.21" fill="#b4b4b4" stroke="#5c5c5c" stroke-width="1.2"/>
<rect x="1617.87" y="1762.38" width="17.5" height="29.52" fill="#6b96fd" stroke="#233f82" stroke-width="1.2"/>
<rect x="1645.37" y="1762.38" width="17.5" height="29.52" fill="#f3cbf6" stroke="#7d6a85" stroke-width="1.2"/>
<rect x="1672.87" y="1756.06" width="17.5" height="35.84" fill="#b4b4b4" stroke="#5c5c5c" stroke-width="1.2"/>
<rect x="1718.39" y="1770.82" width="17.5" height="21.09" fill="#6b96fd" stroke="#233f82" stroke-width="1.2"/>
<rect x="1745.89" y="1770.82" width="17.5" height="21.09" fill="#f3cbf6" stroke="#7d6a85" stroke-width="1.2"/>
<rect x="1773.39" y="1768.71" width="17.5" height="23.19" fill="#b4b4b4" stroke="#5c5c5c" stroke-width="1.2"/>
<rect x="1818.91" y="1728.64" width="17.5" height="63.26" fill="#6b96fd" stroke="#233f82" stroke-width="1.2"/>
<rect x="1846.41" y="1726.54" width="17.5" height="65.36" fill="#f3cbf6" stroke="#7d6a85" stroke-width="1.2"/>
<rect x="1873.91" y="1724.43" width="17.5" height="67.47" fill="#b4b4b4" stroke="#5c5c5c" stroke-width="1.2"/>
<rect x="1919.43" y="1783.47" width="17.5" height="8.43" fill="#6b96fd" stroke="#233f82" stroke-width="1.2"/>
<rect x="1946.93" y="1783.47" width="17.5" height="8.43" fill="#f3cbf6" stroke="#7d6a85" stroke-width="1.2"/>
<rect x="1974.43" y="1783.47" width="17.5" height="8.43" fill="#b4b4b4" stroke="#5c5c5c" stroke-width="1.2"/>
<rect x="2019.95" y="1606.35" width="17.5" height="185.55" fill="#6b96fd" stroke="#233f82" stroke-width="1.2"/>
<rect x="2047.45" y="1600.03" width="17.5" height="191.87" fill="#f3cbf6" stroke="#7d6a85" stroke-width="1.2"/>
<rect x="2074.95" y="1608.46" width="17.5" height="183.44" fill="#b4b4b4" stroke="#5c5c5c" stroke-width="1.2"/>
<circle cx="1523.1" cy="1684.37" r="5.6" fill="#abc7f5" stroke="#1f2f5c" stroke-width="1.25"/>
<circle cx="1527.1" cy="1680.15" r="5.6" fill="#abc7f5" stroke="#1f2f5c" stroke-width="1.25"/>
<circle cx="1529.1" cy="1682.26" r="5.6" fill="#abc7f5" stroke="#1f2f5c" stroke-width="1.25"/>
<circle cx="1526.1" cy="1683.1" r="5.6" fill="#abc7f5" stroke="#1f2f5c" stroke-width="1.25"/>
<circle cx="1551.6" cy="1693.64" r="5.6" fill="#f7e2f5" stroke="#4a3350" stroke-width="1.25"/>
<circle cx="1554.6" cy="1691.54" r="5.6" fill="#f7e2f5" stroke="#4a3350" stroke-width="1.25"/>
<circle cx="1556.6" cy="1692.8" r="5.6" fill="#f7e2f5" stroke="#4a3350" stroke-width="1.25"/>
<circle cx="1553.6" cy="1692.38" r="5.6" fill="#f7e2f5" stroke="#4a3350" stroke-width="1.25"/>
<circle cx="1578.1" cy="1691.54" r="5.6" fill="#d5d5d5" stroke="#2a2a2a" stroke-width="1.25"/>
<circle cx="1582.1" cy="1688.58" r="5.6" fill="#d5d5d5" stroke="#2a2a2a" stroke-width="1.25"/>
<circle cx="1584.1" cy="1689.85" r="5.6" fill="#d5d5d5" stroke="#2a2a2a" stroke-width="1.25"/>
<circle cx="1581.1" cy="1690.69" r="5.6" fill="#d5d5d5" stroke="#2a2a2a" stroke-width="1.25"/>
<circle cx="1623.12" cy="1761.64" r="5.6" fill="#abc7f5" stroke="#1f2f5c" stroke-width="1.25"/>
<circle cx="1630.12" cy="1762.82" r="5.6" fill="#abc7f5" stroke="#1f2f5c" stroke-width="1.25"/>
<circle cx="1625.74" cy="1762.23" r="5.6" fill="#abc7f5" stroke="#1f2f5c" stroke-width="1.25"/>
<circle cx="1628.37" cy="1763.12" r="5.6" fill="#abc7f5" stroke="#1f2f5c" stroke-width="1.25"/>
<circle cx="1650.62" cy="1761.64" r="5.6" fill="#f7e2f5" stroke="#4a3350" stroke-width="1.25"/>
<circle cx="1657.62" cy="1762.82" r="5.6" fill="#f7e2f5" stroke="#4a3350" stroke-width="1.25"/>
<circle cx="1653.24" cy="1762.23" r="5.6" fill="#f7e2f5" stroke="#4a3350" stroke-width="1.25"/>
<circle cx="1655.87" cy="1763.12" r="5.6" fill="#f7e2f5" stroke="#4a3350" stroke-width="1.25"/>
<circle cx="1679.62" cy="1758.16" r="5.6" fill="#d5d5d5" stroke="#2a2a2a" stroke-width="1.25"/>
<circle cx="1683.62" cy="1751.84" r="5.6" fill="#d5d5d5" stroke="#2a2a2a" stroke-width="1.25"/>
<circle cx="1681.62" cy="1756.06" r="5.6" fill="#d5d5d5" stroke="#2a2a2a" stroke-width="1.25"/>
<circle cx="1682.62" cy="1754.79" r="5.6" fill="#d5d5d5" stroke="#2a2a2a" stroke-width="1.25"/>
<circle cx="1723.64" cy="1770.29" r="5.6" fill="#abc7f5" stroke="#1f2f5c" stroke-width="1.25"/>
<circle cx="1730.64" cy="1771.13" r="5.6" fill="#abc7f5" stroke="#1f2f5c" stroke-width="1.25"/>
<circle cx="1726.26" cy="1770.71" r="5.6" fill="#abc7f5" stroke="#1f2f5c" stroke-width="1.25"/>
<circle cx="1728.89" cy="1771.34" r="5.6" fill="#abc7f5" stroke="#1f2f5c" stroke-width="1.25"/>
<circle cx="1751.14" cy="1770.29" r="5.6" fill="#f7e2f5" stroke="#4a3350" stroke-width="1.25"/>
<circle cx="1758.14" cy="1771.13" r="5.6" fill="#f7e2f5" stroke="#4a3350" stroke-width="1.25"/>
<circle cx="1753.76" cy="1770.71" r="5.6" fill="#f7e2f5" stroke="#4a3350" stroke-width="1.25"/>
<circle cx="1756.39" cy="1771.34" r="5.6" fill="#f7e2f5" stroke="#4a3350" stroke-width="1.25"/>
<circle cx="1778.64" cy="1768.13" r="5.6" fill="#d5d5d5" stroke="#2a2a2a" stroke-width="1.25"/>
<circle cx="1785.64" cy="1769.05" r="5.6" fill="#d5d5d5" stroke="#2a2a2a" stroke-width="1.25"/>
<circle cx="1781.26" cy="1768.59" r="5.6" fill="#d5d5d5" stroke="#2a2a2a" stroke-width="1.25"/>
<circle cx="1783.89" cy="1769.29" r="5.6" fill="#d5d5d5" stroke="#2a2a2a" stroke-width="1.25"/>
<circle cx="1824.16" cy="1727.06" r="5.6" fill="#abc7f5" stroke="#1f2f5c" stroke-width="1.25"/>
<circle cx="1831.16" cy="1729.59" r="5.6" fill="#abc7f5" stroke="#1f2f5c" stroke-width="1.25"/>
<circle cx="1826.78" cy="1728.33" r="5.6" fill="#abc7f5" stroke="#1f2f5c" stroke-width="1.25"/>
<circle cx="1829.41" cy="1730.23" r="5.6" fill="#abc7f5" stroke="#1f2f5c" stroke-width="1.25"/>
<circle cx="1851.66" cy="1724.9" r="5.6" fill="#f7e2f5" stroke="#4a3350" stroke-width="1.25"/>
<circle cx="1858.66" cy="1727.52" r="5.6" fill="#f7e2f5" stroke="#4a3350" stroke-width="1.25"/>
<circle cx="1854.28" cy="1726.21" r="5.6" fill="#f7e2f5" stroke="#4a3350" stroke-width="1.25"/>
<circle cx="1856.91" cy="1728.17" r="5.6" fill="#f7e2f5" stroke="#4a3350" stroke-width="1.25"/>
<circle cx="1879.66" cy="1726.54" r="5.6" fill="#d5d5d5" stroke="#2a2a2a" stroke-width="1.25"/>
<circle cx="1883.66" cy="1720.21" r="5.6" fill="#d5d5d5" stroke="#2a2a2a" stroke-width="1.25"/>
<circle cx="1885.66" cy="1722.32" r="5.6" fill="#d5d5d5" stroke="#2a2a2a" stroke-width="1.25"/>
<circle cx="1882.66" cy="1724.43" r="5.6" fill="#d5d5d5" stroke="#2a2a2a" stroke-width="1.25"/>
<circle cx="1924.68" cy="1783.26" r="5.6" fill="#abc7f5" stroke="#1f2f5c" stroke-width="1.25"/>
<circle cx="1931.68" cy="1783.59" r="5.6" fill="#abc7f5" stroke="#1f2f5c" stroke-width="1.25"/>
<circle cx="1927.3" cy="1783.42" r="5.6" fill="#abc7f5" stroke="#1f2f5c" stroke-width="1.25"/>
<circle cx="1929.93" cy="1783.68" r="5.6" fill="#abc7f5" stroke="#1f2f5c" stroke-width="1.25"/>
<circle cx="1952.18" cy="1783.26" r="5.6" fill="#f7e2f5" stroke="#4a3350" stroke-width="1.25"/>
<circle cx="1959.18" cy="1783.59" r="5.6" fill="#f7e2f5" stroke="#4a3350" stroke-width="1.25"/>
<circle cx="1954.8" cy="1783.42" r="5.6" fill="#f7e2f5" stroke="#4a3350" stroke-width="1.25"/>
<circle cx="1957.43" cy="1783.68" r="5.6" fill="#f7e2f5" stroke="#4a3350" stroke-width="1.25"/>
<circle cx="1979.68" cy="1783.26" r="5.6" fill="#d5d5d5" stroke="#2a2a2a" stroke-width="1.25"/>
<circle cx="1986.68" cy="1783.59" r="5.6" fill="#d5d5d5" stroke="#2a2a2a" stroke-width="1.25"/>
<circle cx="1982.3" cy="1783.42" r="5.6" fill="#d5d5d5" stroke="#2a2a2a" stroke-width="1.25"/>
<circle cx="1984.93" cy="1783.68" r="5.6" fill="#d5d5d5" stroke="#2a2a2a" stroke-width="1.25"/>
<circle cx="2025.7" cy="1608.46" r="5.6" fill="#abc7f5" stroke="#1f2f5c" stroke-width="1.25"/>
<circle cx="2029.7" cy="1602.14" r="5.6" fill="#abc7f5" stroke="#1f2f5c" stroke-width="1.25"/>
<circle cx="2031.7" cy="1604.24" r="5.6" fill="#abc7f5" stroke="#1f2f5c" stroke-width="1.25"/>
<circle cx="2028.7" cy="1606.35" r="5.6" fill="#abc7f5" stroke="#1f2f5c" stroke-width="1.25"/>
<circle cx="2053.2" cy="1600.03" r="5.6" fill="#f7e2f5" stroke="#4a3350" stroke-width="1.25"/>
<circle cx="2057.2" cy="1596.65" r="5.6" fill="#f7e2f5" stroke="#4a3350" stroke-width="1.25"/>
<circle cx="2059.2" cy="1597.92" r="5.6" fill="#f7e2f5" stroke="#4a3350" stroke-width="1.25"/>
<circle cx="2056.2" cy="1597.92" r="5.6" fill="#f7e2f5" stroke="#4a3350" stroke-width="1.25"/>
<circle cx="2080.7" cy="1614.79" r="5.6" fill="#d5d5d5" stroke="#2a2a2a" stroke-width="1.25"/>
<circle cx="2085.7" cy="1600.03" r="5.6" fill="#d5d5d5" stroke="#2a2a2a" stroke-width="1.25"/>
<circle cx="2086.7" cy="1610.57" r="5.6" fill="#d5d5d5" stroke="#2a2a2a" stroke-width="1.25"/>
<circle cx="2081.7" cy="1602.14" r="5.6" fill="#d5d5d5" stroke="#2a2a2a" stroke-width="1.25"/>
<line x1="1526.4" y1="1657" x2="1553.6" y2="1657" stroke="#7a7a7a" stroke-width="1.3"/>
<text x="1540.2" y="1656.86" font-size="25.8" text-anchor="middle" font-weight="bold">****</text>
<line x1="1526.4" y1="1611.2" x2="1580.7" y2="1611.2" stroke="#7a7a7a" stroke-width="1.3"/>
<text x="1553.6" y="1610.96" font-size="25.8" text-anchor="middle" font-weight="bold">***</text>
<line x1="1654.6" y1="1729.3" x2="1681.7" y2="1729.3" stroke="#7a7a7a" stroke-width="1.3"/>
<text x="1668.4" y="1728.66" font-size="25.8" text-anchor="middle" font-weight="bold">*</text>
<line x1="1828.3" y1="1698.8" x2="1882.5" y2="1698.8" stroke="#7a7a7a" stroke-width="1.3"/>
<text x="1855.4" y="1698.66" font-size="25.8" text-anchor="middle" font-weight="bold">*</text>
<line x1="2029.5" y1="1579.8" x2="2056.6" y2="1579.8" stroke="#7a7a7a" stroke-width="1.3"/>
<text x="2042" y="1579.16" font-size="25.8" text-anchor="middle" font-weight="bold">***</text>
<line x1="2056.6" y1="1547.3" x2="2083.7" y2="1547.3" stroke="#7a7a7a" stroke-width="1.3"/>
<text x="2070" y="1547.06" font-size="25.8" text-anchor="middle" font-weight="bold">****</text>
<text x="1810.3" y="1486" font-size="27.3" text-anchor="middle" font-weight="bold">Glutamate</text>
<text x="1692.94" y="1513.2" font-size="21" text-anchor="start" font-weight="bold" textLength="236.09" lengthAdjust="spacingAndGlyphs">[U-<tspan dy="-6.7" font-size="16.3" font-weight="normal">13</tspan><tspan dy="6.7">C]-Glutamine tracer</tspan></text>
<text x="0" y="0" font-size="20.5" text-anchor="middle" transform="translate(1459.5 1663.3) rotate(-90)">% labelling</text>
<line x1="72.9" y1="1969.6" x2="72.9" y2="2221.6" stroke="#6b6b6b" stroke-width="1.3"/>
<line x1="66.7" y1="2221.6" x2="665.6" y2="2221.6" stroke="#6b6b6b" stroke-width="1.3"/>
<line x1="66.9" y1="2221.6" x2="72.9" y2="2221.6" stroke="#6b6b6b" stroke-width="1.3"/>
<text x="62.9" y="2228.04" font-size="18" text-anchor="end">0</text>
<line x1="66.9" y1="2158.6" x2="72.9" y2="2158.6" stroke="#6b6b6b" stroke-width="1.3"/>
<text x="62.9" y="2165.04" font-size="18" text-anchor="end">0.5</text>
<line x1="66.9" y1="2095.6" x2="72.9" y2="2095.6" stroke="#6b6b6b" stroke-width="1.3"/>
<text x="62.9" y="2102.04" font-size="18" text-anchor="end">1</text>
<line x1="66.9" y1="2032.6" x2="72.9" y2="2032.6" stroke="#6b6b6b" stroke-width="1.3"/>
<text x="62.9" y="2039.04" font-size="18" text-anchor="end">1.5</text>
<line x1="66.9" y1="1969.6" x2="72.9" y2="1969.6" stroke="#6b6b6b" stroke-width="1.3"/>
<text x="62.9" y="1976.04" font-size="18" text-anchor="end">2</text>
<line x1="118.6" y1="2221.6" x2="118.6" y2="2230.6" stroke="#6b6b6b" stroke-width="1.3"/>
<text x="118.6" y="2252.1" font-size="18.7" text-anchor="middle">M+0</text>
<line x1="219.08" y1="2221.6" x2="219.08" y2="2230.6" stroke="#6b6b6b" stroke-width="1.3"/>
<text x="219.08" y="2252.1" font-size="18.7" text-anchor="middle">+1</text>
<line x1="319.56" y1="2221.6" x2="319.56" y2="2230.6" stroke="#6b6b6b" stroke-width="1.3"/>
<text x="319.56" y="2252.1" font-size="18.7" text-anchor="middle">+2</text>
<line x1="420.04" y1="2221.6" x2="420.04" y2="2230.6" stroke="#6b6b6b" stroke-width="1.3"/>
<text x="420.04" y="2252.1" font-size="18.7" text-anchor="middle">+3</text>
<line x1="520.52" y1="2221.6" x2="520.52" y2="2230.6" stroke="#6b6b6b" stroke-width="1.3"/>
<text x="520.52" y="2252.1" font-size="18.7" text-anchor="middle">+4</text>
<line x1="621" y1="2221.6" x2="621" y2="2230.6" stroke="#6b6b6b" stroke-width="1.3"/>
<text x="621" y="2252.1" font-size="18.7" text-anchor="middle">+5</text>
<rect x="82.45" y="2025.04" width="17.7" height="196.56" fill="#6b96fd" stroke="#233f82" stroke-width="1.2"/>
<rect x="109.75" y="2130.88" width="17.7" height="90.72" fill="#f3cbf6" stroke="#7d6a85" stroke-width="1.2"/>
<rect x="137.05" y="2125.84" width="17.7" height="95.76" fill="#b4b4b4" stroke="#5c5c5c" stroke-width="1.2"/>
<rect x="182.93" y="2219.08" width="17.7" height="2.52" fill="#6b96fd" stroke="#233f82" stroke-width="1.2"/>
<rect x="210.23" y="2220.34" width="17.7" height="1.26" fill="#f3cbf6" stroke="#7d6a85" stroke-width="1.2"/>
<rect x="237.53" y="2220.34" width="17.7" height="1.26" fill="#b4b4b4" stroke="#5c5c5c" stroke-width="1.2"/>
<rect x="283.41" y="2220.34" width="17.7" height="1.26" fill="#6b96fd" stroke="#233f82" stroke-width="1.2"/>
<rect x="310.71" y="2220.34" width="17.7" height="1.26" fill="#f3cbf6" stroke="#7d6a85" stroke-width="1.2"/>
<rect x="338.01" y="2220.34" width="17.7" height="1.26" fill="#b4b4b4" stroke="#5c5c5c" stroke-width="1.2"/>
<rect x="383.89" y="2215.3" width="17.7" height="6.3" fill="#6b96fd" stroke="#233f82" stroke-width="1.2"/>
<rect x="411.19" y="2220.34" width="17.7" height="1.26" fill="#f3cbf6" stroke="#7d6a85" stroke-width="1.2"/>
<rect x="438.49" y="2220.34" width="17.7" height="1.26" fill="#b4b4b4" stroke="#5c5c5c" stroke-width="1.2"/>
<rect x="484.37" y="2220.34" width="17.7" height="1.26" fill="#6b96fd" stroke="#233f82" stroke-width="1.2"/>
<rect x="511.67" y="2220.34" width="17.7" height="1.26" fill="#f3cbf6" stroke="#7d6a85" stroke-width="1.2"/>
<rect x="538.97" y="2220.34" width="17.7" height="1.26" fill="#b4b4b4" stroke="#5c5c5c" stroke-width="1.2"/>
<rect x="584.85" y="2198.92" width="17.7" height="22.68" fill="#6b96fd" stroke="#233f82" stroke-width="1.2"/>
<rect x="612.15" y="2219.08" width="17.7" height="2.52" fill="#f3cbf6" stroke="#7d6a85" stroke-width="1.2"/>
<rect x="639.45" y="2219.08" width="17.7" height="2.52" fill="#b4b4b4" stroke="#5c5c5c" stroke-width="1.2"/>
<line x1="118.6" y1="2114.5" x2="118.6" y2="2146" stroke="#7a5a80" stroke-width="1.1"/>
<line x1="113.29" y1="2114.5" x2="123.91" y2="2114.5" stroke="#7a5a80" stroke-width="1.1"/>
<line x1="113.29" y1="2146" x2="123.91" y2="2146" stroke="#7a5a80" stroke-width="1.1"/>
<line x1="145.9" y1="2117.02" x2="145.9" y2="2133.4" stroke="#555555" stroke-width="1.1"/>
<line x1="140.59" y1="2117.02" x2="151.21" y2="2117.02" stroke="#555555" stroke-width="1.1"/>
<line x1="140.59" y1="2133.4" x2="151.21" y2="2133.4" stroke="#555555" stroke-width="1.1"/>
<circle cx="89.3" cy="2020" r="5.6" fill="#abc7f5" stroke="#1f2f5c" stroke-width="1.25"/>
<circle cx="94.3" cy="2026.3" r="5.6" fill="#abc7f5" stroke="#1f2f5c" stroke-width="1.25"/>
<circle cx="88.3" cy="2030.08" r="5.6" fill="#abc7f5" stroke="#1f2f5c" stroke-width="1.25"/>
<circle cx="91.3" cy="2023.78" r="5.6" fill="#abc7f5" stroke="#1f2f5c" stroke-width="1.25"/>
<circle cx="118.6" cy="2108.2" r="5.6" fill="#f7e2f5" stroke="#4a3350" stroke-width="1.25"/>
<circle cx="115.6" cy="2133.4" r="5.6" fill="#f7e2f5" stroke="#4a3350" stroke-width="1.25"/>
<circle cx="121.6" cy="2133.4" r="5.6" fill="#f7e2f5" stroke="#4a3350" stroke-width="1.25"/>
<circle cx="118.6" cy="2147.26" r="5.6" fill="#f7e2f5" stroke="#4a3350" stroke-width="1.25"/>
<circle cx="145.9" cy="2115.76" r="5.6" fill="#d5d5d5" stroke="#2a2a2a" stroke-width="1.25"/>
<circle cx="148.9" cy="2124.58" r="5.6" fill="#d5d5d5" stroke="#2a2a2a" stroke-width="1.25"/>
<circle cx="142.9" cy="2134.66" r="5.6" fill="#d5d5d5" stroke="#2a2a2a" stroke-width="1.25"/>
<circle cx="145.9" cy="2128.36" r="5.6" fill="#d5d5d5" stroke="#2a2a2a" stroke-width="1.25"/>
<circle cx="188.24" cy="2218.95" r="5.6" fill="#abc7f5" stroke="#1f2f5c" stroke-width="1.25"/>
<circle cx="195.32" cy="2219.16" r="5.6" fill="#abc7f5" stroke="#1f2f5c" stroke-width="1.25"/>
<circle cx="190.89" cy="2219.05" r="5.6" fill="#abc7f5" stroke="#1f2f5c" stroke-width="1.25"/>
<circle cx="193.55" cy="2219.21" r="5.6" fill="#abc7f5" stroke="#1f2f5c" stroke-width="1.25"/>
<circle cx="215.54" cy="2220.28" r="5.6" fill="#f7e2f5" stroke="#4a3350" stroke-width="1.25"/>
<circle cx="222.62" cy="2220.38" r="5.6" fill="#f7e2f5" stroke="#4a3350" stroke-width="1.25"/>
<circle cx="218.19" cy="2220.33" r="5.6" fill="#f7e2f5" stroke="#4a3350" stroke-width="1.25"/>
<circle cx="220.85" cy="2220.4" r="5.6" fill="#f7e2f5" stroke="#4a3350" stroke-width="1.25"/>
<circle cx="242.84" cy="2220.28" r="5.6" fill="#d5d5d5" stroke="#2a2a2a" stroke-width="1.25"/>
<circle cx="249.92" cy="2220.38" r="5.6" fill="#d5d5d5" stroke="#2a2a2a" stroke-width="1.25"/>
<circle cx="245.5" cy="2220.33" r="5.6" fill="#d5d5d5" stroke="#2a2a2a" stroke-width="1.25"/>
<circle cx="248.15" cy="2220.4" r="5.6" fill="#d5d5d5" stroke="#2a2a2a" stroke-width="1.25"/>
<circle cx="288.72" cy="2220.28" r="5.6" fill="#abc7f5" stroke="#1f2f5c" stroke-width="1.25"/>
<circle cx="295.8" cy="2220.38" r="5.6" fill="#abc7f5" stroke="#1f2f5c" stroke-width="1.25"/>
<circle cx="291.38" cy="2220.33" r="5.6" fill="#abc7f5" stroke="#1f2f5c" stroke-width="1.25"/>
<circle cx="294.03" cy="2220.4" r="5.6" fill="#abc7f5" stroke="#1f2f5c" stroke-width="1.25"/>
<circle cx="316.02" cy="2220.28" r="5.6" fill="#f7e2f5" stroke="#4a3350" stroke-width="1.25"/>
<circle cx="323.1" cy="2220.38" r="5.6" fill="#f7e2f5" stroke="#4a3350" stroke-width="1.25"/>
<circle cx="318.68" cy="2220.33" r="5.6" fill="#f7e2f5" stroke="#4a3350" stroke-width="1.25"/>
<circle cx="321.33" cy="2220.4" r="5.6" fill="#f7e2f5" stroke="#4a3350" stroke-width="1.25"/>
<circle cx="343.32" cy="2220.28" r="5.6" fill="#d5d5d5" stroke="#2a2a2a" stroke-width="1.25"/>
<circle cx="350.4" cy="2220.38" r="5.6" fill="#d5d5d5" stroke="#2a2a2a" stroke-width="1.25"/>
<circle cx="345.98" cy="2220.33" r="5.6" fill="#d5d5d5" stroke="#2a2a2a" stroke-width="1.25"/>
<circle cx="348.63" cy="2220.4" r="5.6" fill="#d5d5d5" stroke="#2a2a2a" stroke-width="1.25"/>
<circle cx="389.2" cy="2214.99" r="5.6" fill="#abc7f5" stroke="#1f2f5c" stroke-width="1.25"/>
<circle cx="396.28" cy="2215.49" r="5.6" fill="#abc7f5" stroke="#1f2f5c" stroke-width="1.25"/>
<circle cx="391.85" cy="2215.24" r="5.6" fill="#abc7f5" stroke="#1f2f5c" stroke-width="1.25"/>
<circle cx="394.51" cy="2215.61" r="5.6" fill="#abc7f5" stroke="#1f2f5c" stroke-width="1.25"/>
<circle cx="416.5" cy="2220.28" r="5.6" fill="#f7e2f5" stroke="#4a3350" stroke-width="1.25"/>
<circle cx="423.58" cy="2220.38" r="5.6" fill="#f7e2f5" stroke="#4a3350" stroke-width="1.25"/>
<circle cx="419.15" cy="2220.33" r="5.6" fill="#f7e2f5" stroke="#4a3350" stroke-width="1.25"/>
<circle cx="421.81" cy="2220.4" r="5.6" fill="#f7e2f5" stroke="#4a3350" stroke-width="1.25"/>
<circle cx="443.8" cy="2220.28" r="5.6" fill="#d5d5d5" stroke="#2a2a2a" stroke-width="1.25"/>
<circle cx="450.88" cy="2220.38" r="5.6" fill="#d5d5d5" stroke="#2a2a2a" stroke-width="1.25"/>
<circle cx="446.45" cy="2220.33" r="5.6" fill="#d5d5d5" stroke="#2a2a2a" stroke-width="1.25"/>
<circle cx="449.11" cy="2220.4" r="5.6" fill="#d5d5d5" stroke="#2a2a2a" stroke-width="1.25"/>
<circle cx="489.68" cy="2220.28" r="5.6" fill="#abc7f5" stroke="#1f2f5c" stroke-width="1.25"/>
<circle cx="496.76" cy="2220.38" r="5.6" fill="#abc7f5" stroke="#1f2f5c" stroke-width="1.25"/>
<circle cx="492.33" cy="2220.33" r="5.6" fill="#abc7f5" stroke="#1f2f5c" stroke-width="1.25"/>
<circle cx="494.99" cy="2220.4" r="5.6" fill="#abc7f5" stroke="#1f2f5c" stroke-width="1.25"/>
<circle cx="516.98" cy="2220.28" r="5.6" fill="#f7e2f5" stroke="#4a3350" stroke-width="1.25"/>
<circle cx="524.06" cy="2220.38" r="5.6" fill="#f7e2f5" stroke="#4a3350" stroke-width="1.25"/>
<circle cx="519.63" cy="2220.33" r="5.6" fill="#f7e2f5" stroke="#4a3350" stroke-width="1.25"/>
<circle cx="522.29" cy="2220.4" r="5.6" fill="#f7e2f5" stroke="#4a3350" stroke-width="1.25"/>
<circle cx="544.28" cy="2220.28" r="5.6" fill="#d5d5d5" stroke="#2a2a2a" stroke-width="1.25"/>
<circle cx="551.36" cy="2220.38" r="5.6" fill="#d5d5d5" stroke="#2a2a2a" stroke-width="1.25"/>
<circle cx="546.93" cy="2220.33" r="5.6" fill="#d5d5d5" stroke="#2a2a2a" stroke-width="1.25"/>
<circle cx="549.59" cy="2220.4" r="5.6" fill="#d5d5d5" stroke="#2a2a2a" stroke-width="1.25"/>
<circle cx="590.7" cy="2200.18" r="5.6" fill="#abc7f5" stroke="#1f2f5c" stroke-width="1.25"/>
<circle cx="595.7" cy="2197.66" r="5.6" fill="#abc7f5" stroke="#1f2f5c" stroke-width="1.25"/>
<circle cx="593.7" cy="2198.92" r="5.6" fill="#abc7f5" stroke="#1f2f5c" stroke-width="1.25"/>
<circle cx="596.7" cy="2198.92" r="5.6" fill="#abc7f5" stroke="#1f2f5c" stroke-width="1.25"/>
<circle cx="617.46" cy="2218.95" r="5.6" fill="#f7e2f5" stroke="#4a3350" stroke-width="1.25"/>
<circle cx="624.54" cy="2219.16" r="5.6" fill="#f7e2f5" stroke="#4a3350" stroke-width="1.25"/>
<circle cx="620.12" cy="2219.05" r="5.6" fill="#f7e2f5" stroke="#4a3350" stroke-width="1.25"/>
<circle cx="622.77" cy="2219.21" r="5.6" fill="#f7e2f5" stroke="#4a3350" stroke-width="1.25"/>
<circle cx="644.76" cy="2218.95" r="5.6" fill="#d5d5d5" stroke="#2a2a2a" stroke-width="1.25"/>
<circle cx="651.84" cy="2219.16" r="5.6" fill="#d5d5d5" stroke="#2a2a2a" stroke-width="1.25"/>
<circle cx="647.41" cy="2219.05" r="5.6" fill="#d5d5d5" stroke="#2a2a2a" stroke-width="1.25"/>
<circle cx="650.07" cy="2219.21" r="5.6" fill="#d5d5d5" stroke="#2a2a2a" stroke-width="1.25"/>
<line x1="91.6" y1="1999.4" x2="118.6" y2="1999.4" stroke="#7a7a7a" stroke-width="1.3"/>
<text x="105.5" y="1998.66" font-size="25.8" text-anchor="middle" font-weight="bold">****</text>
<line x1="91.6" y1="1964.8" x2="146.1" y2="1964.8" stroke="#7a7a7a" stroke-width="1.3"/>
<text x="118.6" y="1964.86" font-size="25.8" text-anchor="middle" font-weight="bold">****</text>
<line x1="594" y1="2176.6" x2="621" y2="2176.6" stroke="#7a7a7a" stroke-width="1.3"/>
<text x="608" y="2176.56" font-size="25.8" text-anchor="middle" font-weight="bold">****</text>
<line x1="594" y1="2139.6" x2="648" y2="2139.6" stroke="#7a7a7a" stroke-width="1.3"/>
<text x="621" y="2139.96" font-size="25.8" text-anchor="middle" font-weight="bold">****</text>
<text x="365.3" y="1927" font-size="27.3" text-anchor="middle" font-weight="bold">Glutathione (reduced)</text>
<text x="247.65" y="1953.5" font-size="21" text-anchor="start" font-weight="bold" textLength="235.98" lengthAdjust="spacingAndGlyphs">[U-<tspan dy="-6.7" font-size="16.3" font-weight="normal">13</tspan><tspan dy="6.7">C]-Glutamine tracer</tspan></text>
<text x="71.7" y="1947" font-size="20" text-anchor="end">(x10<tspan dy="-7.2" font-size="14.4">9</tspan><tspan dy="7.2">)</tspan></text>
<text x="0" y="0" font-size="20.5" text-anchor="middle" transform="translate(27.5 2089) rotate(-90)">Rel. Abundance (A.U.)</text>
<rect x="290.6" y="2021.3" width="31.5" height="21.5" fill="#6b96fd" stroke="#233f82" stroke-width="1.2"/>
<text x="330.4" y="2039.14" font-size="21.5" text-anchor="start" font-style="italic" fill="#7ea2ee">sgScr</text>
<rect x="290.6" y="2054" width="31.5" height="21.5" fill="#f3cbf6" stroke="#7d6a85" stroke-width="1.2"/>
<text x="330.4" y="2071.84" font-size="21.5" text-anchor="start" font-style="italic" fill="#dea6ee">sgNfe2l2</text>
<rect x="290.6" y="2087.5" width="31.5" height="21.5" fill="#b4b4b4" stroke="#5c5c5c" stroke-width="1.2"/>
<text x="330.4" y="2105.34" font-size="21.5" text-anchor="start" font-style="italic" fill="#bdbdbd">sgScr</text>
<text x="395.8" y="2105.78" font-size="21.5" text-anchor="start">WT</text>
<polyline points="418.8,2021.3 435.8,2021.3 435.8,2074.3 418.8,2074.3" fill="none" stroke="#8a8a8a" stroke-width="1.3"/>
<text x="441.9" y="2053.93" font-size="21.5" text-anchor="start" font-style="italic">Keap1<tspan dy="-8.6" font-size="13.76">-/-</tspan></text>
<line x1="787" y1="1967.19" x2="787" y2="2219.6" stroke="#6b6b6b" stroke-width="1.3"/>
<line x1="780" y1="2219.6" x2="1380.3" y2="2219.6" stroke="#6b6b6b" stroke-width="1.3"/>
<line x1="781" y1="2219.6" x2="787" y2="2219.6" stroke="#6b6b6b" stroke-width="1.3"/>
<text x="777" y="2226.04" font-size="18" text-anchor="end">0</text>
<line x1="781" y1="2135.46" x2="787" y2="2135.46" stroke="#6b6b6b" stroke-width="1.3"/>
<text x="777" y="2141.91" font-size="18" text-anchor="end">0.5</text>
<line x1="781" y1="2051.33" x2="787" y2="2051.33" stroke="#6b6b6b" stroke-width="1.3"/>
<text x="777" y="2057.77" font-size="18" text-anchor="end">1</text>
<line x1="781" y1="1967.19" x2="787" y2="1967.19" stroke="#6b6b6b" stroke-width="1.3"/>
<text x="777" y="1973.64" font-size="18" text-anchor="end">1.5</text>
<line x1="817.6" y1="2219.6" x2="817.6" y2="2228.6" stroke="#6b6b6b" stroke-width="1.3"/>
<text x="817.6" y="2250.1" font-size="18.7" text-anchor="middle">M+0</text>
<line x1="884.1" y1="2219.6" x2="884.1" y2="2228.6" stroke="#6b6b6b" stroke-width="1.3"/>
<text x="884.1" y="2250.1" font-size="18.7" text-anchor="middle">+1</text>
<line x1="950.6" y1="2219.6" x2="950.6" y2="2228.6" stroke="#6b6b6b" stroke-width="1.3"/>
<text x="950.6" y="2250.1" font-size="18.7" text-anchor="middle">+2</text>
<line x1="1017.1" y1="2219.6" x2="1017.1" y2="2228.6" stroke="#6b6b6b" stroke-width="1.3"/>
<text x="1017.1" y="2250.1" font-size="18.7" text-anchor="middle">+3</text>
<line x1="1083.6" y1="2219.6" x2="1083.6" y2="2228.6" stroke="#6b6b6b" stroke-width="1.3"/>
<text x="1083.6" y="2250.1" font-size="18.7" text-anchor="middle">+4</text>
<line x1="1150.1" y1="2219.6" x2="1150.1" y2="2228.6" stroke="#6b6b6b" stroke-width="1.3"/>
<text x="1150.1" y="2250.1" font-size="18.7" text-anchor="middle">+5</text>
<line x1="1216.6" y1="2219.6" x2="1216.6" y2="2228.6" stroke="#6b6b6b" stroke-width="1.3"/>
<text x="1216.6" y="2250.1" font-size="18.7" text-anchor="middle">+6</text>
<line x1="1283.1" y1="2219.6" x2="1283.1" y2="2228.6" stroke="#6b6b6b" stroke-width="1.3"/>
<text x="1283.1" y="2250.1" font-size="18.7" text-anchor="middle">+7</text>
<line x1="1349.6" y1="2219.6" x2="1349.6" y2="2228.6" stroke="#6b6b6b" stroke-width="1.3"/>
<text x="1349.6" y="2250.1" font-size="18.7" text-anchor="middle">+8</text>
<rect x="793.65" y="2093.4" width="11.5" height="126.2" fill="#6b96fd" stroke="#233f82" stroke-width="1.2"/>
<rect x="811.85" y="2174.17" width="11.5" height="45.43" fill="#f3cbf6" stroke="#7d6a85" stroke-width="1.2"/>
<rect x="830.05" y="2196.04" width="11.5" height="23.56" fill="#b4b4b4" stroke="#5c5c5c" stroke-width="1.2"/>
<rect x="860.15" y="2212.87" width="11.5" height="6.73" fill="#6b96fd" stroke="#233f82" stroke-width="1.2"/>
<rect x="878.35" y="2217.92" width="11.5" height="1.68" fill="#f3cbf6" stroke="#7d6a85" stroke-width="1.2"/>
<rect x="896.55" y="2216.23" width="11.5" height="3.37" fill="#b4b4b4" stroke="#5c5c5c" stroke-width="1.2"/>
<rect x="926.65" y="2212.87" width="11.5" height="6.73" fill="#6b96fd" stroke="#233f82" stroke-width="1.2"/>
<rect x="944.85" y="2217.92" width="11.5" height="1.68" fill="#f3cbf6" stroke="#7d6a85" stroke-width="1.2"/>
<rect x="963.05" y="2217.92" width="11.5" height="1.68" fill="#b4b4b4" stroke="#5c5c5c" stroke-width="1.2"/>
<rect x="993.15" y="2179.22" width="11.5" height="40.38" fill="#6b96fd" stroke="#233f82" stroke-width="1.2"/>
<rect x="1011.35" y="2211.19" width="11.5" height="8.41" fill="#f3cbf6" stroke="#7d6a85" stroke-width="1.2"/>
<rect x="1029.55" y="2212.87" width="11.5" height="6.73" fill="#b4b4b4" stroke="#5c5c5c" stroke-width="1.2"/>
<rect x="1059.65" y="2217.92" width="11.5" height="1.68" fill="#6b96fd" stroke="#233f82" stroke-width="1.2"/>
<rect x="1096.05" y="2217.92" width="11.5" height="1.68" fill="#b4b4b4" stroke="#5c5c5c" stroke-width="1.2"/>
<rect x="1126.15" y="2079.94" width="11.5" height="139.66" fill="#6b96fd" stroke="#233f82" stroke-width="1.2"/>
<rect x="1144.35" y="2164.07" width="11.5" height="55.53" fill="#f3cbf6" stroke="#7d6a85" stroke-width="1.2"/>
<rect x="1162.55" y="2182.58" width="11.5" height="37.02" fill="#b4b4b4" stroke="#5c5c5c" stroke-width="1.2"/>
<rect x="1259.15" y="2217.92" width="11.5" height="1.68" fill="#6b96fd" stroke="#233f82" stroke-width="1.2"/>
<rect x="1277.35" y="2217.92" width="11.5" height="1.68" fill="#f3cbf6" stroke="#7d6a85" stroke-width="1.2"/>
<rect x="1295.55" y="2217.92" width="11.5" height="1.68" fill="#b4b4b4" stroke="#5c5c5c" stroke-width="1.2"/>
<line x1="799.4" y1="2068.16" x2="799.4" y2="2115.27" stroke="#1f3a7a" stroke-width="1.1"/>
<line x1="795.95" y1="2068.16" x2="802.85" y2="2068.16" stroke="#1f3a7a" stroke-width="1.1"/>
<line x1="795.95" y1="2115.27" x2="802.85" y2="2115.27" stroke="#1f3a7a" stroke-width="1.1"/>
<line x1="817.6" y1="2159.02" x2="817.6" y2="2185.95" stroke="#7a5a80" stroke-width="1.1"/>
<line x1="814.15" y1="2159.02" x2="821.05" y2="2159.02" stroke="#7a5a80" stroke-width="1.1"/>
<line x1="814.15" y1="2185.95" x2="821.05" y2="2185.95" stroke="#7a5a80" stroke-width="1.1"/>
<line x1="835.8" y1="2190.99" x2="835.8" y2="2201.09" stroke="#555555" stroke-width="1.1"/>
<line x1="832.35" y1="2190.99" x2="839.25" y2="2190.99" stroke="#555555" stroke-width="1.1"/>
<line x1="832.35" y1="2201.09" x2="839.25" y2="2201.09" stroke="#555555" stroke-width="1.1"/>
<line x1="998.9" y1="2167.44" x2="998.9" y2="2190.99" stroke="#1f3a7a" stroke-width="1.1"/>
<line x1="995.45" y1="2167.44" x2="1002.35" y2="2167.44" stroke="#1f3a7a" stroke-width="1.1"/>
<line x1="995.45" y1="2190.99" x2="1002.35" y2="2190.99" stroke="#1f3a7a" stroke-width="1.1"/>
<line x1="1131.9" y1="2063.11" x2="1131.9" y2="2093.4" stroke="#1f3a7a" stroke-width="1.1"/>
<line x1="1128.45" y1="2063.11" x2="1135.35" y2="2063.11" stroke="#1f3a7a" stroke-width="1.1"/>
<line x1="1128.45" y1="2093.4" x2="1135.35" y2="2093.4" stroke="#1f3a7a" stroke-width="1.1"/>
<line x1="1150.1" y1="2148.93" x2="1150.1" y2="2182.58" stroke="#7a5a80" stroke-width="1.1"/>
<line x1="1146.65" y1="2148.93" x2="1153.55" y2="2148.93" stroke="#7a5a80" stroke-width="1.1"/>
<line x1="1146.65" y1="2182.58" x2="1153.55" y2="2182.58" stroke="#7a5a80" stroke-width="1.1"/>
<line x1="1168.3" y1="2174.17" x2="1168.3" y2="2190.99" stroke="#555555" stroke-width="1.1"/>
<line x1="1164.85" y1="2174.17" x2="1171.75" y2="2174.17" stroke="#555555" stroke-width="1.1"/>
<line x1="1164.85" y1="2190.99" x2="1171.75" y2="2190.99" stroke="#555555" stroke-width="1.1"/>
<circle cx="799.4" cy="2054.7" r="6" fill="#abc7f5" stroke="#1f2f5c" stroke-width="1.25"/>
<circle cx="799.4" cy="2100.13" r="6" fill="#abc7f5" stroke="#1f2f5c" stroke-width="1.25"/>
<circle cx="799.4" cy="2106.86" r="6" fill="#abc7f5" stroke="#1f2f5c" stroke-width="1.25"/>
<circle cx="799.4" cy="2111.91" r="6" fill="#abc7f5" stroke="#1f2f5c" stroke-width="1.25"/>
<circle cx="817.6" cy="2153.97" r="6" fill="#f7e2f5" stroke="#4a3350" stroke-width="1.25"/>
<circle cx="817.6" cy="2169.12" r="6" fill="#f7e2f5" stroke="#4a3350" stroke-width="1.25"/>
<circle cx="817.6" cy="2182.58" r="6" fill="#f7e2f5" stroke="#4a3350" stroke-width="1.25"/>
<circle cx="817.6" cy="2177.53" r="6" fill="#f7e2f5" stroke="#4a3350" stroke-width="1.25"/>
<circle cx="835.8" cy="2189.31" r="6" fill="#d5d5d5" stroke="#2a2a2a" stroke-width="1.25"/>
<circle cx="835.8" cy="2194.36" r="6" fill="#d5d5d5" stroke="#2a2a2a" stroke-width="1.25"/>
<circle cx="835.8" cy="2199.41" r="6" fill="#d5d5d5" stroke="#2a2a2a" stroke-width="1.25"/>
<circle cx="835.8" cy="2197.72" r="6" fill="#d5d5d5" stroke="#2a2a2a" stroke-width="1.25"/>
<circle cx="865.9" cy="2209.5" r="6" fill="#abc7f5" stroke="#1f2f5c" stroke-width="1.25"/>
<circle cx="865.9" cy="2211.19" r="6" fill="#abc7f5" stroke="#1f2f5c" stroke-width="1.25"/>
<circle cx="865.9" cy="2217.92" r="6" fill="#abc7f5" stroke="#1f2f5c" stroke-width="1.25"/>
<circle cx="865.9" cy="2212.87" r="6" fill="#abc7f5" stroke="#1f2f5c" stroke-width="1.25"/>
<circle cx="884.1" cy="2214.55" r="6" fill="#f7e2f5" stroke="#4a3350" stroke-width="1.25"/>
<circle cx="884.1" cy="2219.6" r="6" fill="#f7e2f5" stroke="#4a3350" stroke-width="1.25"/>
<circle cx="884.1" cy="2217.92" r="6" fill="#f7e2f5" stroke="#4a3350" stroke-width="1.25"/>
<circle cx="884.1" cy="2219.6" r="6" fill="#f7e2f5" stroke="#4a3350" stroke-width="1.25"/>
<circle cx="902.3" cy="2212.87" r="6" fill="#d5d5d5" stroke="#2a2a2a" stroke-width="1.25"/>
<circle cx="902.3" cy="2217.92" r="6" fill="#d5d5d5" stroke="#2a2a2a" stroke-width="1.25"/>
<circle cx="902.3" cy="2219.6" r="6" fill="#d5d5d5" stroke="#2a2a2a" stroke-width="1.25"/>
<circle cx="902.3" cy="2216.23" r="6" fill="#d5d5d5" stroke="#2a2a2a" stroke-width="1.25"/>
<circle cx="932.4" cy="2207.82" r="6" fill="#abc7f5" stroke="#1f2f5c" stroke-width="1.25"/>
<circle cx="932.4" cy="2216.23" r="6" fill="#abc7f5" stroke="#1f2f5c" stroke-width="1.25"/>
<circle cx="932.4" cy="2214.55" r="6" fill="#abc7f5" stroke="#1f2f5c" stroke-width="1.25"/>
<circle cx="932.4" cy="2216.23" r="6" fill="#abc7f5" stroke="#1f2f5c" stroke-width="1.25"/>
<circle cx="950.6" cy="2217.92" r="6" fill="#f7e2f5" stroke="#4a3350" stroke-width="1.25"/>
<circle cx="950.6" cy="2219.6" r="6" fill="#f7e2f5" stroke="#4a3350" stroke-width="1.25"/>
<circle cx="950.6" cy="2218.76" r="6" fill="#f7e2f5" stroke="#4a3350" stroke-width="1.25"/>
<circle cx="950.6" cy="2219.6" r="6" fill="#f7e2f5" stroke="#4a3350" stroke-width="1.25"/>
<circle cx="968.8" cy="2218.76" r="6" fill="#d5d5d5" stroke="#2a2a2a" stroke-width="1.25"/>
<circle cx="968.8" cy="2219.6" r="6" fill="#d5d5d5" stroke="#2a2a2a" stroke-width="1.25"/>
<circle cx="968.8" cy="2218.76" r="6" fill="#d5d5d5" stroke="#2a2a2a" stroke-width="1.25"/>
<circle cx="968.8" cy="2219.6" r="6" fill="#d5d5d5" stroke="#2a2a2a" stroke-width="1.25"/>
<circle cx="998.9" cy="2165.75" r="6" fill="#abc7f5" stroke="#1f2f5c" stroke-width="1.25"/>
<circle cx="998.9" cy="2182.58" r="6" fill="#abc7f5" stroke="#1f2f5c" stroke-width="1.25"/>
<circle cx="998.9" cy="2190.99" r="6" fill="#abc7f5" stroke="#1f2f5c" stroke-width="1.25"/>
<circle cx="998.9" cy="2177.53" r="6" fill="#abc7f5" stroke="#1f2f5c" stroke-width="1.25"/>
<circle cx="1017.1" cy="2204.46" r="6" fill="#f7e2f5" stroke="#4a3350" stroke-width="1.25"/>
<circle cx="1017.1" cy="2207.82" r="6" fill="#f7e2f5" stroke="#4a3350" stroke-width="1.25"/>
<circle cx="1017.1" cy="2216.23" r="6" fill="#f7e2f5" stroke="#4a3350" stroke-width="1.25"/>
<circle cx="1017.1" cy="2211.19" r="6" fill="#f7e2f5" stroke="#4a3350" stroke-width="1.25"/>
<circle cx="1035.3" cy="2204.46" r="6" fill="#d5d5d5" stroke="#2a2a2a" stroke-width="1.25"/>
<circle cx="1035.3" cy="2209.5" r="6" fill="#d5d5d5" stroke="#2a2a2a" stroke-width="1.25"/>
<circle cx="1035.3" cy="2217.92" r="6" fill="#d5d5d5" stroke="#2a2a2a" stroke-width="1.25"/>
<circle cx="1035.3" cy="2216.23" r="6" fill="#d5d5d5" stroke="#2a2a2a" stroke-width="1.25"/>
<circle cx="1065.4" cy="2216.23" r="6" fill="#abc7f5" stroke="#1f2f5c" stroke-width="1.25"/>
<circle cx="1065.4" cy="2217.92" r="6" fill="#abc7f5" stroke="#1f2f5c" stroke-width="1.25"/>
<circle cx="1065.4" cy="2217.08" r="6" fill="#abc7f5" stroke="#1f2f5c" stroke-width="1.25"/>
<circle cx="1065.4" cy="2217.92" r="6" fill="#abc7f5" stroke="#1f2f5c" stroke-width="1.25"/>
<circle cx="1083.6" cy="2219.6" r="6" fill="#f7e2f5" stroke="#4a3350" stroke-width="1.25"/>
<circle cx="1083.6" cy="2219.6" r="6" fill="#f7e2f5" stroke="#4a3350" stroke-width="1.25"/>
<circle cx="1083.6" cy="2219.6" r="6" fill="#f7e2f5" stroke="#4a3350" stroke-width="1.25"/>
<circle cx="1083.6" cy="2219.6" r="6" fill="#f7e2f5" stroke="#4a3350" stroke-width="1.25"/>
<circle cx="1101.8" cy="2217.08" r="6" fill="#d5d5d5" stroke="#2a2a2a" stroke-width="1.25"/>
<circle cx="1101.8" cy="2219.6" r="6" fill="#d5d5d5" stroke="#2a2a2a" stroke-width="1.25"/>
<circle cx="1101.8" cy="2218.76" r="6" fill="#d5d5d5" stroke="#2a2a2a" stroke-width="1.25"/>
<circle cx="1101.8" cy="2219.6" r="6" fill="#d5d5d5" stroke="#2a2a2a" stroke-width="1.25"/>
<circle cx="1131.9" cy="2058.06" r="6" fill="#abc7f5" stroke="#1f2f5c" stroke-width="1.25"/>
<circle cx="1131.9" cy="2073.21" r="6" fill="#abc7f5" stroke="#1f2f5c" stroke-width="1.25"/>
<circle cx="1131.9" cy="2090.03" r="6" fill="#abc7f5" stroke="#1f2f5c" stroke-width="1.25"/>
<circle cx="1131.9" cy="2091.71" r="6" fill="#abc7f5" stroke="#1f2f5c" stroke-width="1.25"/>
<circle cx="1150.1" cy="2148.93" r="6" fill="#f7e2f5" stroke="#4a3350" stroke-width="1.25"/>
<circle cx="1150.1" cy="2157.34" r="6" fill="#f7e2f5" stroke="#4a3350" stroke-width="1.25"/>
<circle cx="1150.1" cy="2165.75" r="6" fill="#f7e2f5" stroke="#4a3350" stroke-width="1.25"/>
<circle cx="1150.1" cy="2182.58" r="6" fill="#f7e2f5" stroke="#4a3350" stroke-width="1.25"/>
<circle cx="1168.3" cy="2172.48" r="6" fill="#d5d5d5" stroke="#2a2a2a" stroke-width="1.25"/>
<circle cx="1168.3" cy="2180.9" r="6" fill="#d5d5d5" stroke="#2a2a2a" stroke-width="1.25"/>
<circle cx="1168.3" cy="2187.63" r="6" fill="#d5d5d5" stroke="#2a2a2a" stroke-width="1.25"/>
<circle cx="1168.3" cy="2185.95" r="6" fill="#d5d5d5" stroke="#2a2a2a" stroke-width="1.25"/>
<circle cx="1198.4" cy="2219.6" r="6" fill="#abc7f5" stroke="#1f2f5c" stroke-width="1.25"/>
<circle cx="1198.4" cy="2219.6" r="6" fill="#abc7f5" stroke="#1f2f5c" stroke-width="1.25"/>
<circle cx="1198.4" cy="2219.6" r="6" fill="#abc7f5" stroke="#1f2f5c" stroke-width="1.25"/>
<circle cx="1198.4" cy="2219.6" r="6" fill="#abc7f5" stroke="#1f2f5c" stroke-width="1.25"/>
<circle cx="1216.6" cy="2219.6" r="6" fill="#f7e2f5" stroke="#4a3350" stroke-width="1.25"/>
<circle cx="1216.6" cy="2219.6" r="6" fill="#f7e2f5" stroke="#4a3350" stroke-width="1.25"/>
<circle cx="1216.6" cy="2219.6" r="6" fill="#f7e2f5" stroke="#4a3350" stroke-width="1.25"/>
<circle cx="1216.6" cy="2219.6" r="6" fill="#f7e2f5" stroke="#4a3350" stroke-width="1.25"/>
<circle cx="1234.8" cy="2219.6" r="6" fill="#d5d5d5" stroke="#2a2a2a" stroke-width="1.25"/>
<circle cx="1234.8" cy="2219.6" r="6" fill="#d5d5d5" stroke="#2a2a2a" stroke-width="1.25"/>
<circle cx="1234.8" cy="2219.6" r="6" fill="#d5d5d5" stroke="#2a2a2a" stroke-width="1.25"/>
<circle cx="1234.8" cy="2219.6" r="6" fill="#d5d5d5" stroke="#2a2a2a" stroke-width="1.25"/>
<circle cx="1264.9" cy="2216.23" r="6" fill="#abc7f5" stroke="#1f2f5c" stroke-width="1.25"/>
<circle cx="1264.9" cy="2218.76" r="6" fill="#abc7f5" stroke="#1f2f5c" stroke-width="1.25"/>
<circle cx="1264.9" cy="2217.92" r="6" fill="#abc7f5" stroke="#1f2f5c" stroke-width="1.25"/>
<circle cx="1264.9" cy="2219.6" r="6" fill="#abc7f5" stroke="#1f2f5c" stroke-width="1.25"/>
<circle cx="1283.1" cy="2216.23" r="6" fill="#f7e2f5" stroke="#4a3350" stroke-width="1.25"/>
<circle cx="1283.1" cy="2219.6" r="6" fill="#f7e2f5" stroke="#4a3350" stroke-width="1.25"/>
<circle cx="1283.1" cy="2218.76" r="6" fill="#f7e2f5" stroke="#4a3350" stroke-width="1.25"/>
<circle cx="1283.1" cy="2219.6" r="6" fill="#f7e2f5" stroke="#4a3350" stroke-width="1.25"/>
<circle cx="1301.3" cy="2217.08" r="6" fill="#d5d5d5" stroke="#2a2a2a" stroke-width="1.25"/>
<circle cx="1301.3" cy="2218.76" r="6" fill="#d5d5d5" stroke="#2a2a2a" stroke-width="1.25"/>
<circle cx="1301.3" cy="2217.92" r="6" fill="#d5d5d5" stroke="#2a2a2a" stroke-width="1.25"/>
<circle cx="1301.3" cy="2219.6" r="6" fill="#d5d5d5" stroke="#2a2a2a" stroke-width="1.25"/>
<circle cx="1331.4" cy="2219.6" r="6" fill="#abc7f5" stroke="#1f2f5c" stroke-width="1.25"/>
<circle cx="1331.4" cy="2219.6" r="6" fill="#abc7f5" stroke="#1f2f5c" stroke-width="1.25"/>
<circle cx="1331.4" cy="2219.6" r="6" fill="#abc7f5" stroke="#1f2f5c" stroke-width="1.25"/>
<circle cx="1331.4" cy="2219.6" r="6" fill="#abc7f5" stroke="#1f2f5c" stroke-width="1.25"/>
<circle cx="1349.6" cy="2219.6" r="6" fill="#f7e2f5" stroke="#4a3350" stroke-width="1.25"/>
<circle cx="1349.6" cy="2219.6" r="6" fill="#f7e2f5" stroke="#4a3350" stroke-width="1.25"/>
<circle cx="1349.6" cy="2219.6" r="6" fill="#f7e2f5" stroke="#4a3350" stroke-width="1.25"/>
<circle cx="1349.6" cy="2219.6" r="6" fill="#f7e2f5" stroke="#4a3350" stroke-width="1.25"/>
<circle cx="1367.8" cy="2219.6" r="6" fill="#d5d5d5" stroke="#2a2a2a" stroke-width="1.25"/>
<circle cx="1367.8" cy="2219.6" r="6" fill="#d5d5d5" stroke="#2a2a2a" stroke-width="1.25"/>
<circle cx="1367.8" cy="2219.6" r="6" fill="#d5d5d5" stroke="#2a2a2a" stroke-width="1.25"/>
<circle cx="1367.8" cy="2219.6" r="6" fill="#d5d5d5" stroke="#2a2a2a" stroke-width="1.25"/>
<line x1="799.6" y1="2034.9" x2="817.6" y2="2034.9" stroke="#7a7a7a" stroke-width="1.3"/>
<text x="807.8" y="2034.56" font-size="25.8" text-anchor="middle" font-weight="bold">****</text>
<line x1="817.6" y1="2000.9" x2="835.2" y2="2000.9" stroke="#7a7a7a" stroke-width="1.3"/>
<text x="826.2" y="2000.56" font-size="25.8" text-anchor="middle" font-weight="bold">****</text>
<line x1="799.6" y1="1968.1" x2="835.2" y2="1968.1" stroke="#7a7a7a" stroke-width="1.3"/>
<text x="817.6" y="1968.16" font-size="25.8" text-anchor="middle" font-weight="bold">****</text>
<line x1="999.2" y1="2146.4" x2="1016.8" y2="2146.4" stroke="#7a7a7a" stroke-width="1.3"/>
<text x="1008.2" y="2145.16" font-size="25.8" text-anchor="middle" font-weight="bold">****</text>
<line x1="999.2" y1="2109.5" x2="1035.2" y2="2109.5" stroke="#7a7a7a" stroke-width="1.3"/>
<text x="1016.8" y="2108.36" font-size="25.8" text-anchor="middle" font-weight="bold">****</text>
<line x1="1132.4" y1="2037" x2="1150" y2="2037" stroke="#7a7a7a" stroke-width="1.3"/>
<text x="1141.4" y="2036.56" font-size="25.8" text-anchor="middle" font-weight="bold">****</text>
<line x1="1132.4" y1="2010.3" x2="1168" y2="2010.3" stroke="#7a7a7a" stroke-width="1.3"/>
<text x="1150" y="2009.96" font-size="25.8" text-anchor="middle" font-weight="bold">****</text>
<line x1="1150" y1="2133.3" x2="1168" y2="2133.3" stroke="#7a7a7a" stroke-width="1.3"/>
<text x="1159" y="2132.96" font-size="25.8" text-anchor="middle" font-weight="bold">*</text>
<text x="1086.3" y="1919" font-size="27.3" text-anchor="middle" font-weight="bold"><tspan font-family='"Liberation Serif", serif' font-weight="normal">γ</tspan>-glutamyl-cysteine</text>
<text x="969.05" y="1948.2" font-size="21" text-anchor="start" font-weight="bold" textLength="236.48" lengthAdjust="spacingAndGlyphs">[U-<tspan dy="-6.7" font-size="16.3" font-weight="normal">13</tspan><tspan dy="6.7">C]-Glutamine tracer</tspan></text>
<text x="787.3" y="1942" font-size="20" text-anchor="end">(x10<tspan dy="-7.2" font-size="14.4">6</tspan><tspan dy="7.2">)</tspan></text>
<text x="0" y="0" font-size="20.5" text-anchor="middle" transform="translate(736.5 2089) rotate(-90)">Rel. Abundance (A.U.)</text>
<line x1="1517.3" y1="1967.7" x2="1517.3" y2="2220.2" stroke="#6b6b6b" stroke-width="1.3"/>
<line x1="1511" y1="2220.2" x2="2110.9" y2="2220.2" stroke="#6b6b6b" stroke-width="1.3"/>
<line x1="1511.3" y1="2220.2" x2="1517.3" y2="2220.2" stroke="#6b6b6b" stroke-width="1.3"/>
<text x="1507.3" y="2226.64" font-size="18" text-anchor="end">0</text>
<line x1="1511.3" y1="2169.7" x2="1517.3" y2="2169.7" stroke="#6b6b6b" stroke-width="1.3"/>
<text x="1507.3" y="2176.14" font-size="18" text-anchor="end">0.5</text>
<line x1="1511.3" y1="2119.2" x2="1517.3" y2="2119.2" stroke="#6b6b6b" stroke-width="1.3"/>
<text x="1507.3" y="2125.64" font-size="18" text-anchor="end">1</text>
<line x1="1511.3" y1="2068.7" x2="1517.3" y2="2068.7" stroke="#6b6b6b" stroke-width="1.3"/>
<text x="1507.3" y="2075.14" font-size="18" text-anchor="end">1.5</text>
<line x1="1511.3" y1="2018.2" x2="1517.3" y2="2018.2" stroke="#6b6b6b" stroke-width="1.3"/>
<text x="1507.3" y="2024.64" font-size="18" text-anchor="end">2</text>
<line x1="1511.3" y1="1967.7" x2="1517.3" y2="1967.7" stroke="#6b6b6b" stroke-width="1.3"/>
<text x="1507.3" y="1974.14" font-size="18" text-anchor="end">2.5</text>
<line x1="1563.2" y1="2220.2" x2="1563.2" y2="2229.2" stroke="#6b6b6b" stroke-width="1.3"/>
<text x="1563.2" y="2250.7" font-size="18.7" text-anchor="middle">M+0</text>
<line x1="1663.72" y1="2220.2" x2="1663.72" y2="2229.2" stroke="#6b6b6b" stroke-width="1.3"/>
<text x="1663.72" y="2250.7" font-size="18.7" text-anchor="middle">+1</text>
<line x1="1764.24" y1="2220.2" x2="1764.24" y2="2229.2" stroke="#6b6b6b" stroke-width="1.3"/>
<text x="1764.24" y="2250.7" font-size="18.7" text-anchor="middle">+2</text>
<line x1="1864.76" y1="2220.2" x2="1864.76" y2="2229.2" stroke="#6b6b6b" stroke-width="1.3"/>
<text x="1864.76" y="2250.7" font-size="18.7" text-anchor="middle">+3</text>
<line x1="1965.28" y1="2220.2" x2="1965.28" y2="2229.2" stroke="#6b6b6b" stroke-width="1.3"/>
<text x="1965.28" y="2250.7" font-size="18.7" text-anchor="middle">+4</text>
<line x1="2065.8" y1="2220.2" x2="2065.8" y2="2229.2" stroke="#6b6b6b" stroke-width="1.3"/>
<text x="2065.8" y="2250.7" font-size="18.7" text-anchor="middle">+5</text>
<rect x="1527.05" y="2119.2" width="17.3" height="101" fill="#6b96fd" stroke="#233f82" stroke-width="1.2"/>
<rect x="1554.55" y="2124.25" width="17.3" height="95.95" fill="#f3cbf6" stroke="#7d6a85" stroke-width="1.2"/>
<rect x="1582.05" y="2125.26" width="17.3" height="94.94" fill="#b4b4b4" stroke="#5c5c5c" stroke-width="1.2"/>
<rect x="1627.57" y="2190.91" width="17.3" height="29.29" fill="#6b96fd" stroke="#233f82" stroke-width="1.2"/>
<rect x="1655.07" y="2190.91" width="17.3" height="29.29" fill="#f3cbf6" stroke="#7d6a85" stroke-width="1.2"/>
<rect x="1682.57" y="2187.88" width="17.3" height="32.32" fill="#b4b4b4" stroke="#5c5c5c" stroke-width="1.2"/>
<rect x="1728.09" y="2201.01" width="17.3" height="19.19" fill="#6b96fd" stroke="#233f82" stroke-width="1.2"/>
<rect x="1755.59" y="2200" width="17.3" height="20.2" fill="#f3cbf6" stroke="#7d6a85" stroke-width="1.2"/>
<rect x="1783.09" y="2198.99" width="17.3" height="21.21" fill="#b4b4b4" stroke="#5c5c5c" stroke-width="1.2"/>
<rect x="1828.61" y="2162.63" width="17.3" height="57.57" fill="#6b96fd" stroke="#233f82" stroke-width="1.2"/>
<rect x="1856.11" y="2157.58" width="17.3" height="62.62" fill="#f3cbf6" stroke="#7d6a85" stroke-width="1.2"/>
<rect x="1883.61" y="2156.57" width="17.3" height="63.63" fill="#b4b4b4" stroke="#5c5c5c" stroke-width="1.2"/>
<rect x="1929.13" y="2212.12" width="17.3" height="8.08" fill="#6b96fd" stroke="#233f82" stroke-width="1.2"/>
<rect x="1956.63" y="2212.12" width="17.3" height="8.08" fill="#f3cbf6" stroke="#7d6a85" stroke-width="1.2"/>
<rect x="1984.13" y="2212.12" width="17.3" height="8.08" fill="#b4b4b4" stroke="#5c5c5c" stroke-width="1.2"/>
<rect x="2029.65" y="2046.48" width="17.3" height="173.72" fill="#6b96fd" stroke="#233f82" stroke-width="1.2"/>
<rect x="2057.15" y="2032.34" width="17.3" height="187.86" fill="#f3cbf6" stroke="#7d6a85" stroke-width="1.2"/>
<rect x="2084.65" y="2046.48" width="17.3" height="173.72" fill="#b4b4b4" stroke="#5c5c5c" stroke-width="1.2"/>
<circle cx="1532.7" cy="2121.22" r="5.6" fill="#abc7f5" stroke="#1f2f5c" stroke-width="1.25"/>
<circle cx="1535.7" cy="2114.15" r="5.6" fill="#abc7f5" stroke="#1f2f5c" stroke-width="1.25"/>
<circle cx="1538.7" cy="2118.19" r="5.6" fill="#abc7f5" stroke="#1f2f5c" stroke-width="1.25"/>
<circle cx="1535.7" cy="2117.18" r="5.6" fill="#abc7f5" stroke="#1f2f5c" stroke-width="1.25"/>
<circle cx="1561.2" cy="2126.27" r="5.6" fill="#f7e2f5" stroke="#4a3350" stroke-width="1.25"/>
<circle cx="1563.2" cy="2121.22" r="5.6" fill="#f7e2f5" stroke="#4a3350" stroke-width="1.25"/>
<circle cx="1566.2" cy="2122.23" r="5.6" fill="#f7e2f5" stroke="#4a3350" stroke-width="1.25"/>
<circle cx="1563.2" cy="2124.25" r="5.6" fill="#f7e2f5" stroke="#4a3350" stroke-width="1.25"/>
<circle cx="1587.7" cy="2126.27" r="5.6" fill="#d5d5d5" stroke="#2a2a2a" stroke-width="1.25"/>
<circle cx="1590.7" cy="2122.23" r="5.6" fill="#d5d5d5" stroke="#2a2a2a" stroke-width="1.25"/>
<circle cx="1593.7" cy="2124.25" r="5.6" fill="#d5d5d5" stroke="#2a2a2a" stroke-width="1.25"/>
<circle cx="1590.7" cy="2125.26" r="5.6" fill="#d5d5d5" stroke="#2a2a2a" stroke-width="1.25"/>
<circle cx="1632.76" cy="2190.03" r="5.6" fill="#abc7f5" stroke="#1f2f5c" stroke-width="1.25"/>
<circle cx="1639.68" cy="2191.44" r="5.6" fill="#abc7f5" stroke="#1f2f5c" stroke-width="1.25"/>
<circle cx="1635.36" cy="2190.73" r="5.6" fill="#abc7f5" stroke="#1f2f5c" stroke-width="1.25"/>
<circle cx="1637.95" cy="2191.79" r="5.6" fill="#abc7f5" stroke="#1f2f5c" stroke-width="1.25"/>
<circle cx="1660.26" cy="2190.03" r="5.6" fill="#f7e2f5" stroke="#4a3350" stroke-width="1.25"/>
<circle cx="1667.18" cy="2191.44" r="5.6" fill="#f7e2f5" stroke="#4a3350" stroke-width="1.25"/>
<circle cx="1662.86" cy="2190.73" r="5.6" fill="#f7e2f5" stroke="#4a3350" stroke-width="1.25"/>
<circle cx="1665.45" cy="2191.79" r="5.6" fill="#f7e2f5" stroke="#4a3350" stroke-width="1.25"/>
<circle cx="1687.76" cy="2186.91" r="5.6" fill="#d5d5d5" stroke="#2a2a2a" stroke-width="1.25"/>
<circle cx="1694.68" cy="2188.46" r="5.6" fill="#d5d5d5" stroke="#2a2a2a" stroke-width="1.25"/>
<circle cx="1690.36" cy="2187.69" r="5.6" fill="#d5d5d5" stroke="#2a2a2a" stroke-width="1.25"/>
<circle cx="1692.95" cy="2188.85" r="5.6" fill="#d5d5d5" stroke="#2a2a2a" stroke-width="1.25"/>
<circle cx="1733.28" cy="2200.43" r="5.6" fill="#abc7f5" stroke="#1f2f5c" stroke-width="1.25"/>
<circle cx="1740.2" cy="2201.36" r="5.6" fill="#abc7f5" stroke="#1f2f5c" stroke-width="1.25"/>
<circle cx="1735.88" cy="2200.89" r="5.6" fill="#abc7f5" stroke="#1f2f5c" stroke-width="1.25"/>
<circle cx="1738.47" cy="2201.59" r="5.6" fill="#abc7f5" stroke="#1f2f5c" stroke-width="1.25"/>
<circle cx="1760.78" cy="2199.39" r="5.6" fill="#f7e2f5" stroke="#4a3350" stroke-width="1.25"/>
<circle cx="1767.7" cy="2200.36" r="5.6" fill="#f7e2f5" stroke="#4a3350" stroke-width="1.25"/>
<circle cx="1763.38" cy="2199.88" r="5.6" fill="#f7e2f5" stroke="#4a3350" stroke-width="1.25"/>
<circle cx="1765.97" cy="2200.61" r="5.6" fill="#f7e2f5" stroke="#4a3350" stroke-width="1.25"/>
<circle cx="1788.28" cy="2198.35" r="5.6" fill="#d5d5d5" stroke="#2a2a2a" stroke-width="1.25"/>
<circle cx="1795.2" cy="2199.37" r="5.6" fill="#d5d5d5" stroke="#2a2a2a" stroke-width="1.25"/>
<circle cx="1790.88" cy="2198.86" r="5.6" fill="#d5d5d5" stroke="#2a2a2a" stroke-width="1.25"/>
<circle cx="1793.47" cy="2199.63" r="5.6" fill="#d5d5d5" stroke="#2a2a2a" stroke-width="1.25"/>
<circle cx="1833.8" cy="2160.9" r="5.6" fill="#abc7f5" stroke="#1f2f5c" stroke-width="1.25"/>
<circle cx="1840.72" cy="2163.67" r="5.6" fill="#abc7f5" stroke="#1f2f5c" stroke-width="1.25"/>
<circle cx="1836.39" cy="2162.28" r="5.6" fill="#abc7f5" stroke="#1f2f5c" stroke-width="1.25"/>
<circle cx="1838.99" cy="2164.36" r="5.6" fill="#abc7f5" stroke="#1f2f5c" stroke-width="1.25"/>
<circle cx="1861.3" cy="2155.7" r="5.6" fill="#f7e2f5" stroke="#4a3350" stroke-width="1.25"/>
<circle cx="1868.22" cy="2158.71" r="5.6" fill="#f7e2f5" stroke="#4a3350" stroke-width="1.25"/>
<circle cx="1863.89" cy="2157.2" r="5.6" fill="#f7e2f5" stroke="#4a3350" stroke-width="1.25"/>
<circle cx="1866.49" cy="2159.46" r="5.6" fill="#f7e2f5" stroke="#4a3350" stroke-width="1.25"/>
<circle cx="1888.8" cy="2154.66" r="5.6" fill="#d5d5d5" stroke="#2a2a2a" stroke-width="1.25"/>
<circle cx="1895.72" cy="2157.72" r="5.6" fill="#d5d5d5" stroke="#2a2a2a" stroke-width="1.25"/>
<circle cx="1891.39" cy="2156.19" r="5.6" fill="#d5d5d5" stroke="#2a2a2a" stroke-width="1.25"/>
<circle cx="1893.99" cy="2158.48" r="5.6" fill="#d5d5d5" stroke="#2a2a2a" stroke-width="1.25"/>
<circle cx="1934.32" cy="2211.88" r="5.6" fill="#abc7f5" stroke="#1f2f5c" stroke-width="1.25"/>
<circle cx="1941.24" cy="2212.27" r="5.6" fill="#abc7f5" stroke="#1f2f5c" stroke-width="1.25"/>
<circle cx="1936.91" cy="2212.07" r="5.6" fill="#abc7f5" stroke="#1f2f5c" stroke-width="1.25"/>
<circle cx="1939.51" cy="2212.36" r="5.6" fill="#abc7f5" stroke="#1f2f5c" stroke-width="1.25"/>
<circle cx="1961.82" cy="2211.88" r="5.6" fill="#f7e2f5" stroke="#4a3350" stroke-width="1.25"/>
<circle cx="1968.74" cy="2212.27" r="5.6" fill="#f7e2f5" stroke="#4a3350" stroke-width="1.25"/>
<circle cx="1964.41" cy="2212.07" r="5.6" fill="#f7e2f5" stroke="#4a3350" stroke-width="1.25"/>
<circle cx="1967.01" cy="2212.36" r="5.6" fill="#f7e2f5" stroke="#4a3350" stroke-width="1.25"/>
<circle cx="1989.32" cy="2211.88" r="5.6" fill="#d5d5d5" stroke="#2a2a2a" stroke-width="1.25"/>
<circle cx="1996.24" cy="2212.27" r="5.6" fill="#d5d5d5" stroke="#2a2a2a" stroke-width="1.25"/>
<circle cx="1991.91" cy="2212.07" r="5.6" fill="#d5d5d5" stroke="#2a2a2a" stroke-width="1.25"/>
<circle cx="1994.51" cy="2212.36" r="5.6" fill="#d5d5d5" stroke="#2a2a2a" stroke-width="1.25"/>
<circle cx="2035.3" cy="2048.5" r="5.6" fill="#abc7f5" stroke="#1f2f5c" stroke-width="1.25"/>
<circle cx="2038.3" cy="2039.41" r="5.6" fill="#abc7f5" stroke="#1f2f5c" stroke-width="1.25"/>
<circle cx="2041.3" cy="2045.47" r="5.6" fill="#abc7f5" stroke="#1f2f5c" stroke-width="1.25"/>
<circle cx="2038.3" cy="2043.45" r="5.6" fill="#abc7f5" stroke="#1f2f5c" stroke-width="1.25"/>
<circle cx="2062.8" cy="2035.37" r="5.6" fill="#f7e2f5" stroke="#4a3350" stroke-width="1.25"/>
<circle cx="2065.8" cy="2025.27" r="5.6" fill="#f7e2f5" stroke="#4a3350" stroke-width="1.25"/>
<circle cx="2068.8" cy="2029.31" r="5.6" fill="#f7e2f5" stroke="#4a3350" stroke-width="1.25"/>
<circle cx="2065.8" cy="2032.34" r="5.6" fill="#f7e2f5" stroke="#4a3350" stroke-width="1.25"/>
<circle cx="2090.3" cy="2061.63" r="5.6" fill="#d5d5d5" stroke="#2a2a2a" stroke-width="1.25"/>
<circle cx="2093.3" cy="2041.43" r="5.6" fill="#d5d5d5" stroke="#2a2a2a" stroke-width="1.25"/>
<circle cx="2096.3" cy="2036.38" r="5.6" fill="#d5d5d5" stroke="#2a2a2a" stroke-width="1.25"/>
<circle cx="2096.3" cy="2049.51" r="5.6" fill="#d5d5d5" stroke="#2a2a2a" stroke-width="1.25"/>
<line x1="1535.6" y1="2095" x2="1590.3" y2="2095" stroke="#7a7a7a" stroke-width="1.3"/>
<text x="1563.2" y="2095.66" font-size="25.8" text-anchor="middle" font-weight="bold">*</text>
<line x1="2037.8" y1="2010.2" x2="2065.8" y2="2010.2" stroke="#7a7a7a" stroke-width="1.3"/>
<text x="2051.6" y="2010.06" font-size="25.8" text-anchor="middle" font-weight="bold">****</text>
<line x1="2065.8" y1="1978.9" x2="2093" y2="1978.9" stroke="#7a7a7a" stroke-width="1.3"/>
<text x="2079.6" y="1978.76" font-size="25.8" text-anchor="middle" font-weight="bold">****</text>
<text x="1810.3" y="1926.8" font-size="27.3" text-anchor="middle" font-weight="bold">Glutamate</text>
<text x="1692.94" y="1955" font-size="21" text-anchor="start" font-weight="bold" textLength="236.09" lengthAdjust="spacingAndGlyphs">[U-<tspan dy="-6.7" font-size="16.3" font-weight="normal">13</tspan><tspan dy="6.7">C]-Glutamine tracer</tspan></text>
<text x="1518.1" y="1944" font-size="20" text-anchor="end">(x10<tspan dy="-7.2" font-size="14.4">8</tspan><tspan dy="7.2">)</tspan></text>
<text x="0" y="0" font-size="20.5" text-anchor="middle" transform="translate(1465 2088.7) rotate(-90)">Rel. Abundance (A.U.)</text>
<line x1="121.8" y1="2388.4" x2="121.8" y2="2649" stroke="#6b6b6b" stroke-width="1.3"/>
<line x1="115.5" y1="2649" x2="382.2" y2="2649" stroke="#6b6b6b" stroke-width="1.3"/>
<line x1="115.8" y1="2649" x2="121.8" y2="2649" stroke="#6b6b6b" stroke-width="1.3"/>
<text x="111.8" y="2655.62" font-size="18.5" text-anchor="end">0.00</text>
<line x1="115.8" y1="2583.85" x2="121.8" y2="2583.85" stroke="#6b6b6b" stroke-width="1.3"/>
<text x="111.8" y="2590.47" font-size="18.5" text-anchor="end">0.01</text>
<line x1="115.8" y1="2518.7" x2="121.8" y2="2518.7" stroke="#6b6b6b" stroke-width="1.3"/>
<text x="111.8" y="2525.32" font-size="18.5" text-anchor="end">0.02</text>
<line x1="115.8" y1="2453.55" x2="121.8" y2="2453.55" stroke="#6b6b6b" stroke-width="1.3"/>
<text x="111.8" y="2460.17" font-size="18.5" text-anchor="end">0.03</text>
<line x1="115.8" y1="2388.4" x2="121.8" y2="2388.4" stroke="#6b6b6b" stroke-width="1.3"/>
<text x="111.8" y="2395.02" font-size="18.5" text-anchor="end">0.04</text>
<rect x="148.05" y="2622.94" width="51.5" height="26.06" fill="#6b96fd" stroke="#233f82" stroke-width="1.1"/>
<rect x="226.45" y="2546.06" width="51.5" height="102.94" fill="#f3cbf6" stroke="#7d6a85" stroke-width="1.1"/>
<rect x="304.65" y="2572.77" width="51.5" height="76.23" fill="#b4b4b4" stroke="#5c5c5c" stroke-width="1.1"/>
<line x1="173.8" y1="2609.91" x2="173.8" y2="2634.02" stroke="#1f3a7a" stroke-width="1.2"/>
<line x1="160.8" y1="2609.91" x2="186.8" y2="2609.91" stroke="#1f3a7a" stroke-width="1.2"/>
<line x1="160.8" y1="2634.02" x2="186.8" y2="2634.02" stroke="#1f3a7a" stroke-width="1.2"/>
<line x1="252.2" y1="2486.12" x2="252.2" y2="2606" stroke="#7a5a80" stroke-width="1.2"/>
<line x1="239.2" y1="2486.12" x2="265.2" y2="2486.12" stroke="#7a5a80" stroke-width="1.2"/>
<line x1="239.2" y1="2606" x2="265.2" y2="2606" stroke="#7a5a80" stroke-width="1.2"/>
<line x1="330.4" y1="2548.02" x2="330.4" y2="2596.88" stroke="#555555" stroke-width="1.2"/>
<line x1="317.4" y1="2548.02" x2="343.4" y2="2548.02" stroke="#555555" stroke-width="1.2"/>
<line x1="317.4" y1="2596.88" x2="343.4" y2="2596.88" stroke="#555555" stroke-width="1.2"/>
<circle cx="153.4" cy="2629.98" r="5.4" fill="#abc7f5" stroke="#1f2f5c" stroke-width="1.25"/>
<circle cx="173.8" cy="2604.7" r="5.4" fill="#abc7f5" stroke="#1f2f5c" stroke-width="1.25"/>
<circle cx="173.8" cy="2627.24" r="5.4" fill="#abc7f5" stroke="#1f2f5c" stroke-width="1.25"/>
<circle cx="194.4" cy="2628.02" r="5.4" fill="#abc7f5" stroke="#1f2f5c" stroke-width="1.25"/>
<circle cx="252.2" cy="2468.53" r="5.4" fill="#f7e2f5" stroke="#4a3350" stroke-width="1.25"/>
<circle cx="252.2" cy="2533.03" r="5.4" fill="#f7e2f5" stroke="#4a3350" stroke-width="1.25"/>
<circle cx="252.2" cy="2573.43" r="5.4" fill="#f7e2f5" stroke="#4a3350" stroke-width="1.25"/>
<circle cx="252.2" cy="2607.96" r="5.4" fill="#f7e2f5" stroke="#4a3350" stroke-width="1.25"/>
<circle cx="319.7" cy="2554.53" r="5.4" fill="#d5d5d5" stroke="#2a2a2a" stroke-width="1.25"/>
<circle cx="340.7" cy="2548.67" r="5.4" fill="#d5d5d5" stroke="#2a2a2a" stroke-width="1.25"/>
<circle cx="330.2" cy="2585.8" r="5.4" fill="#d5d5d5" stroke="#2a2a2a" stroke-width="1.25"/>
<circle cx="330.2" cy="2598.83" r="5.4" fill="#d5d5d5" stroke="#2a2a2a" stroke-width="1.25"/>
<line x1="174" y1="2438" x2="252.2" y2="2438" stroke="#7a7a7a" stroke-width="1.3"/>
<text x="212.6" y="2438.11" font-size="31" text-anchor="middle" font-weight="bold">*</text>
<text x="250" y="2344.3" font-size="28" text-anchor="middle" font-weight="bold">GSSG:GSH</text>
<text x="0" y="0" font-size="20.5" text-anchor="middle" transform="translate(47.5 2514.8) rotate(-90)">total pool ratio</text>
<line x1="121.8" y1="2671.3" x2="167" y2="2671.3" stroke="#7a7a7a" stroke-width="1.3"/>
<line x1="256" y1="2671.3" x2="294" y2="2671.3" stroke="#7a7a7a" stroke-width="1.3"/>
<line x1="121.8" y1="2665.3" x2="121.8" y2="2677.3" stroke="#7a7a7a" stroke-width="1.3"/>
<line x1="294" y1="2665.3" x2="294" y2="2677.3" stroke="#7a7a7a" stroke-width="1.3"/>
<text x="211.5" y="2675.2" font-size="21.5" text-anchor="middle" font-style="italic">Keap1<tspan dy="-8.6" font-size="13.76">-/-</tspan></text>
<text x="329.5" y="2675.2" font-size="19.78" text-anchor="middle" fill="#9a9a9a">WT</text>
<text x="174.5" y="2698.7" font-size="19.5" text-anchor="middle" font-style="italic" fill="#7199ea">sgScr</text>
<text x="251" y="2698.7" font-size="19.5" text-anchor="middle" font-style="italic" fill="#b550e8">sgNfe2l2</text>
<text x="330.2" y="2698.7" font-size="19.5" text-anchor="middle" font-style="italic" fill="#9c9c9c">sgScr</text>
</svg></body></html>
